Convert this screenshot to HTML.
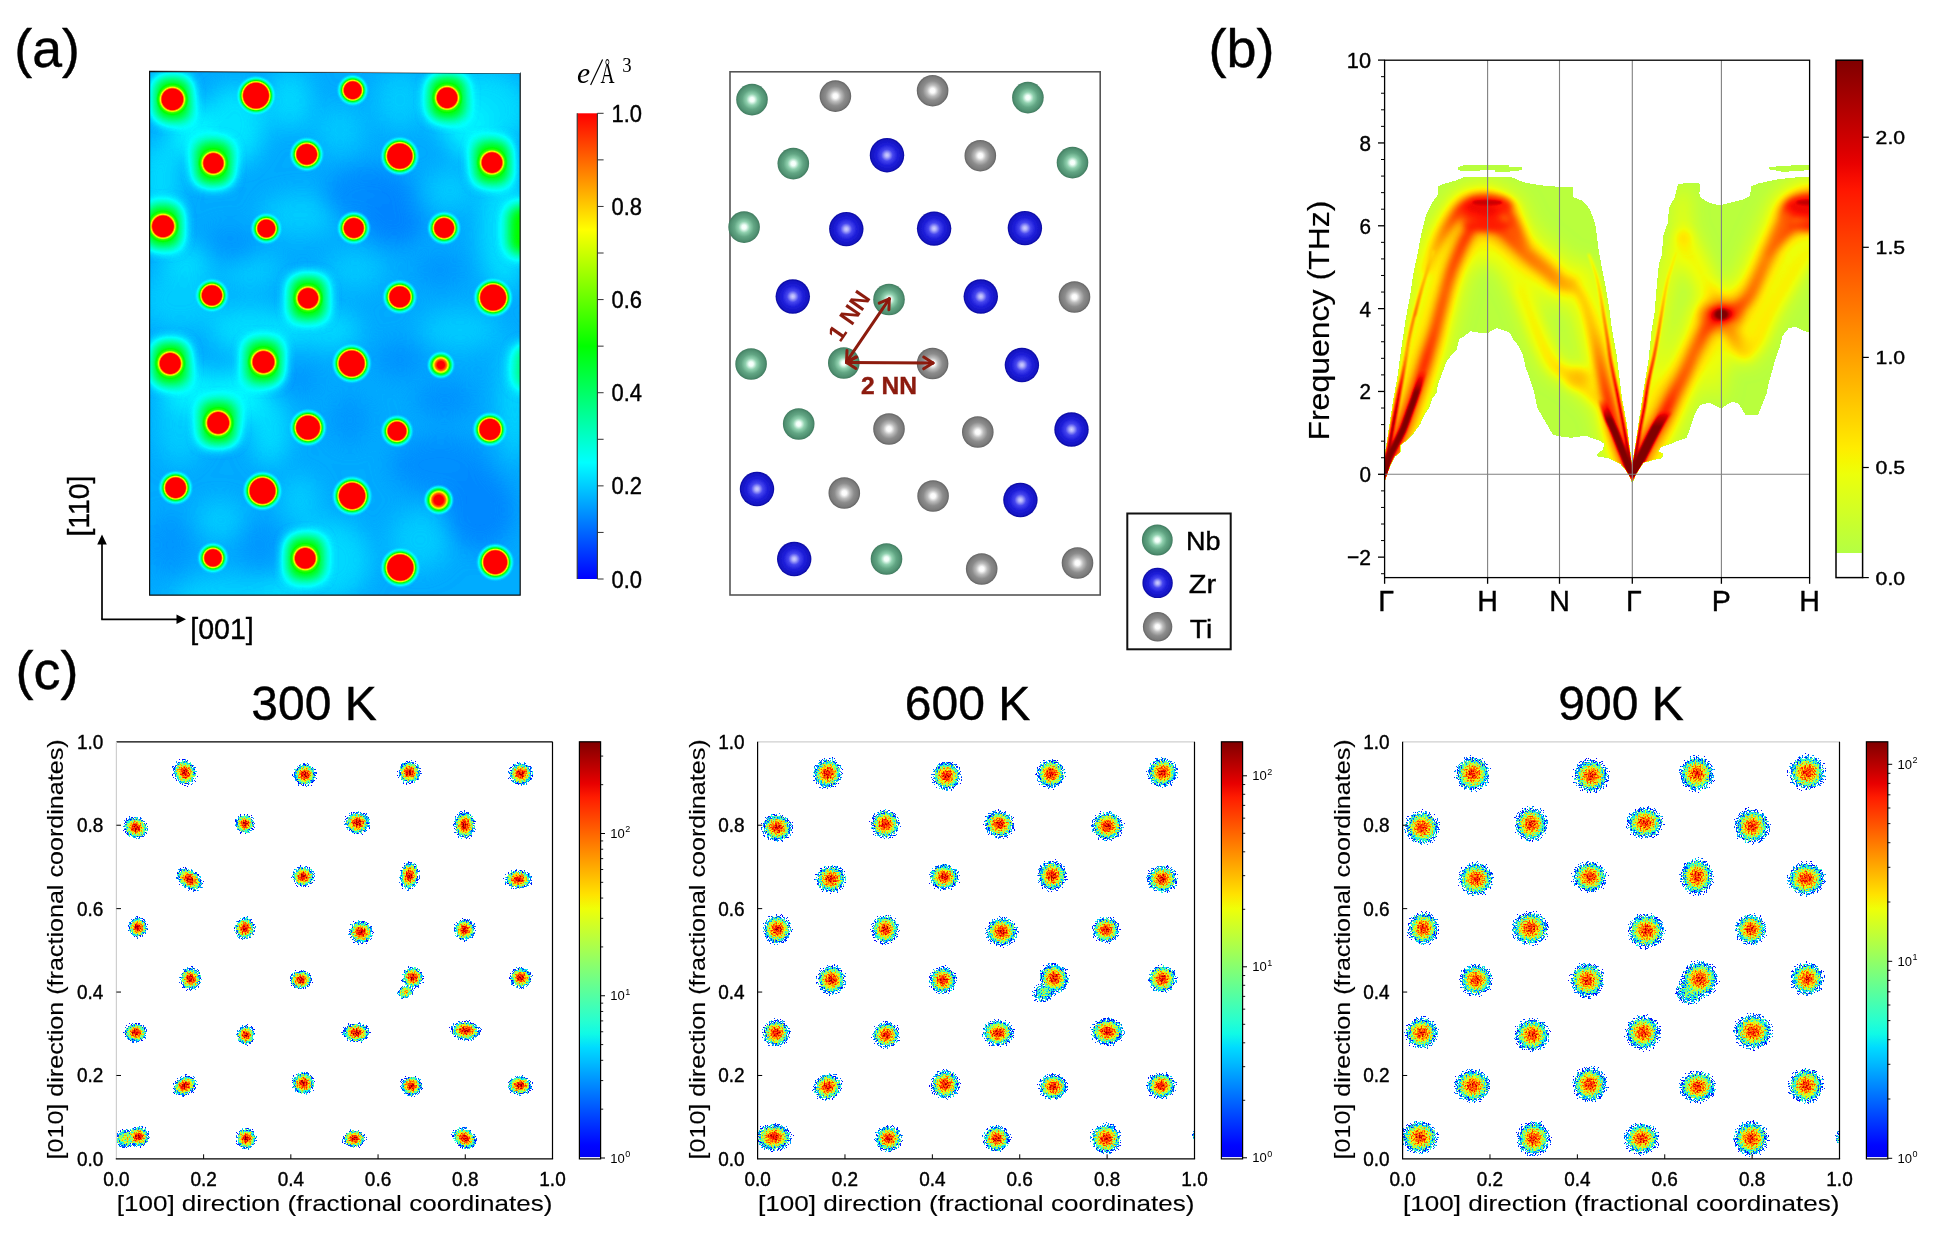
<!DOCTYPE html>
<html><head><meta charset="utf-8"><title>figure</title>
<style>html,body{margin:0;padding:0;background:#fff;}svg{display:block}</style>
</head><body>
<svg width="1944" height="1250" viewBox="0 0 1944 1250">
<defs>
<filter id="tsoft" filterUnits="userSpaceOnUse" x="0" y="0" width="1944" height="1250"><feGaussianBlur stdDeviation="0.35"/></filter>
<filter id="rainbow" filterUnits="userSpaceOnUse" x="140" y="60" width="400" height="550" color-interpolation-filters="sRGB">
<feComponentTransfer>
<feFuncR type="table" tableValues="0 0 0 1 1"/>
<feFuncG type="table" tableValues="0 1 1 1 0"/>
<feFuncB type="table" tableValues="1 1 0 0 0"/>
</feComponentTransfer></filter>
<filter id="hb10" filterUnits="userSpaceOnUse" x="100" y="20" width="480" height="630" color-interpolation-filters="sRGB"><feGaussianBlur stdDeviation="11"/></filter>
<filter id="hb6" filterUnits="userSpaceOnUse" x="100" y="20" width="480" height="630" color-interpolation-filters="sRGB"><feGaussianBlur stdDeviation="6.2"/></filter>
<clipPath id="hclip"><rect x="149.6" y="72.0" width="370.6" height="523.2"/></clipPath>
<radialGradient id="hg0"><stop offset="0" stop-color="#fff"/><stop offset="0.533" stop-color="rgb(255,255,255)" stop-opacity="1"/><stop offset="0.610" stop-color="rgb(194,194,194)" stop-opacity="1"/><stop offset="0.687" stop-color="rgb(140,140,140)" stop-opacity="1"/><stop offset="0.846" stop-color="rgb(133,133,133)" stop-opacity="0"/></radialGradient>
<radialGradient id="hg1"><stop offset="0" stop-color="#fff"/><stop offset="0.577" stop-color="rgb(255,255,255)" stop-opacity="1"/><stop offset="0.642" stop-color="rgb(194,194,194)" stop-opacity="1"/><stop offset="0.702" stop-color="rgb(128,128,128)" stop-opacity="1"/><stop offset="0.772" stop-color="rgb(82,82,82)" stop-opacity="1"/><stop offset="0.847" stop-color="rgb(64,64,64)" stop-opacity="0.7"/><stop offset="0.953" stop-color="rgb(51,51,51)" stop-opacity="0"/></radialGradient>
<radialGradient id="hg2"><stop offset="0" stop-color="#fff"/><stop offset="0.480" stop-color="rgb(255,255,255)" stop-opacity="1"/><stop offset="0.560" stop-color="rgb(194,194,194)" stop-opacity="1"/><stop offset="0.634" stop-color="rgb(128,128,128)" stop-opacity="1"/><stop offset="0.720" stop-color="rgb(82,82,82)" stop-opacity="1"/><stop offset="0.811" stop-color="rgb(64,64,64)" stop-opacity="0.7"/><stop offset="0.943" stop-color="rgb(51,51,51)" stop-opacity="0"/></radialGradient>
<radialGradient id="hg3"><stop offset="0" stop-color="#fff"/><stop offset="0.519" stop-color="rgb(255,255,255)" stop-opacity="1"/><stop offset="0.598" stop-color="rgb(194,194,194)" stop-opacity="1"/><stop offset="0.677" stop-color="rgb(140,140,140)" stop-opacity="1"/><stop offset="0.841" stop-color="rgb(133,133,133)" stop-opacity="0"/></radialGradient>
<radialGradient id="hg4"><stop offset="0" stop-color="#fff"/><stop offset="0.513" stop-color="rgb(255,255,255)" stop-opacity="1"/><stop offset="0.594" stop-color="rgb(194,194,194)" stop-opacity="1"/><stop offset="0.674" stop-color="rgb(140,140,140)" stop-opacity="1"/><stop offset="0.840" stop-color="rgb(133,133,133)" stop-opacity="0"/></radialGradient>
<radialGradient id="hg5"><stop offset="0" stop-color="#fff"/><stop offset="0.519" stop-color="rgb(255,255,255)" stop-opacity="1"/><stop offset="0.593" stop-color="rgb(194,194,194)" stop-opacity="1"/><stop offset="0.661" stop-color="rgb(128,128,128)" stop-opacity="1"/><stop offset="0.741" stop-color="rgb(82,82,82)" stop-opacity="1"/><stop offset="0.825" stop-color="rgb(64,64,64)" stop-opacity="0.7"/><stop offset="0.947" stop-color="rgb(51,51,51)" stop-opacity="0"/></radialGradient>
<radialGradient id="hg6"><stop offset="0" stop-color="#fff"/><stop offset="0.571" stop-color="rgb(255,255,255)" stop-opacity="1"/><stop offset="0.637" stop-color="rgb(194,194,194)" stop-opacity="1"/><stop offset="0.698" stop-color="rgb(128,128,128)" stop-opacity="1"/><stop offset="0.769" stop-color="rgb(82,82,82)" stop-opacity="1"/><stop offset="0.844" stop-color="rgb(64,64,64)" stop-opacity="0.7"/><stop offset="0.953" stop-color="rgb(51,51,51)" stop-opacity="0"/></radialGradient>
<radialGradient id="hg7"><stop offset="0" stop-color="#fff"/><stop offset="0.519" stop-color="rgb(255,255,255)" stop-opacity="1"/><stop offset="0.598" stop-color="rgb(194,194,194)" stop-opacity="1"/><stop offset="0.677" stop-color="rgb(140,140,140)" stop-opacity="1"/><stop offset="0.841" stop-color="rgb(133,133,133)" stop-opacity="0"/></radialGradient>
<radialGradient id="hg8"><stop offset="0" stop-color="#fff"/><stop offset="0.533" stop-color="rgb(255,255,255)" stop-opacity="1"/><stop offset="0.610" stop-color="rgb(194,194,194)" stop-opacity="1"/><stop offset="0.687" stop-color="rgb(140,140,140)" stop-opacity="1"/><stop offset="0.846" stop-color="rgb(133,133,133)" stop-opacity="0"/></radialGradient>
<radialGradient id="hg9"><stop offset="0" stop-color="#fff"/><stop offset="0.480" stop-color="rgb(255,255,255)" stop-opacity="1"/><stop offset="0.560" stop-color="rgb(194,194,194)" stop-opacity="1"/><stop offset="0.634" stop-color="rgb(128,128,128)" stop-opacity="1"/><stop offset="0.720" stop-color="rgb(82,82,82)" stop-opacity="1"/><stop offset="0.811" stop-color="rgb(64,64,64)" stop-opacity="0.7"/><stop offset="0.943" stop-color="rgb(51,51,51)" stop-opacity="0"/></radialGradient>
<radialGradient id="hg10"><stop offset="0" stop-color="#fff"/><stop offset="0.508" stop-color="rgb(255,255,255)" stop-opacity="1"/><stop offset="0.584" stop-color="rgb(194,194,194)" stop-opacity="1"/><stop offset="0.654" stop-color="rgb(128,128,128)" stop-opacity="1"/><stop offset="0.735" stop-color="rgb(82,82,82)" stop-opacity="1"/><stop offset="0.822" stop-color="rgb(64,64,64)" stop-opacity="0.7"/><stop offset="0.946" stop-color="rgb(51,51,51)" stop-opacity="0"/></radialGradient>
<radialGradient id="hg11"><stop offset="0" stop-color="#fff"/><stop offset="0.508" stop-color="rgb(255,255,255)" stop-opacity="1"/><stop offset="0.584" stop-color="rgb(194,194,194)" stop-opacity="1"/><stop offset="0.654" stop-color="rgb(128,128,128)" stop-opacity="1"/><stop offset="0.735" stop-color="rgb(82,82,82)" stop-opacity="1"/><stop offset="0.822" stop-color="rgb(64,64,64)" stop-opacity="0.7"/><stop offset="0.946" stop-color="rgb(51,51,51)" stop-opacity="0"/></radialGradient>
<radialGradient id="hg12"><stop offset="0" stop-color="#fff"/><stop offset="0.513" stop-color="rgb(255,255,255)" stop-opacity="1"/><stop offset="0.588" stop-color="rgb(194,194,194)" stop-opacity="1"/><stop offset="0.658" stop-color="rgb(128,128,128)" stop-opacity="1"/><stop offset="0.738" stop-color="rgb(82,82,82)" stop-opacity="1"/><stop offset="0.824" stop-color="rgb(64,64,64)" stop-opacity="0.7"/><stop offset="0.947" stop-color="rgb(51,51,51)" stop-opacity="0"/></radialGradient>
<radialGradient id="hg13"><stop offset="0" stop-color="#fff"/><stop offset="0.513" stop-color="rgb(255,255,255)" stop-opacity="1"/><stop offset="0.594" stop-color="rgb(194,194,194)" stop-opacity="1"/><stop offset="0.674" stop-color="rgb(140,140,140)" stop-opacity="1"/><stop offset="0.840" stop-color="rgb(133,133,133)" stop-opacity="0"/></radialGradient>
<radialGradient id="hg14"><stop offset="0" stop-color="#fff"/><stop offset="0.524" stop-color="rgb(255,255,255)" stop-opacity="1"/><stop offset="0.597" stop-color="rgb(194,194,194)" stop-opacity="1"/><stop offset="0.665" stop-color="rgb(128,128,128)" stop-opacity="1"/><stop offset="0.743" stop-color="rgb(82,82,82)" stop-opacity="1"/><stop offset="0.827" stop-color="rgb(64,64,64)" stop-opacity="0.7"/><stop offset="0.948" stop-color="rgb(51,51,51)" stop-opacity="0"/></radialGradient>
<radialGradient id="hg15"><stop offset="0" stop-color="#fff"/><stop offset="0.577" stop-color="rgb(255,255,255)" stop-opacity="1"/><stop offset="0.642" stop-color="rgb(194,194,194)" stop-opacity="1"/><stop offset="0.702" stop-color="rgb(128,128,128)" stop-opacity="1"/><stop offset="0.772" stop-color="rgb(82,82,82)" stop-opacity="1"/><stop offset="0.847" stop-color="rgb(64,64,64)" stop-opacity="0.7"/><stop offset="0.953" stop-color="rgb(51,51,51)" stop-opacity="0"/></radialGradient>
<radialGradient id="hg16"><stop offset="0" stop-color="#fff"/><stop offset="0.524" stop-color="rgb(255,255,255)" stop-opacity="1"/><stop offset="0.602" stop-color="rgb(194,194,194)" stop-opacity="1"/><stop offset="0.681" stop-color="rgb(140,140,140)" stop-opacity="1"/><stop offset="0.843" stop-color="rgb(133,133,133)" stop-opacity="0"/></radialGradient>
<radialGradient id="hg17"><stop offset="0" stop-color="#fff"/><stop offset="0.533" stop-color="rgb(255,255,255)" stop-opacity="1"/><stop offset="0.610" stop-color="rgb(194,194,194)" stop-opacity="1"/><stop offset="0.687" stop-color="rgb(140,140,140)" stop-opacity="1"/><stop offset="0.846" stop-color="rgb(133,133,133)" stop-opacity="0"/></radialGradient>
<radialGradient id="hg18"><stop offset="0" stop-color="#fff"/><stop offset="0.577" stop-color="rgb(255,255,255)" stop-opacity="1"/><stop offset="0.642" stop-color="rgb(194,194,194)" stop-opacity="1"/><stop offset="0.702" stop-color="rgb(128,128,128)" stop-opacity="1"/><stop offset="0.772" stop-color="rgb(82,82,82)" stop-opacity="1"/><stop offset="0.847" stop-color="rgb(64,64,64)" stop-opacity="0.7"/><stop offset="0.953" stop-color="rgb(51,51,51)" stop-opacity="0"/></radialGradient>
<radialGradient id="hg19"><stop offset="0" stop-color="#fff"/><stop offset="0.241" stop-color="rgb(255,255,255)" stop-opacity="1"/><stop offset="0.379" stop-color="rgb(230,230,230)" stop-opacity="1"/><stop offset="0.497" stop-color="rgb(189,189,189)" stop-opacity="1"/><stop offset="0.621" stop-color="rgb(128,128,128)" stop-opacity="1"/><stop offset="0.772" stop-color="rgb(76,76,76)" stop-opacity="1"/><stop offset="1.000" stop-color="rgb(51,51,51)" stop-opacity="0"/></radialGradient>
<radialGradient id="hg20"><stop offset="0" stop-color="#fff"/><stop offset="0.533" stop-color="rgb(255,255,255)" stop-opacity="1"/><stop offset="0.610" stop-color="rgb(194,194,194)" stop-opacity="1"/><stop offset="0.687" stop-color="rgb(140,140,140)" stop-opacity="1"/><stop offset="0.846" stop-color="rgb(133,133,133)" stop-opacity="0"/></radialGradient>
<radialGradient id="hg21"><stop offset="0" stop-color="#fff"/><stop offset="0.556" stop-color="rgb(255,255,255)" stop-opacity="1"/><stop offset="0.624" stop-color="rgb(194,194,194)" stop-opacity="1"/><stop offset="0.688" stop-color="rgb(128,128,128)" stop-opacity="1"/><stop offset="0.761" stop-color="rgb(82,82,82)" stop-opacity="1"/><stop offset="0.839" stop-color="rgb(64,64,64)" stop-opacity="0.7"/><stop offset="0.951" stop-color="rgb(51,51,51)" stop-opacity="0"/></radialGradient>
<radialGradient id="hg22"><stop offset="0" stop-color="#fff"/><stop offset="0.494" stop-color="rgb(255,255,255)" stop-opacity="1"/><stop offset="0.572" stop-color="rgb(194,194,194)" stop-opacity="1"/><stop offset="0.644" stop-color="rgb(128,128,128)" stop-opacity="1"/><stop offset="0.728" stop-color="rgb(82,82,82)" stop-opacity="1"/><stop offset="0.817" stop-color="rgb(64,64,64)" stop-opacity="0.7"/><stop offset="0.944" stop-color="rgb(51,51,51)" stop-opacity="0"/></radialGradient>
<radialGradient id="hg23"><stop offset="0" stop-color="#fff"/><stop offset="0.524" stop-color="rgb(255,255,255)" stop-opacity="1"/><stop offset="0.597" stop-color="rgb(194,194,194)" stop-opacity="1"/><stop offset="0.665" stop-color="rgb(128,128,128)" stop-opacity="1"/><stop offset="0.743" stop-color="rgb(82,82,82)" stop-opacity="1"/><stop offset="0.827" stop-color="rgb(64,64,64)" stop-opacity="0.7"/><stop offset="0.948" stop-color="rgb(51,51,51)" stop-opacity="0"/></radialGradient>
<radialGradient id="hg24"><stop offset="0" stop-color="#fff"/><stop offset="0.519" stop-color="rgb(255,255,255)" stop-opacity="1"/><stop offset="0.593" stop-color="rgb(194,194,194)" stop-opacity="1"/><stop offset="0.661" stop-color="rgb(128,128,128)" stop-opacity="1"/><stop offset="0.741" stop-color="rgb(82,82,82)" stop-opacity="1"/><stop offset="0.825" stop-color="rgb(64,64,64)" stop-opacity="0.7"/><stop offset="0.947" stop-color="rgb(51,51,51)" stop-opacity="0"/></radialGradient>
<radialGradient id="hg25"><stop offset="0" stop-color="#fff"/><stop offset="0.577" stop-color="rgb(255,255,255)" stop-opacity="1"/><stop offset="0.642" stop-color="rgb(194,194,194)" stop-opacity="1"/><stop offset="0.702" stop-color="rgb(128,128,128)" stop-opacity="1"/><stop offset="0.772" stop-color="rgb(82,82,82)" stop-opacity="1"/><stop offset="0.847" stop-color="rgb(64,64,64)" stop-opacity="0.7"/><stop offset="0.953" stop-color="rgb(51,51,51)" stop-opacity="0"/></radialGradient>
<radialGradient id="hg26"><stop offset="0" stop-color="#fff"/><stop offset="0.581" stop-color="rgb(255,255,255)" stop-opacity="1"/><stop offset="0.645" stop-color="rgb(194,194,194)" stop-opacity="1"/><stop offset="0.705" stop-color="rgb(128,128,128)" stop-opacity="1"/><stop offset="0.774" stop-color="rgb(82,82,82)" stop-opacity="1"/><stop offset="0.848" stop-color="rgb(64,64,64)" stop-opacity="0.7"/><stop offset="0.954" stop-color="rgb(51,51,51)" stop-opacity="0"/></radialGradient>
<radialGradient id="hg27"><stop offset="0" stop-color="#fff"/><stop offset="0.299" stop-color="rgb(255,255,255)" stop-opacity="1"/><stop offset="0.427" stop-color="rgb(230,230,230)" stop-opacity="1"/><stop offset="0.535" stop-color="rgb(189,189,189)" stop-opacity="1"/><stop offset="0.650" stop-color="rgb(128,128,128)" stop-opacity="1"/><stop offset="0.790" stop-color="rgb(76,76,76)" stop-opacity="1"/><stop offset="1.000" stop-color="rgb(51,51,51)" stop-opacity="0"/></radialGradient>
<radialGradient id="hg28"><stop offset="0" stop-color="#fff"/><stop offset="0.474" stop-color="rgb(255,255,255)" stop-opacity="1"/><stop offset="0.555" stop-color="rgb(194,194,194)" stop-opacity="1"/><stop offset="0.630" stop-color="rgb(128,128,128)" stop-opacity="1"/><stop offset="0.717" stop-color="rgb(82,82,82)" stop-opacity="1"/><stop offset="0.809" stop-color="rgb(64,64,64)" stop-opacity="0.7"/><stop offset="0.942" stop-color="rgb(51,51,51)" stop-opacity="0"/></radialGradient>
<radialGradient id="hg29"><stop offset="0" stop-color="#fff"/><stop offset="0.519" stop-color="rgb(255,255,255)" stop-opacity="1"/><stop offset="0.598" stop-color="rgb(194,194,194)" stop-opacity="1"/><stop offset="0.677" stop-color="rgb(140,140,140)" stop-opacity="1"/><stop offset="0.841" stop-color="rgb(133,133,133)" stop-opacity="0"/></radialGradient>
<radialGradient id="hg30"><stop offset="0" stop-color="#fff"/><stop offset="0.581" stop-color="rgb(255,255,255)" stop-opacity="1"/><stop offset="0.645" stop-color="rgb(194,194,194)" stop-opacity="1"/><stop offset="0.705" stop-color="rgb(128,128,128)" stop-opacity="1"/><stop offset="0.774" stop-color="rgb(82,82,82)" stop-opacity="1"/><stop offset="0.848" stop-color="rgb(64,64,64)" stop-opacity="0.7"/><stop offset="0.954" stop-color="rgb(51,51,51)" stop-opacity="0"/></radialGradient>
<radialGradient id="hg31"><stop offset="0" stop-color="#fff"/><stop offset="0.556" stop-color="rgb(255,255,255)" stop-opacity="1"/><stop offset="0.624" stop-color="rgb(194,194,194)" stop-opacity="1"/><stop offset="0.688" stop-color="rgb(128,128,128)" stop-opacity="1"/><stop offset="0.761" stop-color="rgb(82,82,82)" stop-opacity="1"/><stop offset="0.839" stop-color="rgb(64,64,64)" stop-opacity="0.7"/><stop offset="0.951" stop-color="rgb(51,51,51)" stop-opacity="0"/></radialGradient>
<linearGradient id="cba" x1="0" y1="1" x2="0" y2="0">
<stop offset="0" stop-color="#0000ff"/><stop offset="0.25" stop-color="#00ffff"/><stop offset="0.5" stop-color="#00ff00"/><stop offset="0.75" stop-color="#ffff00"/><stop offset="1" stop-color="#ff0000"/></linearGradient>
<radialGradient id="aNb" cx="0.5" cy="0.5" r="0.5" fx="0.5" fy="0.5">
<stop offset="0" stop-color="#ffffff"/><stop offset="0.14" stop-color="#f0fff8"/><stop offset="0.36" stop-color="#8fd0ae"/><stop offset="0.62" stop-color="#62a684"/><stop offset="0.88" stop-color="#4f8f70"/><stop offset="1" stop-color="#3f7a5e"/></radialGradient>
<radialGradient id="aZr" cx="0.5" cy="0.5" r="0.5">
<stop offset="0" stop-color="#d0d0ff"/><stop offset="0.12" stop-color="#b0b0fa"/><stop offset="0.34" stop-color="#4545ee"/><stop offset="0.6" stop-color="#1f1fda"/><stop offset="0.88" stop-color="#1414c4"/><stop offset="1" stop-color="#0c0ca0"/></radialGradient>
<radialGradient id="aTi" cx="0.5" cy="0.5" r="0.5">
<stop offset="0" stop-color="#ffffff"/><stop offset="0.15" stop-color="#fafafa"/><stop offset="0.36" stop-color="#bcbcbc"/><stop offset="0.62" stop-color="#8c8c8c"/><stop offset="0.88" stop-color="#7a7a7a"/><stop offset="1" stop-color="#626262"/></radialGradient>
<filter id="soft" x="-20%" y="-20%" width="140%" height="140%"><feGaussianBlur stdDeviation="0.6"/></filter>
<filter id="hotmap" filterUnits="userSpaceOnUse" x="1380" y="55" width="435" height="530" color-interpolation-filters="sRGB">
<feComponentTransfer><feFuncR type="table" tableValues="1.000 1.000 1.000 1.000 1.000 1.000 1.000 1.000 1.000 1.000 1.000 1.000 0.704 0.710 0.716 0.721 0.727 0.733 0.739 0.744 0.750 0.756 0.762 0.767 0.773 0.779 0.784 0.790 0.796 0.802 0.807 0.813 0.819 0.825 0.830 0.836 0.842 0.848 0.853 0.859 0.865 0.870 0.876 0.882 0.888 0.893 0.899 0.905 0.911 0.916 0.922 0.928 0.933 0.939 0.945 0.951 0.956 0.962 0.968 0.974 0.979 0.985 0.991 0.997 1.000 1.000 1.000 1.000 1.000 1.000 1.000 1.000 1.000 1.000 1.000 1.000 1.000 1.000 1.000 1.000 1.000 1.000 1.000 1.000 1.000 1.000 1.000 1.000 1.000 1.000 1.000 1.000 1.000 1.000 1.000 1.000 1.000 1.000 1.000 1.000 1.000 1.000 1.000 1.000 1.000 1.000 1.000 1.000 1.000 1.000 1.000 1.000 1.000 1.000 1.000 1.000 1.000 1.000 1.000 1.000 1.000 1.000 1.000 1.000 1.000 1.000 1.000 1.000 1.000 1.000 1.000 1.000 1.000 1.000 1.000 1.000 1.000 1.000 1.000 1.000 1.000 1.000 1.000 1.000 1.000 1.000 1.000 1.000 1.000 1.000 1.000 1.000 1.000 1.000 1.000 1.000 1.000 1.000 1.000 1.000 1.000 1.000 1.000 1.000 1.000 1.000 1.000 1.000 1.000 1.000 1.000 1.000 1.000 1.000 1.000 1.000 1.000 1.000 1.000 1.000 1.000 1.000 1.000 1.000 1.000 1.000 1.000 1.000 1.000 1.000 1.000 1.000 1.000 1.000 0.993 0.984 0.976 0.968 0.960 0.952 0.944 0.936 0.928 0.920 0.912 0.904 0.896 0.888 0.880 0.871 0.863 0.855 0.847 0.839 0.831 0.823 0.815 0.807 0.799 0.791 0.783 0.775 0.766 0.758 0.750 0.742 0.734 0.726 0.718 0.710 0.702 0.694 0.686 0.678 0.670 0.661 0.653 0.645 0.637 0.629 0.621 0.613 0.605 0.597 0.589 0.581 0.573 0.565 0.557 0.548 0.540 0.532 0.524 0.516 0.508 0.500"/><feFuncG type="table" tableValues="1.000 1.000 1.000 1.000 1.000 1.000 1.000 1.000 1.000 1.000 1.000 1.000 1.000 1.000 1.000 1.000 1.000 1.000 1.000 1.000 1.000 1.000 1.000 1.000 1.000 1.000 1.000 1.000 1.000 1.000 1.000 1.000 1.000 1.000 1.000 1.000 1.000 1.000 1.000 1.000 1.000 1.000 1.000 1.000 1.000 1.000 1.000 1.000 1.000 1.000 1.000 1.000 1.000 0.996 0.989 0.983 0.976 0.969 0.963 0.956 0.950 0.943 0.937 0.930 0.923 0.917 0.910 0.904 0.897 0.890 0.884 0.877 0.871 0.864 0.858 0.851 0.844 0.838 0.831 0.825 0.818 0.812 0.805 0.798 0.792 0.785 0.779 0.772 0.765 0.759 0.752 0.746 0.739 0.733 0.726 0.719 0.713 0.706 0.700 0.693 0.686 0.680 0.673 0.667 0.660 0.654 0.647 0.640 0.634 0.627 0.621 0.614 0.608 0.601 0.594 0.588 0.581 0.575 0.568 0.561 0.555 0.548 0.542 0.535 0.529 0.522 0.515 0.509 0.502 0.496 0.489 0.483 0.476 0.469 0.463 0.456 0.450 0.443 0.436 0.430 0.423 0.417 0.410 0.404 0.397 0.390 0.384 0.377 0.371 0.364 0.358 0.351 0.344 0.338 0.331 0.325 0.318 0.311 0.305 0.298 0.292 0.285 0.279 0.272 0.265 0.259 0.252 0.246 0.239 0.233 0.226 0.219 0.213 0.206 0.200 0.193 0.186 0.180 0.173 0.167 0.160 0.154 0.147 0.140 0.134 0.127 0.121 0.114 0.107 0.101 0.094 0.088 0.081 0.075 0.068 0.061 0.055 0.048 0.042 0.035 0.029 0.022 0.015 0.009 0.002 0.000 0.000 0.000 0.000 0.000 0.000 0.000 0.000 0.000 0.000 0.000 0.000 0.000 0.000 0.000 0.000 0.000 0.000 0.000 0.000 0.000 0.000 0.000 0.000 0.000 0.000 0.000 0.000 0.000 0.000 0.000 0.000 0.000 0.000 0.000 0.000 0.000 0.000 0.000 0.000 0.000 0.000 0.000 0.000 0.000 0.000 0.000 0.000 0.000 0.000 0.000"/><feFuncB type="table" tableValues="1.000 1.000 1.000 1.000 1.000 1.000 1.000 1.000 1.000 1.000 1.000 1.000 0.263 0.258 0.252 0.246 0.241 0.235 0.229 0.223 0.218 0.212 0.206 0.200 0.195 0.189 0.183 0.178 0.172 0.166 0.160 0.155 0.149 0.143 0.137 0.132 0.126 0.120 0.114 0.109 0.103 0.097 0.092 0.086 0.080 0.074 0.069 0.063 0.057 0.051 0.046 0.040 0.034 0.029 0.023 0.017 0.011 0.006 0.000 0.000 0.000 0.000 0.000 0.000 0.000 0.000 0.000 0.000 0.000 0.000 0.000 0.000 0.000 0.000 0.000 0.000 0.000 0.000 0.000 0.000 0.000 0.000 0.000 0.000 0.000 0.000 0.000 0.000 0.000 0.000 0.000 0.000 0.000 0.000 0.000 0.000 0.000 0.000 0.000 0.000 0.000 0.000 0.000 0.000 0.000 0.000 0.000 0.000 0.000 0.000 0.000 0.000 0.000 0.000 0.000 0.000 0.000 0.000 0.000 0.000 0.000 0.000 0.000 0.000 0.000 0.000 0.000 0.000 0.000 0.000 0.000 0.000 0.000 0.000 0.000 0.000 0.000 0.000 0.000 0.000 0.000 0.000 0.000 0.000 0.000 0.000 0.000 0.000 0.000 0.000 0.000 0.000 0.000 0.000 0.000 0.000 0.000 0.000 0.000 0.000 0.000 0.000 0.000 0.000 0.000 0.000 0.000 0.000 0.000 0.000 0.000 0.000 0.000 0.000 0.000 0.000 0.000 0.000 0.000 0.000 0.000 0.000 0.000 0.000 0.000 0.000 0.000 0.000 0.000 0.000 0.000 0.000 0.000 0.000 0.000 0.000 0.000 0.000 0.000 0.000 0.000 0.000 0.000 0.000 0.000 0.000 0.000 0.000 0.000 0.000 0.000 0.000 0.000 0.000 0.000 0.000 0.000 0.000 0.000 0.000 0.000 0.000 0.000 0.000 0.000 0.000 0.000 0.000 0.000 0.000 0.000 0.000 0.000 0.000 0.000 0.000 0.000 0.000 0.000 0.000 0.000 0.000 0.000 0.000 0.000 0.000 0.000 0.000 0.000 0.000 0.000 0.000 0.000 0.000 0.000 0.000"/></feComponentTransfer></filter>
<filter id="bb9" filterUnits="userSpaceOnUse" x="1340" y="20" width="520" height="600" color-interpolation-filters="sRGB"><feGaussianBlur stdDeviation="9"/></filter>
<filter id="bb5" filterUnits="userSpaceOnUse" x="1340" y="20" width="520" height="600" color-interpolation-filters="sRGB"><feGaussianBlur stdDeviation="5"/></filter>
<filter id="bb3" filterUnits="userSpaceOnUse" x="1340" y="20" width="520" height="600" color-interpolation-filters="sRGB"><feGaussianBlur stdDeviation="3.0"/></filter>
<filter id="bb15" filterUnits="userSpaceOnUse" x="1340" y="20" width="520" height="600" color-interpolation-filters="sRGB"><feGaussianBlur stdDeviation="1.25"/></filter>
<filter id="bb08" filterUnits="userSpaceOnUse" x="1340" y="20" width="520" height="600" color-interpolation-filters="sRGB"><feGaussianBlur stdDeviation="0.8"/></filter>
<clipPath id="benv"><path d="M1384.4 482.5 L1384.4 456.6 L1386.7 445.1 L1390.1 422.1 L1393.6 399.1 L1397.3 378.9 L1401.7 347.3 L1406.0 318.5 L1410.3 295.4 L1413.2 275.3 L1417.5 255.1 L1421.8 232.1 L1426.1 214.8 L1431.9 203.3 L1437.6 194.7 L1437.6 186.1 L1445.4 183.2 L1456.4 180.3 L1465.0 176.8 L1487.4 176.8 L1511.0 176.8 L1522.6 181.7 L1534.1 184.0 L1548.5 186.1 L1572.9 186.9 L1572.9 197.0 L1581.6 199.9 L1588.8 207.6 L1593.1 216.3 L1596.0 226.4 L1598.8 249.4 L1601.7 266.7 L1606.0 289.7 L1608.9 307.0 L1611.8 330.0 L1616.1 353.0 L1619.0 376.0 L1621.9 399.1 L1626.2 422.1 L1629.1 445.1 L1631.4 462.4 L1632.5 482.5 L1629.1 475.3 L1624.7 468.2 L1620.4 463.8 L1614.7 461.0 L1608.9 458.1 L1597.4 456.6 L1597.4 453.8 L1603.2 449.4 L1604.6 443.7 L1600.3 440.8 L1591.6 437.9 L1585.9 435.9 L1571.5 437.9 L1559.4 436.5 L1552.8 435.0 L1547.0 425.0 L1542.7 417.8 L1537.0 407.7 L1534.1 393.3 L1529.8 378.9 L1525.4 367.4 L1522.6 354.5 L1518.2 345.8 L1512.5 338.6 L1509.6 332.9 L1502.4 330.0 L1496.7 328.5 L1490.9 331.4 L1487.4 333.4 L1482.3 333.4 L1470.7 331.4 L1465.0 335.7 L1459.2 339.2 L1456.4 350.1 L1450.6 355.9 L1446.3 361.6 L1442.0 373.2 L1437.6 384.7 L1436.2 393.3 L1431.9 399.1 L1429.0 407.7 L1423.3 416.3 L1420.4 423.5 L1413.2 433.6 L1406.0 440.8 L1400.2 445.1 L1400.2 452.3 L1394.5 456.6 L1390.1 465.3 L1386.7 475.3Z M1457.8 167.3 L1465.0 164.5 L1508.2 164.5 L1509.6 166.5 L1522.6 167.3 L1522.6 170.2 L1511.0 171.7 L1495.2 172.2 L1495.2 170.2 L1486.6 170.2 L1462.1 171.7 L1457.8 169.4Z M1632.2 482.5 L1632.8 462.4 L1636.0 442.2 L1640.3 413.5 L1644.6 384.7 L1648.9 358.8 L1651.8 330.0 L1654.7 312.7 L1656.1 295.4 L1659.0 263.8 L1661.9 255.1 L1663.3 235.0 L1667.6 223.5 L1669.1 207.6 L1674.8 197.6 L1677.7 184.6 L1683.5 183.2 L1699.3 183.2 L1700.7 186.1 L1699.3 193.3 L1700.7 197.6 L1706.5 201.3 L1713.7 203.9 L1721.5 204.8 L1735.3 201.3 L1743.9 199.0 L1749.7 196.1 L1751.1 186.1 L1758.3 183.2 L1767.0 181.2 L1778.5 178.9 L1795.7 177.4 L1811.6 176.8 L1811.6 332.9 L1804.4 331.4 L1795.7 327.1 L1788.5 328.5 L1782.8 335.7 L1779.9 347.3 L1775.6 358.8 L1772.7 370.3 L1768.4 384.7 L1767.0 393.3 L1761.2 407.7 L1758.3 414.9 L1745.4 414.9 L1742.5 410.6 L1738.2 403.4 L1732.4 401.9 L1726.7 404.8 L1721.5 409.1 L1716.6 406.3 L1710.8 403.4 L1703.6 403.4 L1699.3 406.3 L1695.0 413.5 L1692.1 422.1 L1689.2 430.7 L1686.4 437.9 L1677.7 440.8 L1670.5 443.7 L1661.9 446.6 L1657.6 450.9 L1663.3 453.8 L1661.9 458.1 L1654.7 459.5 L1643.2 462.4 L1636.0 473.9Z M1768.4 167.3 L1778.5 165.9 L1790.0 165.9 L1792.9 164.5 L1811.6 164.5 L1811.6 170.2 L1795.7 171.1 L1784.2 172.2 L1777.0 171.1 L1768.4 169.4Z"/></clipPath>
<clipPath id="bax"><rect x="1384.6" y="60.2" width="425.0" height="517.4"/></clipPath>
<linearGradient id="bg1" gradientUnits="userSpaceOnUse" x1="0" y1="221.5" x2="0" y2="475.3"><stop offset="0.000" stop-color="rgb(66,66,66)"/><stop offset="0.133" stop-color="rgb(61,61,61)"/><stop offset="0.269" stop-color="rgb(55,55,55)"/><stop offset="0.416" stop-color="rgb(59,59,59)"/><stop offset="0.541" stop-color="rgb(66,66,66)"/><stop offset="1.000" stop-color="rgb(69,69,69)"/></linearGradient>
<linearGradient id="bg2" gradientUnits="userSpaceOnUse" x1="0" y1="221.5" x2="0" y2="475.3"><stop offset="0.000" stop-color="rgb(118,118,118)"/><stop offset="0.133" stop-color="rgb(108,108,108)"/><stop offset="0.269" stop-color="rgb(98,98,98)"/><stop offset="0.416" stop-color="rgb(104,104,104)"/><stop offset="0.541" stop-color="rgb(118,118,118)"/><stop offset="1.000" stop-color="rgb(122,122,122)"/></linearGradient>
<linearGradient id="bg3" gradientUnits="userSpaceOnUse" x1="0" y1="221.5" x2="0" y2="475.3"><stop offset="0.000" stop-color="rgb(184,184,184)"/><stop offset="0.133" stop-color="rgb(168,168,168)"/><stop offset="0.269" stop-color="rgb(153,153,153)"/><stop offset="0.416" stop-color="rgb(163,163,163)"/><stop offset="0.541" stop-color="rgb(184,184,184)"/><stop offset="1.000" stop-color="rgb(191,191,191)"/></linearGradient>
<linearGradient id="bg4" gradientUnits="userSpaceOnUse" x1="1427.6" y1="0" x2="1487.4" y2="0"><stop offset="0.000" stop-color="rgb(46,46,46)"/><stop offset="0.192" stop-color="rgb(46,46,46)"/><stop offset="0.529" stop-color="rgb(64,64,64)"/><stop offset="1.000" stop-color="rgb(73,73,73)"/></linearGradient>
<linearGradient id="bg5" gradientUnits="userSpaceOnUse" x1="1427.6" y1="0" x2="1487.4" y2="0"><stop offset="0.000" stop-color="rgb(51,51,51)"/><stop offset="0.192" stop-color="rgb(73,73,73)"/><stop offset="0.529" stop-color="rgb(114,114,114)"/><stop offset="1.000" stop-color="rgb(131,131,131)"/></linearGradient>
<linearGradient id="bg6" gradientUnits="userSpaceOnUse" x1="1427.6" y1="0" x2="1487.4" y2="0"><stop offset="0.000" stop-color="rgb(76,76,76)"/><stop offset="0.192" stop-color="rgb(115,115,115)"/><stop offset="0.529" stop-color="rgb(178,178,178)"/><stop offset="1.000" stop-color="rgb(204,204,204)"/></linearGradient>
<linearGradient id="bg7" gradientUnits="userSpaceOnUse" x1="1487.4" y1="0" x2="1571.5" y2="0"><stop offset="0.000" stop-color="rgb(66,66,66)"/><stop offset="0.247" stop-color="rgb(57,57,57)"/><stop offset="0.521" stop-color="rgb(48,48,48)"/><stop offset="0.856" stop-color="rgb(46,46,46)"/><stop offset="1.000" stop-color="rgb(46,46,46)"/></linearGradient>
<linearGradient id="bg8" gradientUnits="userSpaceOnUse" x1="1487.4" y1="0" x2="1571.5" y2="0"><stop offset="0.000" stop-color="rgb(118,118,118)"/><stop offset="0.247" stop-color="rgb(101,101,101)"/><stop offset="0.521" stop-color="rgb(85,85,85)"/><stop offset="0.856" stop-color="rgb(73,73,73)"/><stop offset="1.000" stop-color="rgb(65,65,65)"/></linearGradient>
<linearGradient id="bg9" gradientUnits="userSpaceOnUse" x1="1487.4" y1="0" x2="1571.5" y2="0"><stop offset="0.000" stop-color="rgb(184,184,184)"/><stop offset="0.247" stop-color="rgb(158,158,158)"/><stop offset="0.521" stop-color="rgb(133,133,133)"/><stop offset="0.856" stop-color="rgb(115,115,115)"/><stop offset="1.000" stop-color="rgb(102,102,102)"/></linearGradient>
<linearGradient id="bg10" gradientUnits="userSpaceOnUse" x1="1559.4" y1="0" x2="1632.5" y2="0"><stop offset="0.000" stop-color="rgb(46,46,46)"/><stop offset="0.323" stop-color="rgb(46,46,46)"/><stop offset="0.461" stop-color="rgb(46,46,46)"/><stop offset="0.559" stop-color="rgb(53,53,53)"/><stop offset="0.677" stop-color="rgb(69,69,69)"/><stop offset="1.000" stop-color="rgb(69,69,69)"/></linearGradient>
<linearGradient id="bg11" gradientUnits="userSpaceOnUse" x1="1559.4" y1="0" x2="1632.5" y2="0"><stop offset="0.000" stop-color="rgb(69,69,69)"/><stop offset="0.323" stop-color="rgb(52,52,52)"/><stop offset="0.461" stop-color="rgb(62,62,62)"/><stop offset="0.559" stop-color="rgb(95,95,95)"/><stop offset="0.677" stop-color="rgb(122,122,122)"/><stop offset="1.000" stop-color="rgb(122,122,122)"/></linearGradient>
<linearGradient id="bg12" gradientUnits="userSpaceOnUse" x1="1559.4" y1="0" x2="1632.5" y2="0"><stop offset="0.000" stop-color="rgb(107,107,107)"/><stop offset="0.323" stop-color="rgb(82,82,82)"/><stop offset="0.461" stop-color="rgb(97,97,97)"/><stop offset="0.559" stop-color="rgb(148,148,148)"/><stop offset="0.677" stop-color="rgb(191,191,191)"/><stop offset="1.000" stop-color="rgb(191,191,191)"/></linearGradient>
<linearGradient id="bg13" gradientUnits="userSpaceOnUse" x1="1487.4" y1="0" x2="1526.9" y2="0"><stop offset="0.000" stop-color="rgb(72,72,72)"/><stop offset="0.526" stop-color="rgb(64,64,64)"/><stop offset="1.000" stop-color="rgb(46,46,46)"/></linearGradient>
<linearGradient id="bg14" gradientUnits="userSpaceOnUse" x1="1487.4" y1="0" x2="1526.9" y2="0"><stop offset="0.000" stop-color="rgb(127,127,127)"/><stop offset="0.526" stop-color="rgb(114,114,114)"/><stop offset="1.000" stop-color="rgb(82,82,82)"/></linearGradient>
<linearGradient id="bg15" gradientUnits="userSpaceOnUse" x1="1487.4" y1="0" x2="1526.9" y2="0"><stop offset="0.000" stop-color="rgb(199,199,199)"/><stop offset="0.526" stop-color="rgb(178,178,178)"/><stop offset="1.000" stop-color="rgb(128,128,128)"/></linearGradient>
<linearGradient id="bg16" gradientUnits="userSpaceOnUse" x1="1442.0" y1="0" x2="1597.4" y2="0"><stop offset="0.000" stop-color="rgb(51,51,51)"/><stop offset="0.293" stop-color="rgb(56,56,56)"/><stop offset="0.574" stop-color="rgb(59,59,59)"/><stop offset="0.815" stop-color="rgb(69,69,69)"/><stop offset="1.000" stop-color="rgb(56,56,56)"/></linearGradient>
<linearGradient id="bg17" gradientUnits="userSpaceOnUse" x1="1519.7" y1="0" x2="1597.4" y2="0"><stop offset="0.000" stop-color="rgb(61,61,61)"/><stop offset="0.296" stop-color="rgb(71,71,71)"/><stop offset="0.630" stop-color="rgb(87,87,87)"/><stop offset="1.000" stop-color="rgb(76,76,76)"/></linearGradient>
<linearGradient id="bg18" gradientUnits="userSpaceOnUse" x1="1632.2" y1="0" x2="1811.6" y2="0"><stop offset="0.000" stop-color="rgb(69,69,69)"/><stop offset="0.189" stop-color="rgb(69,69,69)"/><stop offset="0.254" stop-color="rgb(57,57,57)"/><stop offset="0.350" stop-color="rgb(51,51,51)"/><stop offset="0.438" stop-color="rgb(62,62,62)"/><stop offset="0.498" stop-color="rgb(81,81,81)"/><stop offset="0.559" stop-color="rgb(62,62,62)"/><stop offset="0.655" stop-color="rgb(50,50,50)"/><stop offset="0.751" stop-color="rgb(46,46,46)"/><stop offset="0.848" stop-color="rgb(53,53,53)"/><stop offset="0.944" stop-color="rgb(66,66,66)"/><stop offset="1.000" stop-color="rgb(73,73,73)"/></linearGradient>
<linearGradient id="bg19" gradientUnits="userSpaceOnUse" x1="1632.2" y1="0" x2="1811.6" y2="0"><stop offset="0.000" stop-color="rgb(122,122,122)"/><stop offset="0.189" stop-color="rgb(122,122,122)"/><stop offset="0.254" stop-color="rgb(101,101,101)"/><stop offset="0.350" stop-color="rgb(91,91,91)"/><stop offset="0.438" stop-color="rgb(111,111,111)"/><stop offset="0.498" stop-color="rgb(144,144,144)"/><stop offset="0.559" stop-color="rgb(111,111,111)"/><stop offset="0.655" stop-color="rgb(90,90,90)"/><stop offset="0.751" stop-color="rgb(82,82,82)"/><stop offset="0.848" stop-color="rgb(95,95,95)"/><stop offset="0.944" stop-color="rgb(118,118,118)"/><stop offset="1.000" stop-color="rgb(131,131,131)"/></linearGradient>
<linearGradient id="bg20" gradientUnits="userSpaceOnUse" x1="1632.2" y1="0" x2="1811.6" y2="0"><stop offset="0.000" stop-color="rgb(191,191,191)"/><stop offset="0.189" stop-color="rgb(191,191,191)"/><stop offset="0.254" stop-color="rgb(158,158,158)"/><stop offset="0.350" stop-color="rgb(143,143,143)"/><stop offset="0.438" stop-color="rgb(173,173,173)"/><stop offset="0.498" stop-color="rgb(224,224,224)"/><stop offset="0.559" stop-color="rgb(173,173,173)"/><stop offset="0.655" stop-color="rgb(140,140,140)"/><stop offset="0.751" stop-color="rgb(128,128,128)"/><stop offset="0.848" stop-color="rgb(148,148,148)"/><stop offset="0.944" stop-color="rgb(184,184,184)"/><stop offset="1.000" stop-color="rgb(204,204,204)"/></linearGradient>
<linearGradient id="bg21" gradientUnits="userSpaceOnUse" x1="1769.8" y1="0" x2="1811.6" y2="0"><stop offset="0.000" stop-color="rgb(50,50,50)"/><stop offset="1.000" stop-color="rgb(66,66,66)"/></linearGradient>
<linearGradient id="bg22" gradientUnits="userSpaceOnUse" x1="1769.8" y1="0" x2="1811.6" y2="0"><stop offset="0.000" stop-color="rgb(90,90,90)"/><stop offset="1.000" stop-color="rgb(118,118,118)"/></linearGradient>
<linearGradient id="bg23" gradientUnits="userSpaceOnUse" x1="1769.8" y1="0" x2="1811.6" y2="0"><stop offset="0.000" stop-color="rgb(140,140,140)"/><stop offset="1.000" stop-color="rgb(184,184,184)"/></linearGradient>
<linearGradient id="bg24" gradientUnits="userSpaceOnUse" x1="1721.5" y1="0" x2="1745.4" y2="0"><stop offset="0.000" stop-color="rgb(153,153,153)"/><stop offset="0.578" stop-color="rgb(107,107,107)"/><stop offset="1.000" stop-color="rgb(76,76,76)"/></linearGradient>
<linearGradient id="bg25" gradientUnits="userSpaceOnUse" x1="1721.5" y1="0" x2="1745.4" y2="0"><stop offset="0.000" stop-color="rgb(76,76,76)"/><stop offset="1.000" stop-color="rgb(66,66,66)"/></linearGradient>
<linearGradient id="bg26" gradientUnits="userSpaceOnUse" x1="1683.5" y1="0" x2="1721.5" y2="0"><stop offset="0.000" stop-color="rgb(69,69,69)"/><stop offset="0.455" stop-color="rgb(64,64,64)"/><stop offset="1.000" stop-color="rgb(76,76,76)"/></linearGradient>
<linearGradient id="bg27" gradientUnits="userSpaceOnUse" x1="1706.5" y1="0" x2="1721.5" y2="0"><stop offset="0.000" stop-color="rgb(64,64,64)" stop-opacity="0"/><stop offset="1.000" stop-color="rgb(153,153,153)"/></linearGradient>
<linearGradient id="bg28" gradientUnits="userSpaceOnUse" x1="1745.4" y1="0" x2="1811.6" y2="0"><stop offset="0.000" stop-color="rgb(66,66,66)"/><stop offset="1.000" stop-color="rgb(59,59,59)"/></linearGradient>
<linearGradient id="bg29" gradientUnits="userSpaceOnUse" x1="1745.4" y1="0" x2="1811.6" y2="0"><stop offset="0.000" stop-color="rgb(76,76,76)"/><stop offset="0.413" stop-color="rgb(66,66,66)"/><stop offset="1.000" stop-color="rgb(61,61,61)"/></linearGradient>
<linearGradient id="bg30" gradientUnits="userSpaceOnUse" x1="0" y1="314.2" x2="0" y2="393.3"><stop offset="0.000" stop-color="rgb(64,64,64)"/><stop offset="0.709" stop-color="rgb(51,51,51)"/><stop offset="1.000" stop-color="rgb(38,38,38)"/></linearGradient>
<linearGradient id="bg31" gradientUnits="userSpaceOnUse" x1="0" y1="194.7" x2="0" y2="236.4"><stop offset="0.000" stop-color="rgb(46,46,46)"/><stop offset="1.000" stop-color="rgb(64,64,64)"/></linearGradient>
<linearGradient id="bg32" gradientUnits="userSpaceOnUse" x1="0" y1="237.9" x2="0" y2="475.3"><stop offset="0.000" stop-color="rgb(61,61,61)"/><stop offset="1.000" stop-color="rgb(61,61,61)"/></linearGradient>
<linearGradient id="bg33" gradientUnits="userSpaceOnUse" x1="0" y1="201.9" x2="0" y2="475.3"><stop offset="0.000" stop-color="rgb(61,61,61)"/><stop offset="1.000" stop-color="rgb(61,61,61)"/></linearGradient>
<linearGradient id="bg34" gradientUnits="userSpaceOnUse" x1="0" y1="266.7" x2="0" y2="475.3"><stop offset="0.000" stop-color="rgb(51,51,51)"/><stop offset="1.000" stop-color="rgb(61,61,61)"/></linearGradient>
<linearGradient id="bg35" gradientUnits="userSpaceOnUse" x1="0" y1="369.7" x2="0" y2="476.2"><stop offset="0.000" stop-color="rgb(204,204,204)" stop-opacity="0"/><stop offset="0.074" stop-color="rgb(230,230,230)" stop-opacity="0.5"/><stop offset="0.209" stop-color="rgb(255,255,255)"/><stop offset="1.000" stop-color="rgb(255,255,255)"/></linearGradient>
<linearGradient id="bg36" gradientUnits="userSpaceOnUse" x1="0" y1="472.6" x2="0" y2="481.0"><stop offset="0.000" stop-color="rgb(255,255,255)"/><stop offset="1.000" stop-color="rgb(153,153,153)"/></linearGradient>
<linearGradient id="bg37" gradientUnits="userSpaceOnUse" x1="0" y1="472.6" x2="0" y2="480.1"><stop offset="0.000" stop-color="rgb(255,255,255)"/><stop offset="1.000" stop-color="rgb(153,153,153)"/></linearGradient>
<linearGradient id="bg38" gradientUnits="userSpaceOnUse" x1="0" y1="398.5" x2="0" y2="476.2"><stop offset="0.000" stop-color="rgb(204,204,204)" stop-opacity="0"/><stop offset="0.102" stop-color="rgb(230,230,230)" stop-opacity="0.5"/><stop offset="0.269" stop-color="rgb(255,255,255)"/><stop offset="1.000" stop-color="rgb(255,255,255)"/></linearGradient>
<linearGradient id="bg39" gradientUnits="userSpaceOnUse" x1="0" y1="410.0" x2="0" y2="476.2"><stop offset="0.000" stop-color="rgb(217,217,217)" stop-opacity="0"/><stop offset="0.098" stop-color="rgb(242,242,242)" stop-opacity="0.6"/><stop offset="0.250" stop-color="rgb(255,255,255)"/><stop offset="1.000" stop-color="rgb(255,255,255)"/></linearGradient>
<linearGradient id="bg40" gradientUnits="userSpaceOnUse" x1="0" y1="252.0" x2="0" y2="474.1"><stop offset="0.000" stop-color="rgb(76,76,76)"/><stop offset="0.162" stop-color="rgb(115,115,115)"/><stop offset="0.259" stop-color="rgb(148,148,148)"/><stop offset="0.486" stop-color="rgb(204,204,204)"/><stop offset="0.760" stop-color="rgb(255,255,255)"/><stop offset="1.000" stop-color="rgb(255,255,255)"/></linearGradient>
<linearGradient id="bg41" gradientUnits="userSpaceOnUse" x1="0" y1="317.1" x2="0" y2="474.1"><stop offset="0.000" stop-color="rgb(56,56,56)"/><stop offset="0.202" stop-color="rgb(102,102,102)"/><stop offset="0.477" stop-color="rgb(178,178,178)"/><stop offset="0.752" stop-color="rgb(230,230,230)"/><stop offset="1.000" stop-color="rgb(255,255,255)"/></linearGradient>
<linearGradient id="bg42" gradientUnits="userSpaceOnUse" x1="0" y1="254.9" x2="0" y2="474.1"><stop offset="0.000" stop-color="rgb(56,56,56)"/><stop offset="0.184" stop-color="rgb(92,92,92)"/><stop offset="0.283" stop-color="rgb(128,128,128)"/><stop offset="0.381" stop-color="rgb(158,158,158)"/><stop offset="0.480" stop-color="rgb(191,191,191)"/><stop offset="0.625" stop-color="rgb(242,242,242)"/><stop offset="1.000" stop-color="rgb(255,255,255)"/></linearGradient>
<linearGradient id="bg43" gradientUnits="userSpaceOnUse" x1="0" y1="252.3" x2="0" y2="474.1"><stop offset="0.000" stop-color="rgb(56,56,56)"/><stop offset="0.194" stop-color="rgb(92,92,92)"/><stop offset="0.291" stop-color="rgb(128,128,128)"/><stop offset="0.388" stop-color="rgb(158,158,158)"/><stop offset="0.486" stop-color="rgb(191,191,191)"/><stop offset="0.630" stop-color="rgb(242,242,242)"/><stop offset="1.000" stop-color="rgb(255,255,255)"/></linearGradient>
<linearGradient id="cbb" x1="0" y1="1" x2="0" y2="0"><stop offset="0.000" stop-color="#b4ff43"/><stop offset="0.025" stop-color="#b4ff43"/><stop offset="0.050" stop-color="#b5ff42"/><stop offset="0.075" stop-color="#beff39"/><stop offset="0.100" stop-color="#c7ff2f"/><stop offset="0.125" stop-color="#d1ff26"/><stop offset="0.150" stop-color="#daff1d"/><stop offset="0.175" stop-color="#e3ff14"/><stop offset="0.200" stop-color="#edff0a"/><stop offset="0.225" stop-color="#f6f701"/><stop offset="0.250" stop-color="#ffec00"/><stop offset="0.275" stop-color="#ffe100"/><stop offset="0.300" stop-color="#ffd600"/><stop offset="0.325" stop-color="#ffcc00"/><stop offset="0.350" stop-color="#ffc100"/><stop offset="0.375" stop-color="#ffb600"/><stop offset="0.400" stop-color="#ffac00"/><stop offset="0.425" stop-color="#ffa100"/><stop offset="0.450" stop-color="#ff9600"/><stop offset="0.475" stop-color="#ff8c00"/><stop offset="0.500" stop-color="#ff8100"/><stop offset="0.525" stop-color="#ff7600"/><stop offset="0.550" stop-color="#ff6c00"/><stop offset="0.575" stop-color="#ff6100"/><stop offset="0.600" stop-color="#ff5600"/><stop offset="0.625" stop-color="#ff4b00"/><stop offset="0.650" stop-color="#ff4100"/><stop offset="0.675" stop-color="#ff3600"/><stop offset="0.700" stop-color="#ff2b00"/><stop offset="0.725" stop-color="#ff2100"/><stop offset="0.750" stop-color="#ff1600"/><stop offset="0.775" stop-color="#f60b00"/><stop offset="0.800" stop-color="#e90100"/><stop offset="0.825" stop-color="#db0000"/><stop offset="0.850" stop-color="#ce0000"/><stop offset="0.875" stop-color="#c10000"/><stop offset="0.900" stop-color="#b40000"/><stop offset="0.925" stop-color="#a70000"/><stop offset="0.950" stop-color="#9a0000"/><stop offset="0.975" stop-color="#8d0000"/><stop offset="1.000" stop-color="#800000"/></linearGradient>
<filter id="jetmap0" filterUnits="userSpaceOnUse" x="116.4" y="741.8" width="436.1" height="417.1" color-interpolation-filters="sRGB">
<feTurbulence type="fractalNoise" baseFrequency="0.62" numOctaves="2" seed="3" result="n0"/>
<feColorMatrix in="n0" type="matrix" values="2.4 0 0 0 -0.700  2.4 0 0 0 -0.700  2.4 0 0 0 -0.700  0 0 0 0 1" result="n"/>
<feComposite in="SourceGraphic" in2="n" operator="arithmetic" k1="0.62" k2="0.69" k3="0.05" k4="-0.025" result="e"/>
<feComponentTransfer in="e"><feFuncR type="table" tableValues="0.500 0.500 0.500 0.500 0.500 0.500 0.500 0.500 0.500 0.500 0.500 0.500 0.500 0.507 0.536 0.566 0.595 0.624 0.653 0.682 0.711 0.741 0.770 0.799 0.828 0.857 0.886 0.916 0.945 0.974 1.000 1.000 1.000 1.000 1.000 1.000 1.000 1.000 1.000 1.000 1.000 1.000 1.000 1.000 1.000 1.000 1.000 1.000 1.000 1.000 1.000 1.000 1.000 1.000 1.000 1.000 1.000 1.000 1.000 1.000 1.000 1.000 1.000 1.000 1.000 1.000 0.994 0.974 0.953 0.932 0.912 0.891 0.870 0.850 0.829 0.808 0.787 0.767 0.746 0.725 0.705 0.684 0.663 0.643 0.622 0.601 0.580 0.560 0.539 0.518 0.498 0.477 0.456 0.436 0.415 0.394 0.373 0.353 0.332 0.311 0.291 0.270 0.249 0.229 0.208 0.187 0.166 0.146 0.125 0.104 0.084 0.063 0.042 0.022 0.001 0.000 0.000 0.000 0.000 0.000 0.000 0.000 0.000 0.000 0.000 0.000 0.000 0.000 0.000 0.000 0.000 0.000 0.000 0.000 0.000 0.000 0.000 0.000 0.000 0.000 0.000 0.000 0.000 0.000 0.000 0.000 0.000 0.000 0.000 0.000 0.000 0.000 0.000 1.000 1.000 1.000 1.000 1.000 1.000 1.000 1.000 1.000 1.000 1.000 1.000 1.000 1.000 1.000 1.000 1.000 1.000 1.000 1.000 1.000 1.000 1.000 1.000 1.000 1.000 1.000 1.000 1.000 1.000 1.000 1.000 1.000 1.000 1.000 1.000 1.000 1.000 1.000 1.000 1.000 1.000 1.000 1.000 1.000 1.000 1.000 1.000 1.000 1.000 1.000 1.000 1.000 1.000 1.000 1.000 1.000 1.000 1.000 1.000 1.000 1.000 1.000 1.000 1.000 1.000 1.000 1.000 1.000 1.000 1.000 1.000 1.000 1.000 1.000 1.000 1.000 1.000 1.000 1.000 1.000 1.000 1.000 1.000 1.000 1.000 1.000 1.000 1.000 1.000 1.000 1.000 1.000 1.000 1.000 1.000 1.000 1.000 1.000 1.000 1.000 1.000 1.000"/><feFuncG type="table" tableValues="0.000 0.000 0.000 0.000 0.000 0.000 0.000 0.000 0.000 0.000 0.000 0.000 0.000 0.000 0.000 0.000 0.000 0.000 0.000 0.000 0.000 0.000 0.000 0.000 0.000 0.000 0.000 0.005 0.029 0.053 0.077 0.100 0.124 0.148 0.172 0.195 0.219 0.243 0.267 0.291 0.314 0.338 0.362 0.386 0.409 0.433 0.457 0.481 0.504 0.528 0.552 0.576 0.600 0.623 0.647 0.671 0.695 0.718 0.742 0.766 0.790 0.813 0.837 0.861 0.885 0.908 0.932 0.956 0.980 1.000 1.000 1.000 1.000 1.000 1.000 1.000 1.000 1.000 1.000 1.000 1.000 1.000 1.000 1.000 1.000 1.000 1.000 1.000 1.000 1.000 1.000 1.000 1.000 1.000 1.000 1.000 1.000 1.000 1.000 1.000 1.000 1.000 1.000 1.000 1.000 1.000 1.000 1.000 1.000 1.000 1.000 0.978 0.952 0.927 0.901 0.875 0.850 0.824 0.798 0.773 0.747 0.721 0.696 0.670 0.644 0.619 0.593 0.567 0.542 0.516 0.490 0.465 0.439 0.413 0.388 0.362 0.336 0.311 0.285 0.259 0.234 0.208 0.182 0.157 0.131 0.105 0.080 0.054 0.028 0.003 0.000 0.000 0.000 1.000 1.000 1.000 1.000 1.000 1.000 1.000 1.000 1.000 1.000 1.000 1.000 1.000 1.000 1.000 1.000 1.000 1.000 1.000 1.000 1.000 1.000 1.000 1.000 1.000 1.000 1.000 1.000 1.000 1.000 1.000 1.000 1.000 1.000 1.000 1.000 1.000 1.000 1.000 1.000 1.000 1.000 1.000 1.000 1.000 1.000 1.000 1.000 1.000 1.000 1.000 1.000 1.000 1.000 1.000 1.000 1.000 1.000 1.000 1.000 1.000 1.000 1.000 1.000 1.000 1.000 1.000 1.000 1.000 1.000 1.000 1.000 1.000 1.000 1.000 1.000 1.000 1.000 1.000 1.000 1.000 1.000 1.000 1.000 1.000 1.000 1.000 1.000 1.000 1.000 1.000 1.000 1.000 1.000 1.000 1.000 1.000 1.000 1.000 1.000 1.000 1.000 1.000"/><feFuncB type="table" tableValues="0.000 0.000 0.000 0.000 0.000 0.000 0.000 0.000 0.000 0.000 0.000 0.000 0.000 0.000 0.000 0.000 0.000 0.000 0.000 0.000 0.000 0.000 0.000 0.000 0.000 0.000 0.000 0.000 0.000 0.000 0.000 0.000 0.000 0.000 0.000 0.000 0.000 0.000 0.000 0.000 0.000 0.000 0.000 0.000 0.000 0.000 0.000 0.000 0.000 0.000 0.000 0.000 0.000 0.000 0.000 0.000 0.000 0.000 0.000 0.000 0.000 0.000 0.000 0.000 0.000 0.000 0.000 0.000 0.015 0.035 0.056 0.077 0.097 0.118 0.139 0.160 0.180 0.201 0.222 0.242 0.263 0.284 0.304 0.325 0.346 0.367 0.387 0.408 0.429 0.449 0.470 0.491 0.511 0.532 0.553 0.574 0.594 0.615 0.636 0.656 0.677 0.698 0.718 0.739 0.760 0.781 0.801 0.822 0.843 0.863 0.884 0.905 0.925 0.946 0.967 0.988 1.000 1.000 1.000 1.000 1.000 1.000 1.000 1.000 1.000 1.000 1.000 1.000 1.000 1.000 1.000 1.000 1.000 1.000 1.000 1.000 1.000 1.000 1.000 1.000 1.000 1.000 1.000 1.000 1.000 1.000 1.000 1.000 1.000 1.000 1.000 1.000 0.984 1.000 1.000 1.000 1.000 1.000 1.000 1.000 1.000 1.000 1.000 1.000 1.000 1.000 1.000 1.000 1.000 1.000 1.000 1.000 1.000 1.000 1.000 1.000 1.000 1.000 1.000 1.000 1.000 1.000 1.000 1.000 1.000 1.000 1.000 1.000 1.000 1.000 1.000 1.000 1.000 1.000 1.000 1.000 1.000 1.000 1.000 1.000 1.000 1.000 1.000 1.000 1.000 1.000 1.000 1.000 1.000 1.000 1.000 1.000 1.000 1.000 1.000 1.000 1.000 1.000 1.000 1.000 1.000 1.000 1.000 1.000 1.000 1.000 1.000 1.000 1.000 1.000 1.000 1.000 1.000 1.000 1.000 1.000 1.000 1.000 1.000 1.000 1.000 1.000 1.000 1.000 1.000 1.000 1.000 1.000 1.000 1.000 1.000 1.000 1.000 1.000 1.000 1.000"/></feComponentTransfer></filter>
<clipPath id="cclip0"><rect x="116.4" y="741.8" width="436.1" height="417.1"/></clipPath>
<radialGradient id="bg0_0"><stop offset="0.000" stop-color="rgb(24,24,24)"/><stop offset="0.125" stop-color="rgb(27,27,27)"/><stop offset="0.250" stop-color="rgb(36,36,36)"/><stop offset="0.375" stop-color="rgb(51,51,51)"/><stop offset="0.500" stop-color="rgb(72,72,72)"/><stop offset="0.600" stop-color="rgb(93,93,93)"/><stop offset="0.683" stop-color="rgb(113,113,113)"/><stop offset="0.750" stop-color="rgb(131,131,131)"/><stop offset="0.800" stop-color="rgb(146,146,146)"/><stop offset="0.833" stop-color="rgb(156,156,156)"/><stop offset="0.900" stop-color="rgb(189,189,189)"/><stop offset="1" stop-color="#fff"/></radialGradient>
<radialGradient id="bg0_1"><stop offset="0.000" stop-color="rgb(60,60,60)"/><stop offset="0.125" stop-color="rgb(63,63,63)"/><stop offset="0.250" stop-color="rgb(69,69,69)"/><stop offset="0.375" stop-color="rgb(80,80,80)"/><stop offset="0.500" stop-color="rgb(95,95,95)"/><stop offset="0.600" stop-color="rgb(110,110,110)"/><stop offset="0.683" stop-color="rgb(125,125,125)"/><stop offset="0.750" stop-color="rgb(138,138,138)"/><stop offset="0.800" stop-color="rgb(148,148,148)"/><stop offset="0.833" stop-color="rgb(156,156,156)"/><stop offset="0.900" stop-color="rgb(189,189,189)"/><stop offset="1" stop-color="#fff"/></radialGradient>
<radialGradient id="bg0_2"><stop offset="0.000" stop-color="rgb(70,70,70)"/><stop offset="0.125" stop-color="rgb(73,73,73)"/><stop offset="0.250" stop-color="rgb(79,79,79)"/><stop offset="0.375" stop-color="rgb(88,88,88)"/><stop offset="0.500" stop-color="rgb(102,102,102)"/><stop offset="0.600" stop-color="rgb(115,115,115)"/><stop offset="0.683" stop-color="rgb(128,128,128)"/><stop offset="0.750" stop-color="rgb(140,140,140)"/><stop offset="0.800" stop-color="rgb(149,149,149)"/><stop offset="0.833" stop-color="rgb(156,156,156)"/><stop offset="0.900" stop-color="rgb(189,189,189)"/><stop offset="1" stop-color="#fff"/></radialGradient>
<linearGradient id="cbc" x1="0" y1="1" x2="0" y2="0"><stop offset="0.000" stop-color="#0000f3"/><stop offset="0.033" stop-color="#0005ff"/><stop offset="0.067" stop-color="#0024ff"/><stop offset="0.100" stop-color="#0042ff"/><stop offset="0.133" stop-color="#0061ff"/><stop offset="0.167" stop-color="#0080ff"/><stop offset="0.200" stop-color="#009eff"/><stop offset="0.233" stop-color="#00bdff"/><stop offset="0.267" stop-color="#00dbff"/><stop offset="0.300" stop-color="#10fae6"/><stop offset="0.333" stop-color="#29ffce"/><stop offset="0.367" stop-color="#42ffb5"/><stop offset="0.400" stop-color="#5aff9c"/><stop offset="0.433" stop-color="#73ff84"/><stop offset="0.467" stop-color="#8cff6b"/><stop offset="0.500" stop-color="#a5ff52"/><stop offset="0.533" stop-color="#bdff3a"/><stop offset="0.567" stop-color="#d6ff21"/><stop offset="0.600" stop-color="#efff08"/><stop offset="0.633" stop-color="#ffe300"/><stop offset="0.667" stop-color="#ffc600"/><stop offset="0.700" stop-color="#ffaa00"/><stop offset="0.733" stop-color="#ff8e00"/><stop offset="0.767" stop-color="#ff7100"/><stop offset="0.800" stop-color="#ff5500"/><stop offset="0.833" stop-color="#ff3900"/><stop offset="0.867" stop-color="#ff1c00"/><stop offset="0.900" stop-color="#e80000"/><stop offset="0.933" stop-color="#c50000"/><stop offset="0.967" stop-color="#a20000"/><stop offset="1.000" stop-color="#800000"/></linearGradient>
<filter id="jetmap1" filterUnits="userSpaceOnUse" x="757.6" y="741.8" width="436.9" height="417.1" color-interpolation-filters="sRGB">
<feTurbulence type="fractalNoise" baseFrequency="0.62" numOctaves="2" seed="10" result="n0"/>
<feColorMatrix in="n0" type="matrix" values="2.4 0 0 0 -0.700  2.4 0 0 0 -0.700  2.4 0 0 0 -0.700  0 0 0 0 1" result="n"/>
<feComposite in="SourceGraphic" in2="n" operator="arithmetic" k1="0.62" k2="0.69" k3="0.05" k4="-0.025" result="e"/>
<feComponentTransfer in="e"><feFuncR type="table" tableValues="0.500 0.500 0.500 0.500 0.500 0.500 0.500 0.500 0.500 0.500 0.500 0.500 0.500 0.507 0.536 0.566 0.595 0.624 0.653 0.682 0.711 0.741 0.770 0.799 0.828 0.857 0.886 0.916 0.945 0.974 1.000 1.000 1.000 1.000 1.000 1.000 1.000 1.000 1.000 1.000 1.000 1.000 1.000 1.000 1.000 1.000 1.000 1.000 1.000 1.000 1.000 1.000 1.000 1.000 1.000 1.000 1.000 1.000 1.000 1.000 1.000 1.000 1.000 1.000 1.000 1.000 0.994 0.974 0.953 0.932 0.912 0.891 0.870 0.850 0.829 0.808 0.787 0.767 0.746 0.725 0.705 0.684 0.663 0.643 0.622 0.601 0.580 0.560 0.539 0.518 0.498 0.477 0.456 0.436 0.415 0.394 0.373 0.353 0.332 0.311 0.291 0.270 0.249 0.229 0.208 0.187 0.166 0.146 0.125 0.104 0.084 0.063 0.042 0.022 0.001 0.000 0.000 0.000 0.000 0.000 0.000 0.000 0.000 0.000 0.000 0.000 0.000 0.000 0.000 0.000 0.000 0.000 0.000 0.000 0.000 0.000 0.000 0.000 0.000 0.000 0.000 0.000 0.000 0.000 0.000 0.000 0.000 0.000 0.000 0.000 0.000 0.000 0.000 1.000 1.000 1.000 1.000 1.000 1.000 1.000 1.000 1.000 1.000 1.000 1.000 1.000 1.000 1.000 1.000 1.000 1.000 1.000 1.000 1.000 1.000 1.000 1.000 1.000 1.000 1.000 1.000 1.000 1.000 1.000 1.000 1.000 1.000 1.000 1.000 1.000 1.000 1.000 1.000 1.000 1.000 1.000 1.000 1.000 1.000 1.000 1.000 1.000 1.000 1.000 1.000 1.000 1.000 1.000 1.000 1.000 1.000 1.000 1.000 1.000 1.000 1.000 1.000 1.000 1.000 1.000 1.000 1.000 1.000 1.000 1.000 1.000 1.000 1.000 1.000 1.000 1.000 1.000 1.000 1.000 1.000 1.000 1.000 1.000 1.000 1.000 1.000 1.000 1.000 1.000 1.000 1.000 1.000 1.000 1.000 1.000 1.000 1.000 1.000 1.000 1.000 1.000"/><feFuncG type="table" tableValues="0.000 0.000 0.000 0.000 0.000 0.000 0.000 0.000 0.000 0.000 0.000 0.000 0.000 0.000 0.000 0.000 0.000 0.000 0.000 0.000 0.000 0.000 0.000 0.000 0.000 0.000 0.000 0.005 0.029 0.053 0.077 0.100 0.124 0.148 0.172 0.195 0.219 0.243 0.267 0.291 0.314 0.338 0.362 0.386 0.409 0.433 0.457 0.481 0.504 0.528 0.552 0.576 0.600 0.623 0.647 0.671 0.695 0.718 0.742 0.766 0.790 0.813 0.837 0.861 0.885 0.908 0.932 0.956 0.980 1.000 1.000 1.000 1.000 1.000 1.000 1.000 1.000 1.000 1.000 1.000 1.000 1.000 1.000 1.000 1.000 1.000 1.000 1.000 1.000 1.000 1.000 1.000 1.000 1.000 1.000 1.000 1.000 1.000 1.000 1.000 1.000 1.000 1.000 1.000 1.000 1.000 1.000 1.000 1.000 1.000 1.000 0.978 0.952 0.927 0.901 0.875 0.850 0.824 0.798 0.773 0.747 0.721 0.696 0.670 0.644 0.619 0.593 0.567 0.542 0.516 0.490 0.465 0.439 0.413 0.388 0.362 0.336 0.311 0.285 0.259 0.234 0.208 0.182 0.157 0.131 0.105 0.080 0.054 0.028 0.003 0.000 0.000 0.000 1.000 1.000 1.000 1.000 1.000 1.000 1.000 1.000 1.000 1.000 1.000 1.000 1.000 1.000 1.000 1.000 1.000 1.000 1.000 1.000 1.000 1.000 1.000 1.000 1.000 1.000 1.000 1.000 1.000 1.000 1.000 1.000 1.000 1.000 1.000 1.000 1.000 1.000 1.000 1.000 1.000 1.000 1.000 1.000 1.000 1.000 1.000 1.000 1.000 1.000 1.000 1.000 1.000 1.000 1.000 1.000 1.000 1.000 1.000 1.000 1.000 1.000 1.000 1.000 1.000 1.000 1.000 1.000 1.000 1.000 1.000 1.000 1.000 1.000 1.000 1.000 1.000 1.000 1.000 1.000 1.000 1.000 1.000 1.000 1.000 1.000 1.000 1.000 1.000 1.000 1.000 1.000 1.000 1.000 1.000 1.000 1.000 1.000 1.000 1.000 1.000 1.000 1.000"/><feFuncB type="table" tableValues="0.000 0.000 0.000 0.000 0.000 0.000 0.000 0.000 0.000 0.000 0.000 0.000 0.000 0.000 0.000 0.000 0.000 0.000 0.000 0.000 0.000 0.000 0.000 0.000 0.000 0.000 0.000 0.000 0.000 0.000 0.000 0.000 0.000 0.000 0.000 0.000 0.000 0.000 0.000 0.000 0.000 0.000 0.000 0.000 0.000 0.000 0.000 0.000 0.000 0.000 0.000 0.000 0.000 0.000 0.000 0.000 0.000 0.000 0.000 0.000 0.000 0.000 0.000 0.000 0.000 0.000 0.000 0.000 0.015 0.035 0.056 0.077 0.097 0.118 0.139 0.160 0.180 0.201 0.222 0.242 0.263 0.284 0.304 0.325 0.346 0.367 0.387 0.408 0.429 0.449 0.470 0.491 0.511 0.532 0.553 0.574 0.594 0.615 0.636 0.656 0.677 0.698 0.718 0.739 0.760 0.781 0.801 0.822 0.843 0.863 0.884 0.905 0.925 0.946 0.967 0.988 1.000 1.000 1.000 1.000 1.000 1.000 1.000 1.000 1.000 1.000 1.000 1.000 1.000 1.000 1.000 1.000 1.000 1.000 1.000 1.000 1.000 1.000 1.000 1.000 1.000 1.000 1.000 1.000 1.000 1.000 1.000 1.000 1.000 1.000 1.000 1.000 0.984 1.000 1.000 1.000 1.000 1.000 1.000 1.000 1.000 1.000 1.000 1.000 1.000 1.000 1.000 1.000 1.000 1.000 1.000 1.000 1.000 1.000 1.000 1.000 1.000 1.000 1.000 1.000 1.000 1.000 1.000 1.000 1.000 1.000 1.000 1.000 1.000 1.000 1.000 1.000 1.000 1.000 1.000 1.000 1.000 1.000 1.000 1.000 1.000 1.000 1.000 1.000 1.000 1.000 1.000 1.000 1.000 1.000 1.000 1.000 1.000 1.000 1.000 1.000 1.000 1.000 1.000 1.000 1.000 1.000 1.000 1.000 1.000 1.000 1.000 1.000 1.000 1.000 1.000 1.000 1.000 1.000 1.000 1.000 1.000 1.000 1.000 1.000 1.000 1.000 1.000 1.000 1.000 1.000 1.000 1.000 1.000 1.000 1.000 1.000 1.000 1.000 1.000 1.000"/></feComponentTransfer></filter>
<clipPath id="cclip1"><rect x="757.6" y="741.8" width="436.9" height="417.1"/></clipPath>
<radialGradient id="bg1_0"><stop offset="0.000" stop-color="rgb(28,28,28)"/><stop offset="0.125" stop-color="rgb(31,31,31)"/><stop offset="0.250" stop-color="rgb(40,40,40)"/><stop offset="0.375" stop-color="rgb(55,55,55)"/><stop offset="0.500" stop-color="rgb(75,75,75)"/><stop offset="0.600" stop-color="rgb(95,95,95)"/><stop offset="0.683" stop-color="rgb(114,114,114)"/><stop offset="0.750" stop-color="rgb(132,132,132)"/><stop offset="0.800" stop-color="rgb(146,146,146)"/><stop offset="0.833" stop-color="rgb(156,156,156)"/><stop offset="0.900" stop-color="rgb(189,189,189)"/><stop offset="1" stop-color="#fff"/></radialGradient>
<radialGradient id="bg1_1"><stop offset="0.000" stop-color="rgb(91,91,91)"/><stop offset="0.125" stop-color="rgb(92,92,92)"/><stop offset="0.250" stop-color="rgb(97,97,97)"/><stop offset="0.375" stop-color="rgb(104,104,104)"/><stop offset="0.500" stop-color="rgb(115,115,115)"/><stop offset="0.600" stop-color="rgb(125,125,125)"/><stop offset="0.683" stop-color="rgb(135,135,135)"/><stop offset="0.750" stop-color="rgb(144,144,144)"/><stop offset="0.800" stop-color="rgb(151,151,151)"/><stop offset="0.833" stop-color="rgb(156,156,156)"/><stop offset="0.900" stop-color="rgb(189,189,189)"/><stop offset="1" stop-color="#fff"/></radialGradient>
<radialGradient id="bg1_2"><stop offset="0.000" stop-color="rgb(109,109,109)"/><stop offset="0.125" stop-color="rgb(111,111,111)"/><stop offset="0.250" stop-color="rgb(114,114,114)"/><stop offset="0.375" stop-color="rgb(119,119,119)"/><stop offset="0.500" stop-color="rgb(127,127,127)"/><stop offset="0.600" stop-color="rgb(134,134,134)"/><stop offset="0.683" stop-color="rgb(141,141,141)"/><stop offset="0.750" stop-color="rgb(147,147,147)"/><stop offset="0.800" stop-color="rgb(152,152,152)"/><stop offset="0.833" stop-color="rgb(156,156,156)"/><stop offset="0.900" stop-color="rgb(189,189,189)"/><stop offset="1" stop-color="#fff"/></radialGradient>
<filter id="jetmap2" filterUnits="userSpaceOnUse" x="1402.6" y="741.8" width="436.9" height="417.1" color-interpolation-filters="sRGB">
<feTurbulence type="fractalNoise" baseFrequency="0.62" numOctaves="2" seed="17" result="n0"/>
<feColorMatrix in="n0" type="matrix" values="2.4 0 0 0 -0.700  2.4 0 0 0 -0.700  2.4 0 0 0 -0.700  0 0 0 0 1" result="n"/>
<feComposite in="SourceGraphic" in2="n" operator="arithmetic" k1="0.62" k2="0.69" k3="0.05" k4="-0.025" result="e"/>
<feComponentTransfer in="e"><feFuncR type="table" tableValues="0.500 0.500 0.500 0.500 0.500 0.500 0.500 0.500 0.500 0.500 0.500 0.500 0.500 0.507 0.536 0.566 0.595 0.624 0.653 0.682 0.711 0.741 0.770 0.799 0.828 0.857 0.886 0.916 0.945 0.974 1.000 1.000 1.000 1.000 1.000 1.000 1.000 1.000 1.000 1.000 1.000 1.000 1.000 1.000 1.000 1.000 1.000 1.000 1.000 1.000 1.000 1.000 1.000 1.000 1.000 1.000 1.000 1.000 1.000 1.000 1.000 1.000 1.000 1.000 1.000 1.000 0.994 0.974 0.953 0.932 0.912 0.891 0.870 0.850 0.829 0.808 0.787 0.767 0.746 0.725 0.705 0.684 0.663 0.643 0.622 0.601 0.580 0.560 0.539 0.518 0.498 0.477 0.456 0.436 0.415 0.394 0.373 0.353 0.332 0.311 0.291 0.270 0.249 0.229 0.208 0.187 0.166 0.146 0.125 0.104 0.084 0.063 0.042 0.022 0.001 0.000 0.000 0.000 0.000 0.000 0.000 0.000 0.000 0.000 0.000 0.000 0.000 0.000 0.000 0.000 0.000 0.000 0.000 0.000 0.000 0.000 0.000 0.000 0.000 0.000 0.000 0.000 0.000 0.000 0.000 0.000 0.000 0.000 0.000 0.000 0.000 0.000 0.000 1.000 1.000 1.000 1.000 1.000 1.000 1.000 1.000 1.000 1.000 1.000 1.000 1.000 1.000 1.000 1.000 1.000 1.000 1.000 1.000 1.000 1.000 1.000 1.000 1.000 1.000 1.000 1.000 1.000 1.000 1.000 1.000 1.000 1.000 1.000 1.000 1.000 1.000 1.000 1.000 1.000 1.000 1.000 1.000 1.000 1.000 1.000 1.000 1.000 1.000 1.000 1.000 1.000 1.000 1.000 1.000 1.000 1.000 1.000 1.000 1.000 1.000 1.000 1.000 1.000 1.000 1.000 1.000 1.000 1.000 1.000 1.000 1.000 1.000 1.000 1.000 1.000 1.000 1.000 1.000 1.000 1.000 1.000 1.000 1.000 1.000 1.000 1.000 1.000 1.000 1.000 1.000 1.000 1.000 1.000 1.000 1.000 1.000 1.000 1.000 1.000 1.000 1.000"/><feFuncG type="table" tableValues="0.000 0.000 0.000 0.000 0.000 0.000 0.000 0.000 0.000 0.000 0.000 0.000 0.000 0.000 0.000 0.000 0.000 0.000 0.000 0.000 0.000 0.000 0.000 0.000 0.000 0.000 0.000 0.005 0.029 0.053 0.077 0.100 0.124 0.148 0.172 0.195 0.219 0.243 0.267 0.291 0.314 0.338 0.362 0.386 0.409 0.433 0.457 0.481 0.504 0.528 0.552 0.576 0.600 0.623 0.647 0.671 0.695 0.718 0.742 0.766 0.790 0.813 0.837 0.861 0.885 0.908 0.932 0.956 0.980 1.000 1.000 1.000 1.000 1.000 1.000 1.000 1.000 1.000 1.000 1.000 1.000 1.000 1.000 1.000 1.000 1.000 1.000 1.000 1.000 1.000 1.000 1.000 1.000 1.000 1.000 1.000 1.000 1.000 1.000 1.000 1.000 1.000 1.000 1.000 1.000 1.000 1.000 1.000 1.000 1.000 1.000 0.978 0.952 0.927 0.901 0.875 0.850 0.824 0.798 0.773 0.747 0.721 0.696 0.670 0.644 0.619 0.593 0.567 0.542 0.516 0.490 0.465 0.439 0.413 0.388 0.362 0.336 0.311 0.285 0.259 0.234 0.208 0.182 0.157 0.131 0.105 0.080 0.054 0.028 0.003 0.000 0.000 0.000 1.000 1.000 1.000 1.000 1.000 1.000 1.000 1.000 1.000 1.000 1.000 1.000 1.000 1.000 1.000 1.000 1.000 1.000 1.000 1.000 1.000 1.000 1.000 1.000 1.000 1.000 1.000 1.000 1.000 1.000 1.000 1.000 1.000 1.000 1.000 1.000 1.000 1.000 1.000 1.000 1.000 1.000 1.000 1.000 1.000 1.000 1.000 1.000 1.000 1.000 1.000 1.000 1.000 1.000 1.000 1.000 1.000 1.000 1.000 1.000 1.000 1.000 1.000 1.000 1.000 1.000 1.000 1.000 1.000 1.000 1.000 1.000 1.000 1.000 1.000 1.000 1.000 1.000 1.000 1.000 1.000 1.000 1.000 1.000 1.000 1.000 1.000 1.000 1.000 1.000 1.000 1.000 1.000 1.000 1.000 1.000 1.000 1.000 1.000 1.000 1.000 1.000 1.000"/><feFuncB type="table" tableValues="0.000 0.000 0.000 0.000 0.000 0.000 0.000 0.000 0.000 0.000 0.000 0.000 0.000 0.000 0.000 0.000 0.000 0.000 0.000 0.000 0.000 0.000 0.000 0.000 0.000 0.000 0.000 0.000 0.000 0.000 0.000 0.000 0.000 0.000 0.000 0.000 0.000 0.000 0.000 0.000 0.000 0.000 0.000 0.000 0.000 0.000 0.000 0.000 0.000 0.000 0.000 0.000 0.000 0.000 0.000 0.000 0.000 0.000 0.000 0.000 0.000 0.000 0.000 0.000 0.000 0.000 0.000 0.000 0.015 0.035 0.056 0.077 0.097 0.118 0.139 0.160 0.180 0.201 0.222 0.242 0.263 0.284 0.304 0.325 0.346 0.367 0.387 0.408 0.429 0.449 0.470 0.491 0.511 0.532 0.553 0.574 0.594 0.615 0.636 0.656 0.677 0.698 0.718 0.739 0.760 0.781 0.801 0.822 0.843 0.863 0.884 0.905 0.925 0.946 0.967 0.988 1.000 1.000 1.000 1.000 1.000 1.000 1.000 1.000 1.000 1.000 1.000 1.000 1.000 1.000 1.000 1.000 1.000 1.000 1.000 1.000 1.000 1.000 1.000 1.000 1.000 1.000 1.000 1.000 1.000 1.000 1.000 1.000 1.000 1.000 1.000 1.000 0.984 1.000 1.000 1.000 1.000 1.000 1.000 1.000 1.000 1.000 1.000 1.000 1.000 1.000 1.000 1.000 1.000 1.000 1.000 1.000 1.000 1.000 1.000 1.000 1.000 1.000 1.000 1.000 1.000 1.000 1.000 1.000 1.000 1.000 1.000 1.000 1.000 1.000 1.000 1.000 1.000 1.000 1.000 1.000 1.000 1.000 1.000 1.000 1.000 1.000 1.000 1.000 1.000 1.000 1.000 1.000 1.000 1.000 1.000 1.000 1.000 1.000 1.000 1.000 1.000 1.000 1.000 1.000 1.000 1.000 1.000 1.000 1.000 1.000 1.000 1.000 1.000 1.000 1.000 1.000 1.000 1.000 1.000 1.000 1.000 1.000 1.000 1.000 1.000 1.000 1.000 1.000 1.000 1.000 1.000 1.000 1.000 1.000 1.000 1.000 1.000 1.000 1.000 1.000"/></feComponentTransfer></filter>
<clipPath id="cclip2"><rect x="1402.6" y="741.8" width="436.9" height="417.1"/></clipPath>
<radialGradient id="bg2_0"><stop offset="0.000" stop-color="rgb(32,32,32)"/><stop offset="0.125" stop-color="rgb(36,36,36)"/><stop offset="0.250" stop-color="rgb(44,44,44)"/><stop offset="0.375" stop-color="rgb(58,58,58)"/><stop offset="0.500" stop-color="rgb(77,77,77)"/><stop offset="0.600" stop-color="rgb(97,97,97)"/><stop offset="0.683" stop-color="rgb(116,116,116)"/><stop offset="0.750" stop-color="rgb(133,133,133)"/><stop offset="0.800" stop-color="rgb(146,146,146)"/><stop offset="0.833" stop-color="rgb(156,156,156)"/><stop offset="0.900" stop-color="rgb(189,189,189)"/><stop offset="1" stop-color="#fff"/></radialGradient>
<radialGradient id="bg2_1"><stop offset="0.000" stop-color="rgb(87,87,87)"/><stop offset="0.125" stop-color="rgb(89,89,89)"/><stop offset="0.250" stop-color="rgb(93,93,93)"/><stop offset="0.375" stop-color="rgb(101,101,101)"/><stop offset="0.500" stop-color="rgb(112,112,112)"/><stop offset="0.600" stop-color="rgb(123,123,123)"/><stop offset="0.683" stop-color="rgb(134,134,134)"/><stop offset="0.750" stop-color="rgb(143,143,143)"/><stop offset="0.800" stop-color="rgb(150,150,150)"/><stop offset="0.833" stop-color="rgb(156,156,156)"/><stop offset="0.900" stop-color="rgb(189,189,189)"/><stop offset="1" stop-color="#fff"/></radialGradient>
<radialGradient id="bg2_2"><stop offset="0.000" stop-color="rgb(111,111,111)"/><stop offset="0.125" stop-color="rgb(112,112,112)"/><stop offset="0.250" stop-color="rgb(115,115,115)"/><stop offset="0.375" stop-color="rgb(121,121,121)"/><stop offset="0.500" stop-color="rgb(128,128,128)"/><stop offset="0.600" stop-color="rgb(135,135,135)"/><stop offset="0.683" stop-color="rgb(141,141,141)"/><stop offset="0.750" stop-color="rgb(148,148,148)"/><stop offset="0.800" stop-color="rgb(152,152,152)"/><stop offset="0.833" stop-color="rgb(156,156,156)"/><stop offset="0.900" stop-color="rgb(189,189,189)"/><stop offset="1" stop-color="#fff"/></radialGradient>
</defs>
<rect width="1944" height="1250" fill="#fff"/>
<g clip-path="url(#hclip)"><g filter="url(#rainbow)"><rect x="140" y="60" width="400" height="550" fill="rgb(43,43,43)"/>
<g filter="url(#hb10)">
<ellipse cx="235" cy="125" rx="30" ry="40" fill="rgb(57,57,57)"/>
<ellipse cx="290" cy="100" rx="22" ry="30" fill="rgb(54,54,54)"/>
<ellipse cx="300" cy="215" rx="40" ry="22" fill="rgb(51,51,51)"/>
<ellipse cx="480" cy="110" rx="50" ry="40" fill="rgb(55,55,55)"/>
<ellipse cx="505" cy="230" rx="25" ry="60" fill="rgb(56,56,56)"/>
<ellipse cx="180" cy="300" rx="40" ry="30" fill="rgb(51,51,51)"/>
<ellipse cx="250" cy="330" rx="40" ry="25" fill="rgb(55,55,55)"/>
<ellipse cx="330" cy="330" rx="30" ry="20" fill="rgb(54,54,54)"/>
<ellipse cx="180" cy="425" rx="25" ry="40" fill="rgb(51,51,51)"/>
<ellipse cx="270" cy="430" rx="20" ry="35" fill="rgb(55,55,55)"/>
<ellipse cx="330" cy="560" rx="40" ry="40" fill="rgb(54,54,54)"/>
<ellipse cx="230" cy="600" rx="60" ry="25" fill="rgb(52,52,52)"/>
<ellipse cx="420" cy="540" rx="30" ry="30" fill="rgb(51,51,51)"/>
<ellipse cx="460" cy="330" rx="40" ry="20" fill="rgb(51,51,51)"/>
<ellipse cx="400" cy="100" rx="25" ry="30" fill="rgb(51,51,51)"/>
<ellipse cx="160" cy="180" rx="20" ry="40" fill="rgb(55,55,55)"/>
<ellipse cx="515" cy="400" rx="15" ry="60" fill="rgb(54,54,54)"/>
<ellipse cx="340" cy="130" rx="25" ry="25" fill="rgb(50,50,50)"/>
<ellipse cx="250" cy="270" rx="30" ry="20" fill="rgb(51,51,51)"/>
<ellipse cx="355" cy="270" rx="30" ry="20" fill="rgb(50,50,50)"/>
<ellipse cx="450" cy="190" rx="25" ry="20" fill="rgb(51,51,51)"/>
<ellipse cx="300" cy="500" rx="20" ry="25" fill="rgb(51,51,51)"/>
<ellipse cx="220" cy="520" rx="25" ry="20" fill="rgb(51,51,51)"/>
<ellipse cx="370" cy="195" rx="45" ry="28" fill="rgb(34,34,34)"/>
<ellipse cx="395" cy="225" rx="30" ry="20" fill="rgb(33,33,33)"/>
<ellipse cx="230" cy="245" rx="30" ry="18" fill="rgb(38,38,38)"/>
<ellipse cx="440" cy="465" rx="50" ry="30" fill="rgb(36,36,36)"/>
<ellipse cx="480" cy="510" rx="35" ry="40" fill="rgb(34,34,34)"/>
<ellipse cx="400" cy="360" rx="25" ry="18" fill="rgb(37,37,37)"/>
<ellipse cx="445" cy="400" rx="30" ry="20" fill="rgb(37,37,37)"/>
<ellipse cx="300" cy="380" rx="20" ry="15" fill="rgb(38,38,38)"/>
<ellipse cx="170" cy="545" rx="25" ry="30" fill="rgb(38,38,38)"/>
<ellipse cx="260" cy="545" rx="22" ry="25" fill="rgb(38,38,38)"/>
<ellipse cx="350" cy="420" rx="20" ry="25" fill="rgb(38,38,38)"/>
<ellipse cx="440" cy="270" rx="25" ry="18" fill="rgb(38,38,38)"/>
<ellipse cx="355" cy="195" rx="20" ry="15" fill="rgb(36,36,36)"/>
<ellipse cx="192" cy="132" rx="22" ry="26" fill="rgb(62,62,62)"/>
<ellipse cx="192" cy="390" rx="30" ry="22" fill="rgb(61,61,61)"/>
<ellipse cx="240" cy="395" rx="25" ry="25" fill="rgb(62,62,62)"/>
<ellipse cx="470" cy="130" rx="22" ry="28" fill="rgb(61,61,61)"/>
<ellipse cx="186" cy="262" rx="26" ry="18" fill="rgb(55,55,55)"/>
<ellipse cx="288" cy="330" rx="22" ry="16" fill="rgb(57,57,57)"/>
<ellipse cx="285" cy="590" rx="25" ry="14" fill="rgb(56,56,56)"/>
</g>
<g filter="url(#hb6)">
<rect x="154.4" y="77.8" width="36" height="43" rx="11" fill="rgb(136,136,136)"/>
<rect x="429.1" y="76.3" width="36" height="43" rx="11" fill="rgb(136,136,136)"/>
<rect x="195.4" y="141.7" width="36" height="43" rx="11" fill="rgb(136,136,136)"/>
<rect x="474.0" y="141.1" width="36" height="43" rx="11" fill="rgb(136,136,136)"/>
<rect x="145.0" y="204.8" width="36" height="43" rx="11" fill="rgb(136,136,136)"/>
<rect x="290.0" y="276.7" width="36" height="43" rx="11" fill="rgb(136,136,136)"/>
<rect x="152.2" y="342.0" width="36" height="43" rx="11" fill="rgb(136,136,136)"/>
<rect x="245.5" y="340.5" width="36" height="43" rx="11" fill="rgb(136,136,136)"/>
<rect x="200.2" y="401.4" width="36" height="43" rx="11" fill="rgb(136,136,136)"/>
<rect x="287.2" y="536.8" width="36" height="43" rx="11" fill="rgb(136,136,136)"/>
<rect x="508" y="205" width="40" height="50" rx="12" fill="rgb(133,133,133)"/>
<rect x="514" y="345" width="40" height="44" rx="12" fill="rgb(102,102,102)"/>
</g>
<circle cx="172.4" cy="99.3" r="19.5" fill="url(#hg0)"/>
<circle cx="256" cy="95.6" r="21.5" fill="url(#hg1)"/>
<circle cx="352.7" cy="90.2" r="17.5" fill="url(#hg2)"/>
<circle cx="447.1" cy="97.8" r="18.9" fill="url(#hg3)"/>
<circle cx="213.4" cy="163.2" r="18.7" fill="url(#hg4)"/>
<circle cx="306.7" cy="154.4" r="18.9" fill="url(#hg5)"/>
<circle cx="399.8" cy="156.1" r="21.2" fill="url(#hg6)"/>
<circle cx="492" cy="162.6" r="18.9" fill="url(#hg7)"/>
<circle cx="163.0" cy="226.3" r="19.5" fill="url(#hg8)"/>
<circle cx="266.3" cy="228.5" r="17.5" fill="url(#hg9)"/>
<circle cx="353.8" cy="228" r="18.5" fill="url(#hg10)"/>
<circle cx="444.1" cy="228" r="18.5" fill="url(#hg11)"/>
<circle cx="211.9" cy="295.4" r="18.7" fill="url(#hg12)"/>
<circle cx="308" cy="298.2" r="18.7" fill="url(#hg13)"/>
<circle cx="399.8" cy="296.9" r="19.1" fill="url(#hg14)"/>
<circle cx="493.1" cy="297.6" r="21.5" fill="url(#hg15)"/>
<circle cx="170.2" cy="363.5" r="19.1" fill="url(#hg16)"/>
<circle cx="263.5" cy="362" r="19.5" fill="url(#hg17)"/>
<circle cx="351.7" cy="363.5" r="21.5" fill="url(#hg18)"/>
<circle cx="440.9" cy="365" r="14.5" fill="url(#hg19)"/>
<circle cx="218.2" cy="422.9" r="19.5" fill="url(#hg20)"/>
<circle cx="308" cy="427.6" r="20.5" fill="url(#hg21)"/>
<circle cx="397" cy="431.1" r="18.0" fill="url(#hg22)"/>
<circle cx="489.9" cy="429.4" r="19.1" fill="url(#hg23)"/>
<circle cx="175.6" cy="487.7" r="18.9" fill="url(#hg24)"/>
<circle cx="262.5" cy="490.9" r="21.5" fill="url(#hg25)"/>
<circle cx="352.1" cy="495.9" r="21.7" fill="url(#hg26)"/>
<circle cx="438.7" cy="500" r="15.7" fill="url(#hg27)"/>
<circle cx="213" cy="557.9" r="17.3" fill="url(#hg28)"/>
<circle cx="305.2" cy="558.3" r="18.9" fill="url(#hg29)"/>
<circle cx="400.3" cy="567.6" r="21.7" fill="url(#hg30)"/>
<circle cx="495.3" cy="562.2" r="20.5" fill="url(#hg31)"/></g></g>
<path d="M149.6 595.2 L149.6 71.3 L520.2 73.2 L520.2 595.2 Z" fill="none" stroke="#111" stroke-width="1.2"/>
<path d="M149.6 71.3 L520.2 73.2 L520.2 71.3Z" fill="#fff"/>
<rect x="577.2" y="113.3" width="20.199999999999932" height="465.7" fill="url(#cba)"/>
<line x1="577.20" y1="113.30" x2="577.20" y2="579.00" stroke="#333" stroke-width="1.1"/>
<line x1="597.40" y1="113.30" x2="597.40" y2="579.00" stroke="#333" stroke-width="1.1"/>
<line x1="597.40" y1="579.00" x2="603.60" y2="579.00" stroke="#333" stroke-width="1.0"/>
<line x1="597.40" y1="532.43" x2="603.60" y2="532.43" stroke="#333" stroke-width="1.0"/>
<line x1="597.40" y1="485.86" x2="603.60" y2="485.86" stroke="#333" stroke-width="1.0"/>
<line x1="597.40" y1="439.29" x2="603.60" y2="439.29" stroke="#333" stroke-width="1.0"/>
<line x1="597.40" y1="392.72" x2="603.60" y2="392.72" stroke="#333" stroke-width="1.0"/>
<line x1="597.40" y1="346.15" x2="603.60" y2="346.15" stroke="#333" stroke-width="1.0"/>
<line x1="597.40" y1="299.58" x2="603.60" y2="299.58" stroke="#333" stroke-width="1.0"/>
<line x1="597.40" y1="253.01" x2="603.60" y2="253.01" stroke="#333" stroke-width="1.0"/>
<line x1="597.40" y1="206.44" x2="603.60" y2="206.44" stroke="#333" stroke-width="1.0"/>
<line x1="597.40" y1="159.87" x2="603.60" y2="159.87" stroke="#333" stroke-width="1.0"/>
<line x1="597.40" y1="113.30" x2="603.60" y2="113.30" stroke="#333" stroke-width="1.0"/>
<line x1="102.00" y1="619.30" x2="102.00" y2="543.00" stroke="#000" stroke-width="1.7"/>
<path d="M102 534.5 L97.2 544.5 L106.8 544.5Z" fill="#000"/>
<line x1="101.20" y1="619.30" x2="177.00" y2="619.30" stroke="#000" stroke-width="1.7"/>
<path d="M186 619.3 L176.5 614.6 L176.5 624Z" fill="#000"/>
<rect x="730.0" y="71.8" width="370.20000000000005" height="523.2" fill="none" stroke="#555" stroke-width="1.6"/>
<g filter="url(#soft)"><circle cx="752" cy="99.6" r="15.8" fill="url(#aNb)"/><circle cx="835.4" cy="96.1" r="15.8" fill="url(#aTi)"/><circle cx="932.6" cy="90.7" r="15.8" fill="url(#aTi)"/><circle cx="1027.9" cy="97.6" r="15.8" fill="url(#aNb)"/><circle cx="793.3" cy="163.6" r="15.8" fill="url(#aNb)"/><circle cx="887" cy="155.2" r="17.2" fill="url(#aZr)"/><circle cx="980.3" cy="155.7" r="15.8" fill="url(#aTi)"/><circle cx="1072.5" cy="162.6" r="15.8" fill="url(#aNb)"/><circle cx="744.1" cy="227.1" r="15.8" fill="url(#aNb)"/><circle cx="846.3" cy="229.1" r="17.2" fill="url(#aZr)"/><circle cx="934.1" cy="228.6" r="17.2" fill="url(#aZr)"/><circle cx="1024.9" cy="228.1" r="17.2" fill="url(#aZr)"/><circle cx="792.8" cy="296.5" r="17.2" fill="url(#aZr)"/><circle cx="889" cy="299.5" r="15.8" fill="url(#aNb)"/><circle cx="980.8" cy="296.5" r="17.2" fill="url(#aZr)"/><circle cx="1074.5" cy="297" r="15.8" fill="url(#aTi)"/><circle cx="751.1" cy="364" r="15.8" fill="url(#aNb)"/><circle cx="843.8" cy="363" r="15.8" fill="url(#aNb)"/><circle cx="932.6" cy="363.5" r="15.8" fill="url(#aTi)"/><circle cx="1021.9" cy="365" r="17.2" fill="url(#aZr)"/><circle cx="798.7" cy="424" r="15.8" fill="url(#aNb)"/><circle cx="889" cy="429" r="15.8" fill="url(#aTi)"/><circle cx="977.8" cy="432" r="15.8" fill="url(#aTi)"/><circle cx="1071.5" cy="429.5" r="17.2" fill="url(#aZr)"/><circle cx="757" cy="489" r="17.2" fill="url(#aZr)"/><circle cx="844.3" cy="493" r="15.8" fill="url(#aTi)"/><circle cx="933.1" cy="496" r="15.8" fill="url(#aTi)"/><circle cx="1020.4" cy="500" r="17.2" fill="url(#aZr)"/><circle cx="794.2" cy="559" r="17.2" fill="url(#aZr)"/><circle cx="886.5" cy="559" r="15.8" fill="url(#aNb)"/><circle cx="981.7" cy="569" r="15.8" fill="url(#aTi)"/><circle cx="1077.5" cy="563" r="15.8" fill="url(#aTi)"/></g>
<g filter="url(#soft)"><line x1="846.6" y1="361.6" x2="889.3" y2="298.8" stroke="#8c1a10" stroke-width="3.0" stroke-linecap="round"/><line x1="889.3" y1="298.8" x2="888.9" y2="309.8" stroke="#8c1a10" stroke-width="3.0" stroke-linecap="round"/><line x1="889.3" y1="298.8" x2="879.2" y2="303.2" stroke="#8c1a10" stroke-width="3.0" stroke-linecap="round"/><line x1="846.6" y1="361.6" x2="847.0" y2="350.6" stroke="#8c1a10" stroke-width="3.0" stroke-linecap="round"/><line x1="846.6" y1="361.6" x2="856.7" y2="357.2" stroke="#8c1a10" stroke-width="3.0" stroke-linecap="round"/><line x1="846.6" y1="362.6" x2="933.0" y2="363.0" stroke="#8c1a10" stroke-width="3.0" stroke-linecap="round"/><line x1="933.0" y1="363.0" x2="923.6" y2="368.8" stroke="#8c1a10" stroke-width="3.0" stroke-linecap="round"/><line x1="933.0" y1="363.0" x2="923.7" y2="357.1" stroke="#8c1a10" stroke-width="3.0" stroke-linecap="round"/><line x1="846.6" y1="362.6" x2="856.0" y2="356.8" stroke="#8c1a10" stroke-width="3.0" stroke-linecap="round"/><line x1="846.6" y1="362.6" x2="855.9" y2="368.5" stroke="#8c1a10" stroke-width="3.0" stroke-linecap="round"/></g>
<rect x="1127.3" y="513.5" width="103.4" height="135.8" fill="#fff" stroke="#111" stroke-width="2"/>
<g filter="url(#soft)"><circle cx="1157.3" cy="540" r="15.4" fill="url(#aNb)"/><circle cx="1157.6" cy="582.9" r="15.2" fill="url(#aZr)"/><circle cx="1157.6" cy="626.8" r="14.7" fill="url(#aTi)"/></g>
<g clip-path="url(#bax)"><g filter="url(#hotmap)"><rect x="1380" y="55" width="435" height="530" fill="#000"/>
<g clip-path="url(#benv)">
<rect x="1380" y="55" width="435" height="530" fill="rgb(16,16,16)"/>
<g filter="url(#bb9)"><path d="M1384.4 475.3 C1386.1 470.8 1391.1 456.6 1394.5 448.0 C1397.8 439.4 1401.4 431.7 1404.5 423.5 C1407.7 415.4 1410.3 407.5 1413.2 399.1 C1416.1 390.7 1419.3 381.1 1421.8 373.2 C1424.4 365.2 1426.3 358.6 1428.4 351.6 C1430.6 344.6 1432.8 338.1 1434.8 331.1 C1436.8 324.1 1438.6 316.7 1440.5 309.5 C1442.4 302.3 1444.4 294.7 1446.3 288.0 C1448.2 281.2 1450.1 274.8 1452.0 269.2 C1454.0 263.7 1455.9 259.4 1457.8 254.9 C1459.7 250.3 1461.4 246.1 1463.6 241.9 C1465.7 237.7 1468.1 233.0 1470.7 229.8 C1473.4 226.6 1476.6 224.3 1479.4 222.9 C1482.2 221.5 1486.1 221.7 1487.4 221.5" fill="none" stroke="url(#bg1)" stroke-width="35.2" stroke-linecap="round" stroke-linejoin="round"/>
<path d="M1427.6 269.2 C1428.5 266.4 1431.4 256.8 1433.3 252.0 C1435.2 247.2 1436.7 244.8 1439.1 240.5 C1441.5 236.1 1444.4 230.9 1447.7 226.1 C1451.1 221.3 1455.4 215.3 1459.2 211.7 C1463.1 208.1 1466.0 206.1 1470.7 204.5 C1475.5 202.9 1484.7 202.6 1487.4 202.2" fill="none" stroke="url(#bg4)" stroke-width="34.0" stroke-linecap="round" stroke-linejoin="round"/>
<path d="M1487.4 221.5 C1489.9 222.9 1497.5 226.1 1502.4 229.8 C1507.3 233.5 1512.0 238.9 1516.8 243.6 C1521.6 248.3 1526.4 253.7 1531.2 258.0 C1536.0 262.3 1540.9 265.7 1545.6 269.5 C1550.3 273.4 1555.1 278.4 1559.4 281.0 C1563.7 283.7 1569.5 284.6 1571.5 285.4" fill="none" stroke="url(#bg7)" stroke-width="50.0" stroke-linecap="round" stroke-linejoin="round"/>
<path d="M1559.4 281.0 C1561.4 281.8 1568.0 283.2 1571.5 285.4 C1575.0 287.5 1577.5 289.4 1580.1 294.0 C1582.8 298.6 1585.2 305.8 1587.3 312.7 C1589.5 319.7 1591.2 327.6 1593.1 335.7 C1595.0 343.9 1596.9 353.0 1598.8 361.6 C1600.8 370.3 1602.7 379.4 1604.6 387.6 C1606.5 395.7 1608.2 402.4 1610.4 410.6 C1612.5 418.7 1615.2 428.8 1617.6 436.5 C1620.0 444.2 1622.3 450.2 1624.7 456.6 C1627.2 463.1 1631.2 472.2 1632.5 475.3" fill="none" stroke="url(#bg10)" stroke-width="32.0" stroke-linecap="round" stroke-linejoin="round"/>
<ellipse cx="1487.6" cy="212.0" rx="38" ry="22" fill="rgb(76,76,76)"/>
<path d="M1487.4 201.9 C1489.7 202.6 1497.0 203.6 1501.0 206.2 C1504.9 208.8 1507.9 212.9 1511.0 217.7 C1514.2 222.5 1517.0 229.5 1519.7 235.0 C1522.3 240.5 1525.7 248.2 1526.9 250.8" fill="none" stroke="url(#bg13)" stroke-width="32.0" stroke-linecap="round" stroke-linejoin="round"/>
<path d="M1442.0 324.2 C1443.2 320.4 1446.3 309.4 1449.2 301.2 C1452.0 293.0 1455.6 282.2 1459.2 275.3 C1462.8 268.3 1466.0 263.5 1470.7 259.5 C1475.5 255.4 1481.7 250.1 1487.4 250.8 C1493.2 251.5 1499.9 257.5 1505.3 263.8 C1510.7 270.0 1515.4 279.4 1519.7 288.2 C1524.0 297.1 1527.4 307.4 1531.2 317.0 C1535.0 326.6 1538.9 337.7 1542.7 345.8 C1546.5 354.0 1549.9 361.2 1554.2 366.0 C1558.5 370.8 1563.8 371.2 1568.6 374.6 C1573.4 378.0 1578.2 381.8 1583.0 386.1 C1587.8 390.4 1595.0 398.1 1597.4 400.5" fill="none" stroke="url(#bg16)" stroke-width="17" stroke-linecap="round" stroke-linejoin="round"/>
<path d="M1632.2 475.3 C1634.1 471.3 1639.4 458.3 1643.2 450.9 C1646.9 443.4 1651.1 437.0 1654.7 430.7 C1658.3 424.5 1661.4 419.7 1664.8 413.5 C1668.1 407.2 1671.2 400.5 1674.8 393.3 C1678.4 386.1 1682.8 378.0 1686.4 370.3 C1690.0 362.6 1693.3 354.0 1696.4 347.3 C1699.5 340.5 1702.2 334.8 1705.1 330.0 C1707.9 325.2 1711.0 321.1 1713.7 318.5 C1716.4 315.8 1718.6 315.1 1721.5 314.2 C1724.4 313.2 1727.7 314.2 1731.0 312.7 C1734.2 311.3 1737.9 308.4 1741.0 305.5 C1744.2 302.6 1746.8 300.0 1749.7 295.4 C1752.6 290.9 1755.4 284.4 1758.3 278.2 C1761.2 271.9 1764.1 264.7 1767.0 258.0 C1769.8 251.3 1772.7 244.1 1775.6 237.9 C1778.5 231.6 1780.9 225.9 1784.2 220.6 C1787.6 215.3 1791.2 209.4 1795.7 206.2 C1800.3 203.0 1808.9 202.1 1811.6 201.3" fill="none" stroke="url(#bg18)" stroke-width="42.0" stroke-linecap="round" stroke-linejoin="round"/>
<ellipse cx="1721.4" cy="315.6" rx="30" ry="24" fill="rgb(76,76,76)"/>
<ellipse cx="1809.6" cy="212.0" rx="38" ry="22" fill="rgb(76,76,76)"/>
<path d="M1769.8 252.3 C1771.8 249.9 1777.5 241.9 1781.3 237.9 C1785.2 233.8 1787.8 230.3 1792.9 227.8 C1797.9 225.3 1808.5 223.7 1811.6 222.9" fill="none" stroke="url(#bg21)" stroke-width="32.0" stroke-linecap="round" stroke-linejoin="round"/>
<path d="M1721.5 314.2 C1723.1 316.8 1728.0 324.9 1731.0 330.0 C1734.0 335.0 1737.2 340.8 1739.6 344.4 C1742.0 348.0 1744.4 350.4 1745.4 351.6" fill="none" stroke="url(#bg25)" stroke-width="24" stroke-linecap="round" stroke-linejoin="round"/>
<path d="M1721.5 314.2 C1719.9 311.3 1715.5 303.4 1712.3 296.9 C1709.0 290.4 1705.5 282.2 1702.2 275.3 C1698.8 268.3 1695.2 261.6 1692.1 255.1 C1689.0 248.7 1684.9 239.5 1683.5 236.4" fill="none" stroke="url(#bg26)" stroke-width="20" stroke-linecap="round" stroke-linejoin="round"/>
<path d="M1745.4 351.6 C1747.3 349.9 1752.8 348.0 1756.9 341.5 C1761.0 335.0 1764.8 322.3 1769.8 312.7 C1774.9 303.1 1781.8 292.6 1787.1 283.9 C1792.4 275.3 1797.4 266.7 1801.5 260.9 C1805.6 255.1 1809.9 251.3 1811.6 249.4" fill="none" stroke="url(#bg28)" stroke-width="18" stroke-linecap="round" stroke-linejoin="round"/>
<path d="M1721.5 314.2 C1721.5 318.7 1722.0 332.1 1721.5 341.5 C1721.0 350.9 1719.4 361.6 1718.6 370.3 C1717.8 378.9 1716.9 389.5 1716.6 393.3" fill="none" stroke="url(#bg30)" stroke-width="16" stroke-linecap="round" stroke-linejoin="round"/>
<path d="M1683.5 236.4 C1683.4 234.3 1683.1 228.0 1682.9 223.5 C1682.7 218.9 1681.9 213.9 1682.0 209.1 C1682.1 204.3 1683.2 197.1 1683.5 194.7" fill="none" stroke="url(#bg31)" stroke-width="14" stroke-linecap="round" stroke-linejoin="round"/>
<path d="M1632.2 475.3 C1633.1 469.8 1635.6 453.5 1637.4 442.2 C1639.2 431.0 1641.3 419.2 1643.2 407.7 C1645.1 396.2 1647.0 384.7 1648.9 373.2 C1650.9 361.6 1652.8 349.7 1654.7 338.6 C1656.6 327.6 1658.5 317.0 1660.4 307.0 C1662.4 296.9 1664.0 286.8 1666.2 278.2 C1668.4 269.5 1671.0 261.9 1673.4 255.1 C1675.8 248.4 1679.4 240.7 1680.6 237.9" fill="none" stroke="url(#bg32)" stroke-width="13" stroke-linecap="round" stroke-linejoin="round"/>
<path d="M1384.4 475.3 C1385.6 467.9 1389.2 444.9 1391.6 430.7 C1394.0 416.6 1396.5 402.2 1398.8 390.4 C1401.0 378.6 1403.1 369.8 1405.1 359.9 C1407.1 350.0 1409.1 339.5 1410.9 331.1 C1412.7 322.7 1414.2 316.7 1416.1 309.5 C1417.9 302.3 1419.9 294.7 1421.8 288.0 C1423.7 281.2 1425.7 275.2 1427.6 269.2 C1429.5 263.2 1431.4 256.8 1433.3 252.0 C1435.2 247.2 1436.7 244.8 1439.1 240.5 C1441.5 236.1 1444.4 230.9 1447.7 226.1 C1451.1 221.3 1457.3 214.1 1459.2 211.7" fill="none" stroke="url(#bg33)" stroke-width="14" stroke-linecap="round" stroke-linejoin="round"/>
<path d="M1632.5 475.3 C1631.0 465.5 1626.3 434.8 1623.3 416.3 C1620.3 397.9 1617.6 380.8 1614.7 364.5 C1611.8 348.2 1608.9 331.4 1606.0 318.5 C1603.2 305.5 1600.8 295.4 1597.4 286.8 C1594.0 278.2 1587.8 270.0 1585.9 266.7" fill="none" stroke="url(#bg34)" stroke-width="12" stroke-linecap="round" stroke-linejoin="round"/></g>
<g filter="url(#bb5)"><path d="M1384.4 475.3 C1386.1 470.8 1391.1 456.6 1394.5 448.0 C1397.8 439.4 1401.4 431.7 1404.5 423.5 C1407.7 415.4 1410.3 407.5 1413.2 399.1 C1416.1 390.7 1419.3 381.1 1421.8 373.2 C1424.4 365.2 1426.3 358.6 1428.4 351.6 C1430.6 344.6 1432.8 338.1 1434.8 331.1 C1436.8 324.1 1438.6 316.7 1440.5 309.5 C1442.4 302.3 1444.4 294.7 1446.3 288.0 C1448.2 281.2 1450.1 274.8 1452.0 269.2 C1454.0 263.7 1455.9 259.4 1457.8 254.9 C1459.7 250.3 1461.4 246.1 1463.6 241.9 C1465.7 237.7 1468.1 233.0 1470.7 229.8 C1473.4 226.6 1476.6 224.3 1479.4 222.9 C1482.2 221.5 1486.1 221.7 1487.4 221.5" fill="none" stroke="url(#bg2)" stroke-width="18.480000000000004" stroke-linecap="round" stroke-linejoin="round"/>
<path d="M1427.6 269.2 C1428.5 266.4 1431.4 256.8 1433.3 252.0 C1435.2 247.2 1436.7 244.8 1439.1 240.5 C1441.5 236.1 1444.4 230.9 1447.7 226.1 C1451.1 221.3 1455.4 215.3 1459.2 211.7 C1463.1 208.1 1466.0 206.1 1470.7 204.5 C1475.5 202.9 1484.7 202.6 1487.4 202.2" fill="none" stroke="url(#bg5)" stroke-width="17.85" stroke-linecap="round" stroke-linejoin="round"/>
<path d="M1487.4 221.5 C1489.9 222.9 1497.5 226.1 1502.4 229.8 C1507.3 233.5 1512.0 238.9 1516.8 243.6 C1521.6 248.3 1526.4 253.7 1531.2 258.0 C1536.0 262.3 1540.9 265.7 1545.6 269.5 C1550.3 273.4 1555.1 278.4 1559.4 281.0 C1563.7 283.7 1569.5 284.6 1571.5 285.4" fill="none" stroke="url(#bg8)" stroke-width="26.25" stroke-linecap="round" stroke-linejoin="round"/>
<path d="M1559.4 281.0 C1561.4 281.8 1568.0 283.2 1571.5 285.4 C1575.0 287.5 1577.5 289.4 1580.1 294.0 C1582.8 298.6 1585.2 305.8 1587.3 312.7 C1589.5 319.7 1591.2 327.6 1593.1 335.7 C1595.0 343.9 1596.9 353.0 1598.8 361.6 C1600.8 370.3 1602.7 379.4 1604.6 387.6 C1606.5 395.7 1608.2 402.4 1610.4 410.6 C1612.5 418.7 1615.2 428.8 1617.6 436.5 C1620.0 444.2 1622.3 450.2 1624.7 456.6 C1627.2 463.1 1631.2 472.2 1632.5 475.3" fill="none" stroke="url(#bg11)" stroke-width="16.8" stroke-linecap="round" stroke-linejoin="round"/>
<ellipse cx="1487.6" cy="212.0" rx="29" ry="17" fill="rgb(178,178,178)"/>
<path d="M1487.4 201.9 C1489.7 202.6 1497.0 203.6 1501.0 206.2 C1504.9 208.8 1507.9 212.9 1511.0 217.7 C1514.2 222.5 1517.0 229.5 1519.7 235.0 C1522.3 240.5 1525.7 248.2 1526.9 250.8" fill="none" stroke="url(#bg14)" stroke-width="16.8" stroke-linecap="round" stroke-linejoin="round"/>
<path d="M1519.7 288.2 C1521.6 293.0 1527.4 307.4 1531.2 317.0 C1535.0 326.6 1538.9 337.7 1542.7 345.8 C1546.5 354.0 1549.9 361.2 1554.2 366.0 C1558.5 370.8 1563.8 371.2 1568.6 374.6 C1573.4 378.0 1578.2 381.8 1583.0 386.1 C1587.8 390.4 1595.0 398.1 1597.4 400.5" fill="none" stroke="url(#bg17)" stroke-width="8" stroke-linecap="round" stroke-linejoin="round"/>
<ellipse cx="1577.8" cy="378.3" rx="12" ry="10" fill="rgb(92,92,92)"/>
<path d="M1632.2 475.3 C1634.1 471.3 1639.4 458.3 1643.2 450.9 C1646.9 443.4 1651.1 437.0 1654.7 430.7 C1658.3 424.5 1661.4 419.7 1664.8 413.5 C1668.1 407.2 1671.2 400.5 1674.8 393.3 C1678.4 386.1 1682.8 378.0 1686.4 370.3 C1690.0 362.6 1693.3 354.0 1696.4 347.3 C1699.5 340.5 1702.2 334.8 1705.1 330.0 C1707.9 325.2 1711.0 321.1 1713.7 318.5 C1716.4 315.8 1718.6 315.1 1721.5 314.2 C1724.4 313.2 1727.7 314.2 1731.0 312.7 C1734.2 311.3 1737.9 308.4 1741.0 305.5 C1744.2 302.6 1746.8 300.0 1749.7 295.4 C1752.6 290.9 1755.4 284.4 1758.3 278.2 C1761.2 271.9 1764.1 264.7 1767.0 258.0 C1769.8 251.3 1772.7 244.1 1775.6 237.9 C1778.5 231.6 1780.9 225.9 1784.2 220.6 C1787.6 215.3 1791.2 209.4 1795.7 206.2 C1800.3 203.0 1808.9 202.1 1811.6 201.3" fill="none" stroke="url(#bg19)" stroke-width="22.05" stroke-linecap="round" stroke-linejoin="round"/>
<ellipse cx="1721.4" cy="315.6" rx="21" ry="15" fill="rgb(153,153,153)"/>
<ellipse cx="1809.6" cy="212.0" rx="29" ry="17" fill="rgb(178,178,178)"/>
<path d="M1769.8 252.3 C1771.8 249.9 1777.5 241.9 1781.3 237.9 C1785.2 233.8 1787.8 230.3 1792.9 227.8 C1797.9 225.3 1808.5 223.7 1811.6 222.9" fill="none" stroke="url(#bg22)" stroke-width="16.8" stroke-linecap="round" stroke-linejoin="round"/>
<path d="M1721.5 314.2 C1723.1 316.8 1728.0 324.9 1731.0 330.0 C1734.0 335.0 1737.2 340.8 1739.6 344.4 C1742.0 348.0 1744.4 350.4 1745.4 351.6" fill="none" stroke="url(#bg24)" stroke-width="13" stroke-linecap="round" stroke-linejoin="round"/>
<path d="M1721.5 314.2 C1720.2 311.8 1716.2 304.8 1713.7 299.8 C1711.2 294.7 1707.7 286.6 1706.5 283.9" fill="none" stroke="url(#bg27)" stroke-width="11" stroke-linecap="round" stroke-linejoin="round"/>
<ellipse cx="1683.5" cy="237.9" rx="6" ry="8" fill="rgb(76,76,76)"/>
<path d="M1745.4 351.6 C1747.3 349.9 1752.8 348.0 1756.9 341.5 C1761.0 335.0 1764.8 322.3 1769.8 312.7 C1774.9 303.1 1781.8 292.6 1787.1 283.9 C1792.4 275.3 1797.4 266.7 1801.5 260.9 C1805.6 255.1 1809.9 251.3 1811.6 249.4" fill="none" stroke="url(#bg29)" stroke-width="8" stroke-linecap="round" stroke-linejoin="round"/></g>
<g filter="url(#bb3)"><path d="M1384.4 475.3 C1386.1 470.8 1391.1 456.6 1394.5 448.0 C1397.8 439.4 1401.4 431.7 1404.5 423.5 C1407.7 415.4 1410.3 407.5 1413.2 399.1 C1416.1 390.7 1419.3 381.1 1421.8 373.2 C1424.4 365.2 1426.3 358.6 1428.4 351.6 C1430.6 344.6 1432.8 338.1 1434.8 331.1 C1436.8 324.1 1438.6 316.7 1440.5 309.5 C1442.4 302.3 1444.4 294.7 1446.3 288.0 C1448.2 281.2 1450.1 274.8 1452.0 269.2 C1454.0 263.7 1455.9 259.4 1457.8 254.9 C1459.7 250.3 1461.4 246.1 1463.6 241.9 C1465.7 237.7 1468.1 233.0 1470.7 229.8 C1473.4 226.6 1476.6 224.3 1479.4 222.9 C1482.2 221.5 1486.1 221.7 1487.4 221.5" fill="none" stroke="url(#bg3)" stroke-width="8.8" stroke-linecap="round" stroke-linejoin="round"/>
<path d="M1427.6 269.2 C1428.5 266.4 1431.4 256.8 1433.3 252.0 C1435.2 247.2 1436.7 244.8 1439.1 240.5 C1441.5 236.1 1444.4 230.9 1447.7 226.1 C1451.1 221.3 1455.4 215.3 1459.2 211.7 C1463.1 208.1 1466.0 206.1 1470.7 204.5 C1475.5 202.9 1484.7 202.6 1487.4 202.2" fill="none" stroke="url(#bg6)" stroke-width="8.5" stroke-linecap="round" stroke-linejoin="round"/>
<path d="M1487.4 221.5 C1489.9 222.9 1497.5 226.1 1502.4 229.8 C1507.3 233.5 1512.0 238.9 1516.8 243.6 C1521.6 248.3 1526.4 253.7 1531.2 258.0 C1536.0 262.3 1540.9 265.7 1545.6 269.5 C1550.3 273.4 1555.1 278.4 1559.4 281.0 C1563.7 283.7 1569.5 284.6 1571.5 285.4" fill="none" stroke="url(#bg9)" stroke-width="12.5" stroke-linecap="round" stroke-linejoin="round"/>
<path d="M1559.4 281.0 C1561.4 281.8 1568.0 283.2 1571.5 285.4 C1575.0 287.5 1577.5 289.4 1580.1 294.0 C1582.8 298.6 1585.2 305.8 1587.3 312.7 C1589.5 319.7 1591.2 327.6 1593.1 335.7 C1595.0 343.9 1596.9 353.0 1598.8 361.6 C1600.8 370.3 1602.7 379.4 1604.6 387.6 C1606.5 395.7 1608.2 402.4 1610.4 410.6 C1612.5 418.7 1615.2 428.8 1617.6 436.5 C1620.0 444.2 1622.3 450.2 1624.7 456.6 C1627.2 463.1 1631.2 472.2 1632.5 475.3" fill="none" stroke="url(#bg12)" stroke-width="8.0" stroke-linecap="round" stroke-linejoin="round"/>
<ellipse cx="1487.6" cy="206.8" rx="24" ry="11" fill="rgb(199,199,199)"/>
<ellipse cx="1487.6" cy="225.2" rx="24" ry="5.5" fill="rgb(189,189,189)"/>
<path d="M1487.4 201.9 C1489.7 202.6 1497.0 203.6 1501.0 206.2 C1504.9 208.8 1507.9 212.9 1511.0 217.7 C1514.2 222.5 1517.0 229.5 1519.7 235.0 C1522.3 240.5 1525.7 248.2 1526.9 250.8" fill="none" stroke="url(#bg15)" stroke-width="8.0" stroke-linecap="round" stroke-linejoin="round"/>
<path d="M1632.2 475.3 C1634.1 471.3 1639.4 458.3 1643.2 450.9 C1646.9 443.4 1651.1 437.0 1654.7 430.7 C1658.3 424.5 1661.4 419.7 1664.8 413.5 C1668.1 407.2 1671.2 400.5 1674.8 393.3 C1678.4 386.1 1682.8 378.0 1686.4 370.3 C1690.0 362.6 1693.3 354.0 1696.4 347.3 C1699.5 340.5 1702.2 334.8 1705.1 330.0 C1707.9 325.2 1711.0 321.1 1713.7 318.5 C1716.4 315.8 1718.6 315.1 1721.5 314.2 C1724.4 313.2 1727.7 314.2 1731.0 312.7 C1734.2 311.3 1737.9 308.4 1741.0 305.5 C1744.2 302.6 1746.8 300.0 1749.7 295.4 C1752.6 290.9 1755.4 284.4 1758.3 278.2 C1761.2 271.9 1764.1 264.7 1767.0 258.0 C1769.8 251.3 1772.7 244.1 1775.6 237.9 C1778.5 231.6 1780.9 225.9 1784.2 220.6 C1787.6 215.3 1791.2 209.4 1795.7 206.2 C1800.3 203.0 1808.9 202.1 1811.6 201.3" fill="none" stroke="url(#bg20)" stroke-width="10.5" stroke-linecap="round" stroke-linejoin="round"/>
<ellipse cx="1721.4" cy="314.4" rx="12" ry="8" fill="rgb(230,230,230)"/>
<ellipse cx="1809.6" cy="206.8" rx="24" ry="11" fill="rgb(199,199,199)"/>
<ellipse cx="1809.6" cy="225.2" rx="22" ry="5.5" fill="rgb(189,189,189)"/>
<path d="M1769.8 252.3 C1771.8 249.9 1777.5 241.9 1781.3 237.9 C1785.2 233.8 1787.8 230.3 1792.9 227.8 C1797.9 225.3 1808.5 223.7 1811.6 222.9" fill="none" stroke="url(#bg23)" stroke-width="8.0" stroke-linecap="round" stroke-linejoin="round"/></g>
<g filter="url(#bb15)"><ellipse cx="1487.6" cy="202.5" rx="15" ry="2.4" fill="rgb(219,219,219)"/>
<ellipse cx="1721.4" cy="314.4" rx="6.5" ry="5" fill="rgb(255,255,255)"/>
<ellipse cx="1809.6" cy="202.5" rx="13" ry="2.4" fill="rgb(224,224,224)"/>
<path d="M1384.7 476.2 C1385.4 473.2 1386.8 463.6 1388.7 458.2 C1390.6 452.8 1393.5 448.6 1395.9 443.8 C1398.3 439.0 1401.0 434.5 1403.1 429.4 C1405.3 424.4 1407.0 418.9 1408.9 413.6 C1410.8 408.3 1412.8 403.0 1414.6 397.8 C1416.4 392.5 1418.2 386.6 1419.7 381.9 C1421.2 377.2 1422.9 371.7 1423.6 369.7" fill="none" stroke="url(#bg35)" stroke-width="7.0" stroke-linecap="butt" stroke-linejoin="round"/>
<path d="M1632.3 472.6 C1632.3 474.0 1632.3 479.6 1632.3 481.0" fill="none" stroke="url(#bg36)" stroke-width="3.5" stroke-linecap="round" stroke-linejoin="round"/>
<path d="M1384.7 472.6 C1384.7 473.9 1384.7 478.9 1384.7 480.1" fill="none" stroke="url(#bg37)" stroke-width="3.5" stroke-linecap="round" stroke-linejoin="round"/>
<path d="M1632.3 476.2 C1631.3 473.7 1628.3 466.0 1626.4 461.1 C1624.5 456.2 1622.6 451.5 1620.6 446.7 C1618.7 441.9 1616.8 436.9 1614.9 432.3 C1613.0 427.8 1610.8 423.4 1609.1 419.4 C1607.4 415.3 1606.1 411.3 1604.8 407.8 C1603.6 404.4 1602.2 400.0 1601.6 398.5" fill="none" stroke="url(#bg38)" stroke-width="8.0" stroke-linecap="butt" stroke-linejoin="round"/>
<path d="M1632.3 476.2 C1633.5 473.7 1637.0 466.0 1639.4 461.1 C1641.7 456.2 1644.2 451.5 1646.6 446.7 C1649.0 441.9 1651.4 436.9 1653.8 432.3 C1656.2 427.8 1658.7 423.1 1661.0 419.4 C1663.2 415.6 1666.4 411.6 1667.4 410.0" fill="none" stroke="url(#bg39)" stroke-width="10.2" stroke-linecap="butt" stroke-linejoin="round"/></g>
<g filter="url(#bb08)"><path d="M1384.7 474.1 C1385.8 467.6 1389.6 446.0 1391.6 435.2 C1393.6 424.4 1395.1 417.7 1396.6 409.3 C1398.2 400.9 1399.5 393.0 1401.0 384.8 C1402.4 376.6 1403.6 369.0 1405.3 360.0 C1407.0 351.1 1409.2 339.6 1411.0 331.2 C1412.8 322.8 1414.3 316.8 1416.1 309.6 C1417.9 302.4 1419.9 294.8 1421.8 288.0 C1423.8 281.3 1425.7 275.3 1427.6 269.3 C1429.5 263.3 1432.4 254.9 1433.4 252.0" fill="none" stroke="url(#bg40)" stroke-width="2.8" stroke-linecap="round" stroke-linejoin="round"/>
<path d="M1384.7 474.1 C1385.3 469.5 1387.3 454.6 1388.4 446.7 C1389.6 438.8 1390.6 432.8 1391.6 426.6 C1392.6 420.3 1393.5 414.8 1394.5 409.3 C1395.4 403.8 1396.3 398.7 1397.4 393.4 C1398.4 388.2 1399.8 382.9 1401.0 377.6 C1402.2 372.3 1403.4 366.6 1404.6 361.8 C1405.7 357.0 1406.5 353.6 1407.7 348.8 C1408.9 344.0 1410.4 338.2 1411.8 333.0 C1413.2 327.7 1415.4 319.8 1416.1 317.1" fill="none" stroke="url(#bg41)" stroke-width="2.0" stroke-linecap="round" stroke-linejoin="round"/>
<path d="M1632.3 474.1 C1631.6 470.0 1629.2 457.0 1627.8 449.6 C1626.5 442.2 1625.4 435.9 1624.2 429.4 C1623.0 423.0 1621.8 417.0 1620.6 410.7 C1619.4 404.5 1618.2 398.0 1617.0 392.0 C1615.8 386.0 1614.6 380.2 1613.4 374.7 C1612.3 369.2 1611.3 364.9 1610.3 358.9 C1609.3 352.8 1608.5 345.4 1607.4 338.4 C1606.3 331.4 1605.1 324.0 1603.9 316.8 C1602.8 309.6 1601.7 301.7 1600.5 295.2 C1599.3 288.8 1598.1 282.7 1596.9 277.9 C1595.7 273.1 1594.6 270.3 1593.3 266.4 C1592.0 262.6 1589.7 256.8 1589.0 254.9" fill="none" stroke="url(#bg42)" stroke-width="2.8" stroke-linecap="round" stroke-linejoin="round"/>
<path d="M1632.3 474.1 C1633.0 470.0 1635.1 457.8 1636.5 449.6 C1637.9 441.4 1639.5 432.3 1640.8 425.1 C1642.1 417.9 1643.3 412.6 1644.4 406.4 C1645.5 400.2 1646.3 393.2 1647.3 387.7 C1648.2 382.2 1649.1 378.3 1650.2 373.3 C1651.2 368.2 1652.6 363.3 1653.8 357.4 C1655.0 351.6 1656.2 345.2 1657.4 338.4 C1658.6 331.7 1659.8 324.0 1661.0 316.8 C1662.2 309.6 1663.4 301.7 1664.6 295.2 C1665.8 288.8 1667.0 282.7 1668.2 277.9 C1669.4 273.1 1670.4 270.7 1671.8 266.4 C1673.1 262.2 1675.4 254.7 1676.1 252.3" fill="none" stroke="url(#bg43)" stroke-width="2.8" stroke-linecap="round" stroke-linejoin="round"/></g>
</g></g></g>
<line x1="1487.60" y1="60.20" x2="1487.60" y2="577.60" stroke="#808080" stroke-width="1.1"/>
<line x1="1559.50" y1="60.20" x2="1559.50" y2="577.60" stroke="#808080" stroke-width="1.1"/>
<line x1="1632.30" y1="60.20" x2="1632.30" y2="577.60" stroke="#808080" stroke-width="1.1"/>
<line x1="1721.40" y1="60.20" x2="1721.40" y2="577.60" stroke="#808080" stroke-width="1.1"/>
<line x1="1384.60" y1="474.30" x2="1809.60" y2="474.30" stroke="#808080" stroke-width="1.1"/>
<rect x="1384.6" y="60.2" width="425.0" height="517.4" fill="none" stroke="#000" stroke-width="1.3"/>
<line x1="1381.00" y1="573.71" x2="1384.60" y2="573.71" stroke="#000" stroke-width="1.0"/>
<line x1="1378.00" y1="557.14" x2="1384.60" y2="557.14" stroke="#000" stroke-width="1.3"/>
<line x1="1381.00" y1="540.57" x2="1384.60" y2="540.57" stroke="#000" stroke-width="1.0"/>
<line x1="1381.00" y1="524.00" x2="1384.60" y2="524.00" stroke="#000" stroke-width="1.0"/>
<line x1="1381.00" y1="507.44" x2="1384.60" y2="507.44" stroke="#000" stroke-width="1.0"/>
<line x1="1381.00" y1="490.87" x2="1384.60" y2="490.87" stroke="#000" stroke-width="1.0"/>
<line x1="1378.00" y1="474.30" x2="1384.60" y2="474.30" stroke="#000" stroke-width="1.3"/>
<line x1="1381.00" y1="457.73" x2="1384.60" y2="457.73" stroke="#000" stroke-width="1.0"/>
<line x1="1381.00" y1="441.16" x2="1384.60" y2="441.16" stroke="#000" stroke-width="1.0"/>
<line x1="1381.00" y1="424.60" x2="1384.60" y2="424.60" stroke="#000" stroke-width="1.0"/>
<line x1="1381.00" y1="408.03" x2="1384.60" y2="408.03" stroke="#000" stroke-width="1.0"/>
<line x1="1378.00" y1="391.46" x2="1384.60" y2="391.46" stroke="#000" stroke-width="1.3"/>
<line x1="1381.00" y1="374.89" x2="1384.60" y2="374.89" stroke="#000" stroke-width="1.0"/>
<line x1="1381.00" y1="358.32" x2="1384.60" y2="358.32" stroke="#000" stroke-width="1.0"/>
<line x1="1381.00" y1="341.76" x2="1384.60" y2="341.76" stroke="#000" stroke-width="1.0"/>
<line x1="1381.00" y1="325.19" x2="1384.60" y2="325.19" stroke="#000" stroke-width="1.0"/>
<line x1="1378.00" y1="308.62" x2="1384.60" y2="308.62" stroke="#000" stroke-width="1.3"/>
<line x1="1381.00" y1="292.05" x2="1384.60" y2="292.05" stroke="#000" stroke-width="1.0"/>
<line x1="1381.00" y1="275.48" x2="1384.60" y2="275.48" stroke="#000" stroke-width="1.0"/>
<line x1="1381.00" y1="258.92" x2="1384.60" y2="258.92" stroke="#000" stroke-width="1.0"/>
<line x1="1381.00" y1="242.35" x2="1384.60" y2="242.35" stroke="#000" stroke-width="1.0"/>
<line x1="1378.00" y1="225.78" x2="1384.60" y2="225.78" stroke="#000" stroke-width="1.3"/>
<line x1="1381.00" y1="209.21" x2="1384.60" y2="209.21" stroke="#000" stroke-width="1.0"/>
<line x1="1381.00" y1="192.64" x2="1384.60" y2="192.64" stroke="#000" stroke-width="1.0"/>
<line x1="1381.00" y1="176.08" x2="1384.60" y2="176.08" stroke="#000" stroke-width="1.0"/>
<line x1="1381.00" y1="159.51" x2="1384.60" y2="159.51" stroke="#000" stroke-width="1.0"/>
<line x1="1378.00" y1="142.94" x2="1384.60" y2="142.94" stroke="#000" stroke-width="1.3"/>
<line x1="1381.00" y1="126.37" x2="1384.60" y2="126.37" stroke="#000" stroke-width="1.0"/>
<line x1="1381.00" y1="109.80" x2="1384.60" y2="109.80" stroke="#000" stroke-width="1.0"/>
<line x1="1381.00" y1="93.24" x2="1384.60" y2="93.24" stroke="#000" stroke-width="1.0"/>
<line x1="1381.00" y1="76.67" x2="1384.60" y2="76.67" stroke="#000" stroke-width="1.0"/>
<line x1="1378.00" y1="60.10" x2="1384.60" y2="60.10" stroke="#000" stroke-width="1.3"/>
<line x1="1384.60" y1="577.60" x2="1384.60" y2="583.80" stroke="#000" stroke-width="1.3"/>
<line x1="1487.60" y1="577.60" x2="1487.60" y2="583.80" stroke="#000" stroke-width="1.3"/>
<line x1="1559.50" y1="577.60" x2="1559.50" y2="583.80" stroke="#000" stroke-width="1.3"/>
<line x1="1632.30" y1="577.60" x2="1632.30" y2="583.80" stroke="#000" stroke-width="1.3"/>
<line x1="1721.40" y1="577.60" x2="1721.40" y2="583.80" stroke="#000" stroke-width="1.3"/>
<line x1="1809.60" y1="577.60" x2="1809.60" y2="583.80" stroke="#000" stroke-width="1.3"/>
<rect x="1836.0" y="60.2" width="26.59999999999991" height="517.4" fill="url(#cbb)"/>
<rect x="1836.0" y="553.0" width="26.59999999999991" height="24.6" fill="#fff"/>
<rect x="1836.0" y="60.2" width="26.59999999999991" height="517.4" fill="none" stroke="#000" stroke-width="1.5"/>
<line x1="1862.60" y1="577.60" x2="1868.80" y2="577.60" stroke="#000" stroke-width="1.2"/>
<line x1="1862.60" y1="467.50" x2="1868.80" y2="467.50" stroke="#000" stroke-width="1.2"/>
<line x1="1862.60" y1="357.40" x2="1868.80" y2="357.40" stroke="#000" stroke-width="1.2"/>
<line x1="1862.60" y1="247.30" x2="1868.80" y2="247.30" stroke="#000" stroke-width="1.2"/>
<line x1="1862.60" y1="137.20" x2="1868.80" y2="137.20" stroke="#000" stroke-width="1.2"/>
<g clip-path="url(#cclip0)"><g filter="url(#jetmap0)"><rect x="111.4" y="736.8" width="446.1" height="427.1" fill="#fff"/><ellipse cx="0" cy="0" rx="13.2" ry="15.2" fill="url(#bg0_0)" style="mix-blend-mode:darken" transform="translate(184.8,772.4) rotate(-30)"/><ellipse cx="0" cy="0" rx="13.2" ry="13.2" fill="url(#bg0_0)" style="mix-blend-mode:darken" transform="translate(304.8,774.8) rotate(0)"/><ellipse cx="0" cy="0" rx="13.2" ry="13.2" fill="url(#bg0_0)" style="mix-blend-mode:darken" transform="translate(409.4,772.4) rotate(0)"/><ellipse cx="0" cy="0" rx="13.9" ry="13.2" fill="url(#bg0_0)" style="mix-blend-mode:darken" transform="translate(520.8,773.8) rotate(0)"/><ellipse cx="0" cy="0" rx="14.5" ry="12.5" fill="url(#bg0_0)" style="mix-blend-mode:darken" transform="translate(135.8,827.6) rotate(20)"/><ellipse cx="0" cy="0" rx="11.2" ry="11.2" fill="url(#bg0_0)" style="mix-blend-mode:darken" transform="translate(244.8,823.8) rotate(0)"/><ellipse cx="0" cy="0" rx="14.5" ry="13.2" fill="url(#bg0_0)" style="mix-blend-mode:darken" transform="translate(357.6,822.8) rotate(0)"/><ellipse cx="0" cy="0" rx="12.5" ry="15.8" fill="url(#bg0_0)" style="mix-blend-mode:darken" transform="translate(464.6,825.2) rotate(0)"/><ellipse cx="0" cy="0" rx="17.2" ry="11.2" fill="url(#bg0_0)" style="mix-blend-mode:darken" transform="translate(189.6,879.4) rotate(35)"/><ellipse cx="0" cy="0" rx="13.2" ry="11.9" fill="url(#bg0_0)" style="mix-blend-mode:darken" transform="translate(303.4,876.6) rotate(0)"/><ellipse cx="0" cy="0" rx="11.2" ry="16.5" fill="url(#bg0_0)" style="mix-blend-mode:darken" transform="translate(409.4,875.6) rotate(10)"/><ellipse cx="0" cy="0" rx="15.8" ry="11.2" fill="url(#bg0_0)" style="mix-blend-mode:darken" transform="translate(518.4,879.4) rotate(0)"/><ellipse cx="0" cy="0" rx="11.2" ry="11.9" fill="url(#bg0_0)" style="mix-blend-mode:darken" transform="translate(137.8,927.4) rotate(0)"/><ellipse cx="0" cy="0" rx="11.9" ry="13.2" fill="url(#bg0_0)" style="mix-blend-mode:darken" transform="translate(244.8,928.4) rotate(10)"/><ellipse cx="0" cy="0" rx="14.5" ry="13.2" fill="url(#bg0_0)" style="mix-blend-mode:darken" transform="translate(361.0,932.2) rotate(20)"/><ellipse cx="0" cy="0" rx="12.5" ry="12.5" fill="url(#bg0_0)" style="mix-blend-mode:darken" transform="translate(464.6,929.8) rotate(0)"/><ellipse cx="0" cy="0" rx="12.5" ry="13.2" fill="url(#bg0_0)" style="mix-blend-mode:darken" transform="translate(190.6,978.8) rotate(0)"/><ellipse cx="0" cy="0" rx="13.2" ry="11.2" fill="url(#bg0_0)" style="mix-blend-mode:darken" transform="translate(301.0,979.8) rotate(0)"/><ellipse cx="0" cy="0" rx="12.5" ry="12.5" fill="url(#bg0_0)" style="mix-blend-mode:darken" transform="translate(412.8,977.4) rotate(0)"/><ellipse cx="0" cy="0" rx="9.9" ry="7.9" fill="url(#bg0_1)" style="mix-blend-mode:darken" transform="translate(405.6,991.8) rotate(-30)"/><ellipse cx="0" cy="0" rx="13.2" ry="11.9" fill="url(#bg0_0)" style="mix-blend-mode:darken" transform="translate(520.8,977.8) rotate(10)"/><ellipse cx="0" cy="0" rx="13.2" ry="11.2" fill="url(#bg0_0)" style="mix-blend-mode:darken" transform="translate(135.8,1032.6) rotate(0)"/><ellipse cx="0" cy="0" rx="10.6" ry="11.2" fill="url(#bg0_0)" style="mix-blend-mode:darken" transform="translate(245.8,1035.0) rotate(0)"/><ellipse cx="0" cy="0" rx="15.8" ry="11.2" fill="url(#bg0_0)" style="mix-blend-mode:darken" transform="translate(356.2,1032.6) rotate(0)"/><ellipse cx="0" cy="0" rx="17.2" ry="11.2" fill="url(#bg0_0)" style="mix-blend-mode:darken" transform="translate(465.6,1030.6) rotate(5)"/><ellipse cx="0" cy="0" rx="14.5" ry="11.2" fill="url(#bg0_0)" style="mix-blend-mode:darken" transform="translate(184.8,1085.8) rotate(-30)"/><ellipse cx="0" cy="0" rx="13.2" ry="13.2" fill="url(#bg0_0)" style="mix-blend-mode:darken" transform="translate(303.4,1083.4) rotate(20)"/><ellipse cx="0" cy="0" rx="12.5" ry="11.9" fill="url(#bg0_0)" style="mix-blend-mode:darken" transform="translate(411.4,1085.8) rotate(0)"/><ellipse cx="0" cy="0" rx="14.5" ry="11.2" fill="url(#bg0_0)" style="mix-blend-mode:darken" transform="translate(519.8,1085.4) rotate(0)"/><ellipse cx="0" cy="0" rx="13.2" ry="11.9" fill="url(#bg0_0)" style="mix-blend-mode:darken" transform="translate(138.2,1136.7) rotate(0)"/><ellipse cx="0" cy="0" rx="13.2" ry="11.2" fill="url(#bg0_2)" style="mix-blend-mode:darken" transform="translate(125.8,1138.6) rotate(0)"/><ellipse cx="0" cy="0" rx="11.9" ry="12.5" fill="url(#bg0_0)" style="mix-blend-mode:darken" transform="translate(246.2,1138.6) rotate(0)"/><ellipse cx="0" cy="0" rx="13.2" ry="10.6" fill="url(#bg0_0)" style="mix-blend-mode:darken" transform="translate(354.2,1138.6) rotate(0)"/><ellipse cx="0" cy="0" rx="15.2" ry="11.2" fill="url(#bg0_0)" style="mix-blend-mode:darken" transform="translate(464.6,1138.2) rotate(35)"/></g></g>
<line x1="116.40" y1="741.80" x2="552.50" y2="741.80" stroke="#000" stroke-width="1.2"/>
<line x1="116.40" y1="741.80" x2="116.40" y2="1158.90" stroke="#cfcfcf" stroke-width="1.2"/>
<line x1="552.50" y1="741.80" x2="552.50" y2="1158.90" stroke="#000" stroke-width="1.2"/>
<line x1="115.80" y1="1158.90" x2="553.10" y2="1158.90" stroke="#000" stroke-width="1.2"/>
<line x1="203.62" y1="1158.90" x2="203.62" y2="1154.30" stroke="#000" stroke-width="1.0"/>
<line x1="116.40" y1="1075.48" x2="121.00" y2="1075.48" stroke="#000" stroke-width="1.0"/>
<line x1="290.84" y1="1158.90" x2="290.84" y2="1154.30" stroke="#000" stroke-width="1.0"/>
<line x1="116.40" y1="992.06" x2="121.00" y2="992.06" stroke="#000" stroke-width="1.0"/>
<line x1="378.06" y1="1158.90" x2="378.06" y2="1154.30" stroke="#000" stroke-width="1.0"/>
<line x1="116.40" y1="908.64" x2="121.00" y2="908.64" stroke="#000" stroke-width="1.0"/>
<line x1="465.28" y1="1158.90" x2="465.28" y2="1154.30" stroke="#000" stroke-width="1.0"/>
<line x1="116.40" y1="825.22" x2="121.00" y2="825.22" stroke="#000" stroke-width="1.0"/>
<rect x="579.4" y="741.8" width="21.2" height="417.1" fill="url(#cbc)"/>
<rect x="579.4" y="1157.1" width="21.2" height="1.8" fill="#fff"/>
<rect x="579.4" y="741.8" width="21.2" height="417.1" fill="none" stroke="#000" stroke-width="1.2"/>
<line x1="600.60" y1="1158.00" x2="605.00" y2="1158.00" stroke="#000" stroke-width="1.0"/>
<line x1="600.60" y1="1109.16" x2="603.20" y2="1109.16" stroke="#000" stroke-width="0.9"/>
<line x1="600.60" y1="1080.59" x2="603.20" y2="1080.59" stroke="#000" stroke-width="0.9"/>
<line x1="600.60" y1="1060.32" x2="603.20" y2="1060.32" stroke="#000" stroke-width="0.9"/>
<line x1="600.60" y1="1044.59" x2="603.20" y2="1044.59" stroke="#000" stroke-width="0.9"/>
<line x1="600.60" y1="1031.74" x2="603.20" y2="1031.74" stroke="#000" stroke-width="0.9"/>
<line x1="600.60" y1="1020.88" x2="603.20" y2="1020.88" stroke="#000" stroke-width="0.9"/>
<line x1="600.60" y1="1011.47" x2="603.20" y2="1011.47" stroke="#000" stroke-width="0.9"/>
<line x1="600.60" y1="1003.17" x2="603.20" y2="1003.17" stroke="#000" stroke-width="0.9"/>
<line x1="600.60" y1="995.75" x2="605.00" y2="995.75" stroke="#000" stroke-width="1.0"/>
<line x1="600.60" y1="946.91" x2="603.20" y2="946.91" stroke="#000" stroke-width="0.9"/>
<line x1="600.60" y1="918.34" x2="603.20" y2="918.34" stroke="#000" stroke-width="0.9"/>
<line x1="600.60" y1="898.07" x2="603.20" y2="898.07" stroke="#000" stroke-width="0.9"/>
<line x1="600.60" y1="882.34" x2="603.20" y2="882.34" stroke="#000" stroke-width="0.9"/>
<line x1="600.60" y1="869.49" x2="603.20" y2="869.49" stroke="#000" stroke-width="0.9"/>
<line x1="600.60" y1="858.63" x2="603.20" y2="858.63" stroke="#000" stroke-width="0.9"/>
<line x1="600.60" y1="849.22" x2="603.20" y2="849.22" stroke="#000" stroke-width="0.9"/>
<line x1="600.60" y1="840.92" x2="603.20" y2="840.92" stroke="#000" stroke-width="0.9"/>
<line x1="600.60" y1="833.50" x2="605.00" y2="833.50" stroke="#000" stroke-width="1.0"/>
<line x1="600.60" y1="784.66" x2="603.20" y2="784.66" stroke="#000" stroke-width="0.9"/>
<line x1="600.60" y1="756.09" x2="603.20" y2="756.09" stroke="#000" stroke-width="0.9"/>
<g clip-path="url(#cclip1)"><g filter="url(#jetmap1)"><rect x="752.6" y="736.8" width="446.9" height="427.1" fill="#fff"/><ellipse cx="0" cy="0" rx="16.6" ry="17.4" fill="url(#bg1_0)" style="mix-blend-mode:darken" transform="translate(827.6,773.4) rotate(30)"/><ellipse cx="0" cy="0" rx="16.6" ry="16.6" fill="url(#bg1_0)" style="mix-blend-mode:darken" transform="translate(946.6,775.8) rotate(0)"/><ellipse cx="0" cy="0" rx="16.6" ry="16.6" fill="url(#bg1_0)" style="mix-blend-mode:darken" transform="translate(1050.8,773.8) rotate(0)"/><ellipse cx="0" cy="0" rx="17.4" ry="16.6" fill="url(#bg1_0)" style="mix-blend-mode:darken" transform="translate(1162.6,772.4) rotate(-20)"/><ellipse cx="0" cy="0" rx="17.4" ry="15.7" fill="url(#bg1_0)" style="mix-blend-mode:darken" transform="translate(777.2,827.6) rotate(10)"/><ellipse cx="0" cy="0" rx="16.6" ry="16.6" fill="url(#bg1_0)" style="mix-blend-mode:darken" transform="translate(885.2,824.2) rotate(-20)"/><ellipse cx="0" cy="0" rx="17.4" ry="15.7" fill="url(#bg1_0)" style="mix-blend-mode:darken" transform="translate(999.4,824.2) rotate(10)"/><ellipse cx="0" cy="0" rx="18.2" ry="16.6" fill="url(#bg1_0)" style="mix-blend-mode:darken" transform="translate(1107.4,826.2) rotate(0)"/><ellipse cx="0" cy="0" rx="17.4" ry="15.7" fill="url(#bg1_0)" style="mix-blend-mode:darken" transform="translate(831.0,879.0) rotate(0)"/><ellipse cx="0" cy="0" rx="17.4" ry="14.9" fill="url(#bg1_0)" style="mix-blend-mode:darken" transform="translate(944.2,877.0) rotate(0)"/><ellipse cx="0" cy="0" rx="16.6" ry="17.4" fill="url(#bg1_0)" style="mix-blend-mode:darken" transform="translate(1052.2,875.6) rotate(0)"/><ellipse cx="0" cy="0" rx="17.4" ry="15.7" fill="url(#bg1_0)" style="mix-blend-mode:darken" transform="translate(1162.2,879.0) rotate(0)"/><ellipse cx="0" cy="0" rx="16.6" ry="16.6" fill="url(#bg1_0)" style="mix-blend-mode:darken" transform="translate(777.2,929.4) rotate(0)"/><ellipse cx="0" cy="0" rx="15.7" ry="16.6" fill="url(#bg1_0)" style="mix-blend-mode:darken" transform="translate(885.2,929.4) rotate(0)"/><ellipse cx="0" cy="0" rx="18.2" ry="16.6" fill="url(#bg1_0)" style="mix-blend-mode:darken" transform="translate(1001.8,931.8) rotate(0)"/><ellipse cx="0" cy="0" rx="15.7" ry="14.9" fill="url(#bg1_0)" style="mix-blend-mode:darken" transform="translate(1106.0,929.8) rotate(0)"/><ellipse cx="0" cy="0" rx="16.6" ry="16.6" fill="url(#bg1_0)" style="mix-blend-mode:darken" transform="translate(831.4,979.8) rotate(0)"/><ellipse cx="0" cy="0" rx="15.7" ry="15.7" fill="url(#bg1_0)" style="mix-blend-mode:darken" transform="translate(942.8,980.2) rotate(0)"/><ellipse cx="0" cy="0" rx="16.6" ry="17.4" fill="url(#bg1_0)" style="mix-blend-mode:darken" transform="translate(1054.2,978.3) rotate(-30)"/><ellipse cx="0" cy="0" rx="14.1" ry="10.8" fill="url(#bg1_1)" style="mix-blend-mode:darken" transform="translate(1044.6,991.8) rotate(-30)"/><ellipse cx="0" cy="0" rx="16.6" ry="15.7" fill="url(#bg1_0)" style="mix-blend-mode:darken" transform="translate(1162.2,978.8) rotate(0)"/><ellipse cx="0" cy="0" rx="15.7" ry="15.7" fill="url(#bg1_0)" style="mix-blend-mode:darken" transform="translate(776.2,1033.0) rotate(0)"/><ellipse cx="0" cy="0" rx="15.7" ry="14.9" fill="url(#bg1_0)" style="mix-blend-mode:darken" transform="translate(886.2,1035.0) rotate(0)"/><ellipse cx="0" cy="0" rx="18.2" ry="14.9" fill="url(#bg1_0)" style="mix-blend-mode:darken" transform="translate(998.0,1033.0) rotate(0)"/><ellipse cx="0" cy="0" rx="19.0" ry="15.7" fill="url(#bg1_0)" style="mix-blend-mode:darken" transform="translate(1107.4,1031.6) rotate(0)"/><ellipse cx="0" cy="0" rx="16.6" ry="14.9" fill="url(#bg1_0)" style="mix-blend-mode:darken" transform="translate(827.6,1086.8) rotate(-25)"/><ellipse cx="0" cy="0" rx="16.6" ry="16.6" fill="url(#bg1_0)" style="mix-blend-mode:darken" transform="translate(945.2,1084.4) rotate(20)"/><ellipse cx="0" cy="0" rx="16.6" ry="14.9" fill="url(#bg1_0)" style="mix-blend-mode:darken" transform="translate(1053.2,1086.8) rotate(0)"/><ellipse cx="0" cy="0" rx="16.6" ry="14.9" fill="url(#bg1_0)" style="mix-blend-mode:darken" transform="translate(1161.2,1085.8) rotate(0)"/><ellipse cx="0" cy="0" rx="20.7" ry="15.7" fill="url(#bg1_0)" style="mix-blend-mode:darken" transform="translate(773.8,1137.2) rotate(0)"/><ellipse cx="0" cy="0" rx="15.7" ry="14.9" fill="url(#bg1_0)" style="mix-blend-mode:darken" transform="translate(888.6,1138.6) rotate(0)"/><ellipse cx="0" cy="0" rx="15.7" ry="14.9" fill="url(#bg1_0)" style="mix-blend-mode:darken" transform="translate(996.6,1138.6) rotate(0)"/><ellipse cx="0" cy="0" rx="17.4" ry="17.4" fill="url(#bg1_0)" style="mix-blend-mode:darken" transform="translate(1106.0,1138.6) rotate(20)"/><ellipse cx="0" cy="0" rx="5.0" ry="6.6" fill="url(#bg1_2)" style="mix-blend-mode:darken" transform="translate(1196.2,1135.8) rotate(0)"/></g></g>
<line x1="757.60" y1="741.80" x2="1194.50" y2="741.80" stroke="#cfcfcf" stroke-width="1.2"/>
<line x1="757.60" y1="741.80" x2="757.60" y2="1158.90" stroke="#000" stroke-width="1.2"/>
<line x1="1194.50" y1="741.80" x2="1194.50" y2="1158.90" stroke="#000" stroke-width="1.2"/>
<line x1="757.00" y1="1158.90" x2="1195.10" y2="1158.90" stroke="#000" stroke-width="1.2"/>
<line x1="844.98" y1="1158.90" x2="844.98" y2="1154.30" stroke="#000" stroke-width="1.0"/>
<line x1="757.60" y1="1075.48" x2="762.20" y2="1075.48" stroke="#000" stroke-width="1.0"/>
<line x1="932.36" y1="1158.90" x2="932.36" y2="1154.30" stroke="#000" stroke-width="1.0"/>
<line x1="757.60" y1="992.06" x2="762.20" y2="992.06" stroke="#000" stroke-width="1.0"/>
<line x1="1019.74" y1="1158.90" x2="1019.74" y2="1154.30" stroke="#000" stroke-width="1.0"/>
<line x1="757.60" y1="908.64" x2="762.20" y2="908.64" stroke="#000" stroke-width="1.0"/>
<line x1="1107.12" y1="1158.90" x2="1107.12" y2="1154.30" stroke="#000" stroke-width="1.0"/>
<line x1="757.60" y1="825.22" x2="762.20" y2="825.22" stroke="#000" stroke-width="1.0"/>
<rect x="1221.4" y="741.8" width="21.2" height="417.1" fill="url(#cbc)"/>
<rect x="1221.4" y="1157.1" width="21.2" height="1.8" fill="#fff"/>
<rect x="1221.4" y="741.8" width="21.2" height="417.1" fill="none" stroke="#000" stroke-width="1.2"/>
<line x1="1242.60" y1="1157.80" x2="1247.00" y2="1157.80" stroke="#000" stroke-width="1.0"/>
<line x1="1242.60" y1="1100.30" x2="1245.20" y2="1100.30" stroke="#000" stroke-width="0.9"/>
<line x1="1242.60" y1="1066.67" x2="1245.20" y2="1066.67" stroke="#000" stroke-width="0.9"/>
<line x1="1242.60" y1="1042.81" x2="1245.20" y2="1042.81" stroke="#000" stroke-width="0.9"/>
<line x1="1242.60" y1="1024.30" x2="1245.20" y2="1024.30" stroke="#000" stroke-width="0.9"/>
<line x1="1242.60" y1="1009.17" x2="1245.20" y2="1009.17" stroke="#000" stroke-width="0.9"/>
<line x1="1242.60" y1="996.39" x2="1245.20" y2="996.39" stroke="#000" stroke-width="0.9"/>
<line x1="1242.60" y1="985.31" x2="1245.20" y2="985.31" stroke="#000" stroke-width="0.9"/>
<line x1="1242.60" y1="975.54" x2="1245.20" y2="975.54" stroke="#000" stroke-width="0.9"/>
<line x1="1242.60" y1="966.80" x2="1247.00" y2="966.80" stroke="#000" stroke-width="1.0"/>
<line x1="1242.60" y1="909.30" x2="1245.20" y2="909.30" stroke="#000" stroke-width="0.9"/>
<line x1="1242.60" y1="875.67" x2="1245.20" y2="875.67" stroke="#000" stroke-width="0.9"/>
<line x1="1242.60" y1="851.81" x2="1245.20" y2="851.81" stroke="#000" stroke-width="0.9"/>
<line x1="1242.60" y1="833.30" x2="1245.20" y2="833.30" stroke="#000" stroke-width="0.9"/>
<line x1="1242.60" y1="818.17" x2="1245.20" y2="818.17" stroke="#000" stroke-width="0.9"/>
<line x1="1242.60" y1="805.39" x2="1245.20" y2="805.39" stroke="#000" stroke-width="0.9"/>
<line x1="1242.60" y1="794.31" x2="1245.20" y2="794.31" stroke="#000" stroke-width="0.9"/>
<line x1="1242.60" y1="784.54" x2="1245.20" y2="784.54" stroke="#000" stroke-width="0.9"/>
<line x1="1242.60" y1="775.80" x2="1247.00" y2="775.80" stroke="#000" stroke-width="1.0"/>
<g clip-path="url(#cclip2)"><g filter="url(#jetmap2)"><rect x="1397.6" y="736.8" width="446.9" height="427.1" fill="#fff"/><ellipse cx="0" cy="0" rx="19.8" ry="19.8" fill="url(#bg2_0)" style="mix-blend-mode:darken" transform="translate(1472.6,773.8) rotate(0)"/><ellipse cx="0" cy="0" rx="19.8" ry="18.8" fill="url(#bg2_0)" style="mix-blend-mode:darken" transform="translate(1591.2,775.8) rotate(0)"/><ellipse cx="0" cy="0" rx="19.8" ry="19.8" fill="url(#bg2_0)" style="mix-blend-mode:darken" transform="translate(1696.8,773.8) rotate(0)"/><ellipse cx="0" cy="0" rx="20.8" ry="19.8" fill="url(#bg2_0)" style="mix-blend-mode:darken" transform="translate(1807.2,772.4) rotate(0)"/><ellipse cx="0" cy="0" rx="19.8" ry="18.8" fill="url(#bg2_0)" style="mix-blend-mode:darken" transform="translate(1422.2,827.6) rotate(20)"/><ellipse cx="0" cy="0" rx="18.8" ry="19.8" fill="url(#bg2_0)" style="mix-blend-mode:darken" transform="translate(1531.2,824.2) rotate(0)"/><ellipse cx="0" cy="0" rx="20.8" ry="17.8" fill="url(#bg2_0)" style="mix-blend-mode:darken" transform="translate(1645.0,822.8) rotate(0)"/><ellipse cx="0" cy="0" rx="19.8" ry="19.8" fill="url(#bg2_0)" style="mix-blend-mode:darken" transform="translate(1752.0,826.2) rotate(0)"/><ellipse cx="0" cy="0" rx="19.8" ry="18.8" fill="url(#bg2_0)" style="mix-blend-mode:darken" transform="translate(1476.0,879.0) rotate(0)"/><ellipse cx="0" cy="0" rx="19.8" ry="17.8" fill="url(#bg2_0)" style="mix-blend-mode:darken" transform="translate(1589.8,877.0) rotate(0)"/><ellipse cx="0" cy="0" rx="18.8" ry="20.8" fill="url(#bg2_0)" style="mix-blend-mode:darken" transform="translate(1696.8,876.6) rotate(0)"/><ellipse cx="0" cy="0" rx="21.8" ry="18.8" fill="url(#bg2_0)" style="mix-blend-mode:darken" transform="translate(1806.2,879.0) rotate(0)"/><ellipse cx="0" cy="0" rx="17.8" ry="18.8" fill="url(#bg2_0)" style="mix-blend-mode:darken" transform="translate(1423.2,928.4) rotate(0)"/><ellipse cx="0" cy="0" rx="20.8" ry="18.8" fill="url(#bg2_0)" style="mix-blend-mode:darken" transform="translate(1530.2,928.4) rotate(0)"/><ellipse cx="0" cy="0" rx="20.8" ry="19.8" fill="url(#bg2_0)" style="mix-blend-mode:darken" transform="translate(1646.4,930.8) rotate(0)"/><ellipse cx="0" cy="0" rx="17.8" ry="17.8" fill="url(#bg2_0)" style="mix-blend-mode:darken" transform="translate(1751.0,929.4) rotate(0)"/><ellipse cx="0" cy="0" rx="18.8" ry="17.8" fill="url(#bg2_0)" style="mix-blend-mode:darken" transform="translate(1476.0,979.8) rotate(0)"/><ellipse cx="0" cy="0" rx="19.8" ry="19.8" fill="url(#bg2_0)" style="mix-blend-mode:darken" transform="translate(1587.4,980.2) rotate(0)"/><ellipse cx="0" cy="0" rx="20.8" ry="20.8" fill="url(#bg2_0)" style="mix-blend-mode:darken" transform="translate(1699.7,979.3) rotate(-30)"/><ellipse cx="0" cy="0" rx="17.8" ry="15.8" fill="url(#bg2_1)" style="mix-blend-mode:darken" transform="translate(1691.0,989.8) rotate(-30)"/><ellipse cx="0" cy="0" rx="18.8" ry="18.8" fill="url(#bg2_0)" style="mix-blend-mode:darken" transform="translate(1807.2,978.8) rotate(0)"/><ellipse cx="0" cy="0" rx="18.8" ry="17.8" fill="url(#bg2_0)" style="mix-blend-mode:darken" transform="translate(1421.8,1033.0) rotate(0)"/><ellipse cx="0" cy="0" rx="19.8" ry="18.8" fill="url(#bg2_0)" style="mix-blend-mode:darken" transform="translate(1532.2,1035.0) rotate(0)"/><ellipse cx="0" cy="0" rx="19.8" ry="19.8" fill="url(#bg2_0)" style="mix-blend-mode:darken" transform="translate(1643.0,1032.6) rotate(0)"/><ellipse cx="0" cy="0" rx="21.8" ry="19.8" fill="url(#bg2_0)" style="mix-blend-mode:darken" transform="translate(1753.0,1031.6) rotate(0)"/><ellipse cx="0" cy="0" rx="20.8" ry="18.8" fill="url(#bg2_0)" style="mix-blend-mode:darken" transform="translate(1472.6,1085.8) rotate(0)"/><ellipse cx="0" cy="0" rx="19.8" ry="19.8" fill="url(#bg2_0)" style="mix-blend-mode:darken" transform="translate(1589.8,1084.4) rotate(0)"/><ellipse cx="0" cy="0" rx="20.8" ry="17.8" fill="url(#bg2_0)" style="mix-blend-mode:darken" transform="translate(1697.8,1086.8) rotate(0)"/><ellipse cx="0" cy="0" rx="19.8" ry="19.8" fill="url(#bg2_0)" style="mix-blend-mode:darken" transform="translate(1806.2,1085.8) rotate(0)"/><ellipse cx="0" cy="0" rx="20.8" ry="18.8" fill="url(#bg2_0)" style="mix-blend-mode:darken" transform="translate(1419.8,1137.2) rotate(0)"/><ellipse cx="0" cy="0" rx="18.8" ry="19.8" fill="url(#bg2_0)" style="mix-blend-mode:darken" transform="translate(1533.6,1138.6) rotate(0)"/><ellipse cx="0" cy="0" rx="19.8" ry="17.8" fill="url(#bg2_0)" style="mix-blend-mode:darken" transform="translate(1641.6,1138.6) rotate(0)"/><ellipse cx="0" cy="0" rx="19.8" ry="19.8" fill="url(#bg2_0)" style="mix-blend-mode:darken" transform="translate(1751.0,1138.6) rotate(0)"/><ellipse cx="0" cy="0" rx="5.9" ry="8.9" fill="url(#bg2_2)" style="mix-blend-mode:darken" transform="translate(1840.8,1137.2) rotate(0)"/></g></g>
<line x1="1402.60" y1="741.80" x2="1839.50" y2="741.80" stroke="#cfcfcf" stroke-width="1.2"/>
<line x1="1402.60" y1="741.80" x2="1402.60" y2="1158.90" stroke="#000" stroke-width="1.2"/>
<line x1="1839.50" y1="741.80" x2="1839.50" y2="1158.90" stroke="#000" stroke-width="1.2"/>
<line x1="1402.00" y1="1158.90" x2="1840.10" y2="1158.90" stroke="#000" stroke-width="1.2"/>
<line x1="1489.98" y1="1158.90" x2="1489.98" y2="1154.30" stroke="#000" stroke-width="1.0"/>
<line x1="1402.60" y1="1075.48" x2="1407.20" y2="1075.48" stroke="#000" stroke-width="1.0"/>
<line x1="1577.36" y1="1158.90" x2="1577.36" y2="1154.30" stroke="#000" stroke-width="1.0"/>
<line x1="1402.60" y1="992.06" x2="1407.20" y2="992.06" stroke="#000" stroke-width="1.0"/>
<line x1="1664.74" y1="1158.90" x2="1664.74" y2="1154.30" stroke="#000" stroke-width="1.0"/>
<line x1="1402.60" y1="908.64" x2="1407.20" y2="908.64" stroke="#000" stroke-width="1.0"/>
<line x1="1752.12" y1="1158.90" x2="1752.12" y2="1154.30" stroke="#000" stroke-width="1.0"/>
<line x1="1402.60" y1="825.22" x2="1407.20" y2="825.22" stroke="#000" stroke-width="1.0"/>
<rect x="1866.4" y="741.8" width="21.4" height="417.1" fill="url(#cbc)"/>
<rect x="1866.4" y="1157.1" width="21.4" height="1.8" fill="#fff"/>
<rect x="1866.4" y="741.8" width="21.4" height="417.1" fill="none" stroke="#000" stroke-width="1.2"/>
<line x1="1887.80" y1="1158.30" x2="1892.20" y2="1158.30" stroke="#000" stroke-width="1.0"/>
<line x1="1887.80" y1="1099.00" x2="1890.40" y2="1099.00" stroke="#000" stroke-width="0.9"/>
<line x1="1887.80" y1="1064.31" x2="1890.40" y2="1064.31" stroke="#000" stroke-width="0.9"/>
<line x1="1887.80" y1="1039.69" x2="1890.40" y2="1039.69" stroke="#000" stroke-width="0.9"/>
<line x1="1887.80" y1="1020.60" x2="1890.40" y2="1020.60" stroke="#000" stroke-width="0.9"/>
<line x1="1887.80" y1="1005.00" x2="1890.40" y2="1005.00" stroke="#000" stroke-width="0.9"/>
<line x1="1887.80" y1="991.82" x2="1890.40" y2="991.82" stroke="#000" stroke-width="0.9"/>
<line x1="1887.80" y1="980.39" x2="1890.40" y2="980.39" stroke="#000" stroke-width="0.9"/>
<line x1="1887.80" y1="970.31" x2="1890.40" y2="970.31" stroke="#000" stroke-width="0.9"/>
<line x1="1887.80" y1="961.30" x2="1892.20" y2="961.30" stroke="#000" stroke-width="1.0"/>
<line x1="1887.80" y1="902.00" x2="1890.40" y2="902.00" stroke="#000" stroke-width="0.9"/>
<line x1="1887.80" y1="867.31" x2="1890.40" y2="867.31" stroke="#000" stroke-width="0.9"/>
<line x1="1887.80" y1="842.69" x2="1890.40" y2="842.69" stroke="#000" stroke-width="0.9"/>
<line x1="1887.80" y1="823.60" x2="1890.40" y2="823.60" stroke="#000" stroke-width="0.9"/>
<line x1="1887.80" y1="808.00" x2="1890.40" y2="808.00" stroke="#000" stroke-width="0.9"/>
<line x1="1887.80" y1="794.82" x2="1890.40" y2="794.82" stroke="#000" stroke-width="0.9"/>
<line x1="1887.80" y1="783.39" x2="1890.40" y2="783.39" stroke="#000" stroke-width="0.9"/>
<line x1="1887.80" y1="773.31" x2="1890.40" y2="773.31" stroke="#000" stroke-width="0.9"/>
<line x1="1887.80" y1="764.30" x2="1892.20" y2="764.30" stroke="#000" stroke-width="1.0"/>
<g filter="url(#tsoft)">
<text x="14.30" y="66.60" font-family='"Liberation Sans", sans-serif' font-size="53.5" fill="#000" textLength="65.50" lengthAdjust="spacingAndGlyphs" stroke="#000" stroke-width="0.4">(a)</text>
<text x="611.50" y="587.60" font-family='"Liberation Sans", sans-serif' font-size="23.5" fill="#000" textLength="30.50" lengthAdjust="spacingAndGlyphs" stroke="#000" stroke-width="0.4">0.0</text>
<text x="611.50" y="494.46" font-family='"Liberation Sans", sans-serif' font-size="23.5" fill="#000" textLength="30.50" lengthAdjust="spacingAndGlyphs" stroke="#000" stroke-width="0.4">0.2</text>
<text x="611.50" y="401.32" font-family='"Liberation Sans", sans-serif' font-size="23.5" fill="#000" textLength="30.50" lengthAdjust="spacingAndGlyphs" stroke="#000" stroke-width="0.4">0.4</text>
<text x="611.50" y="308.18" font-family='"Liberation Sans", sans-serif' font-size="23.5" fill="#000" textLength="30.50" lengthAdjust="spacingAndGlyphs" stroke="#000" stroke-width="0.4">0.6</text>
<text x="611.50" y="215.04" font-family='"Liberation Sans", sans-serif' font-size="23.5" fill="#000" textLength="30.50" lengthAdjust="spacingAndGlyphs" stroke="#000" stroke-width="0.4">0.8</text>
<text x="611.50" y="121.90" font-family='"Liberation Sans", sans-serif' font-size="23.5" fill="#000" textLength="30.50" lengthAdjust="spacingAndGlyphs" stroke="#000" stroke-width="0.4">1.0</text>
<g transform="translate(577,82.6)"><text font-family='"Liberation Serif", serif' font-style="italic" font-size="29.5" x="0" y="0">e</text><line x1="13.6" y1="2.3" x2="25.6" y2="-23.2" stroke="#000" stroke-width="1.2"/><text font-family='"Liberation Serif", serif' font-size="29.5" x="0" y="0" transform="translate(23.6,0) scale(0.66,1)">Å</text><text font-family='"Liberation Serif", serif' font-size="22" x="0" y="0" transform="translate(45.3,-10.6) scale(0.85,1)">3</text></g>
<text x="190.30" y="639.00" font-family='"Liberation Sans", sans-serif' font-size="29" fill="#000" textLength="63.50" lengthAdjust="spacingAndGlyphs" stroke="#000" stroke-width="0.4">[001]</text>
<text x="88.70" y="536.60" font-family='"Liberation Sans", sans-serif' font-size="29" fill="#000" textLength="61.00" lengthAdjust="spacingAndGlyphs" transform="rotate(-90 88.70 536.60)" stroke="#000" stroke-width="0.4">[110]</text>
<text x="861.00" y="394.20" font-family='"Liberation Sans", sans-serif' font-size="24" fill="#8c1a10" font-weight="bold" textLength="56.00" lengthAdjust="spacingAndGlyphs" stroke="#8c1a10" stroke-width="0.4">2 NN</text>
<text font-family='"Liberation Sans", sans-serif' font-size="24" font-weight="bold" fill="#8c1a10" textLength="55" lengthAdjust="spacingAndGlyphs" transform="translate(840.3,343.2) rotate(-55.5)">1 NN</text>
<text x="1186.00" y="549.90" font-family='"Liberation Sans", sans-serif' font-size="26.2" fill="#000" textLength="34.50" lengthAdjust="spacingAndGlyphs" stroke="#000" stroke-width="0.4">Nb</text>
<text x="1188.80" y="593.00" font-family='"Liberation Sans", sans-serif' font-size="26.2" fill="#000" textLength="27.50" lengthAdjust="spacingAndGlyphs" stroke="#000" stroke-width="0.4">Zr</text>
<text x="1189.80" y="637.60" font-family='"Liberation Sans", sans-serif' font-size="26.2" fill="#000" textLength="22.50" lengthAdjust="spacingAndGlyphs" stroke="#000" stroke-width="0.4">Ti</text>
<text x="1208.50" y="66.90" font-family='"Liberation Sans", sans-serif' font-size="53.5" fill="#000" textLength="66.00" lengthAdjust="spacingAndGlyphs" stroke="#000" stroke-width="0.4">(b)</text>
<text x="1346.80" y="68.00" font-family='"Liberation Sans", sans-serif' font-size="22.6" fill="#000" textLength="24.20" lengthAdjust="spacingAndGlyphs" stroke="#000" stroke-width="0.4">10</text>
<text x="1359.50" y="150.84" font-family='"Liberation Sans", sans-serif' font-size="22.6" fill="#000" textLength="11.50" lengthAdjust="spacingAndGlyphs" stroke="#000" stroke-width="0.4">8</text>
<text x="1359.50" y="233.68" font-family='"Liberation Sans", sans-serif' font-size="22.6" fill="#000" textLength="11.50" lengthAdjust="spacingAndGlyphs" stroke="#000" stroke-width="0.4">6</text>
<text x="1359.50" y="316.52" font-family='"Liberation Sans", sans-serif' font-size="22.6" fill="#000" textLength="11.50" lengthAdjust="spacingAndGlyphs" stroke="#000" stroke-width="0.4">4</text>
<text x="1359.50" y="399.36" font-family='"Liberation Sans", sans-serif' font-size="22.6" fill="#000" textLength="11.50" lengthAdjust="spacingAndGlyphs" stroke="#000" stroke-width="0.4">2</text>
<text x="1359.50" y="482.20" font-family='"Liberation Sans", sans-serif' font-size="22.6" fill="#000" textLength="11.50" lengthAdjust="spacingAndGlyphs" stroke="#000" stroke-width="0.4">0</text>
<text x="1347.00" y="564.54" font-family='"Liberation Sans", sans-serif' font-size="22.6" fill="#000" textLength="24.00" lengthAdjust="spacingAndGlyphs" stroke="#000" stroke-width="0.4">−2</text>
<text x="1386.20" y="611.20" font-family='"Liberation Sans", sans-serif' font-size="28.6" fill="#000" text-anchor="middle" stroke="#000" stroke-width="0.4">Γ</text>
<text x="1487.60" y="611.20" font-family='"Liberation Sans", sans-serif' font-size="28.6" fill="#000" text-anchor="middle" stroke="#000" stroke-width="0.4">H</text>
<text x="1559.50" y="611.20" font-family='"Liberation Sans", sans-serif' font-size="28.6" fill="#000" text-anchor="middle" stroke="#000" stroke-width="0.4">N</text>
<text x="1633.90" y="611.20" font-family='"Liberation Sans", sans-serif' font-size="28.6" fill="#000" text-anchor="middle" stroke="#000" stroke-width="0.4">Γ</text>
<text x="1721.40" y="611.20" font-family='"Liberation Sans", sans-serif' font-size="28.6" fill="#000" text-anchor="middle" stroke="#000" stroke-width="0.4">P</text>
<text x="1809.60" y="611.20" font-family='"Liberation Sans", sans-serif' font-size="28.6" fill="#000" text-anchor="middle" stroke="#000" stroke-width="0.4">H</text>
<text x="1329.00" y="440.60" font-family='"Liberation Sans", sans-serif' font-size="30" fill="#000" textLength="240.00" lengthAdjust="spacingAndGlyphs" transform="rotate(-90 1329.00 440.60)" stroke="#000" stroke-width="0.15">Frequency (THz)</text>
<text x="1875.60" y="584.50" font-family='"Liberation Sans", sans-serif' font-size="19" fill="#000" textLength="29.50" lengthAdjust="spacingAndGlyphs" stroke="#000" stroke-width="0.4">0.0</text>
<text x="1875.60" y="474.40" font-family='"Liberation Sans", sans-serif' font-size="19" fill="#000" textLength="29.50" lengthAdjust="spacingAndGlyphs" stroke="#000" stroke-width="0.4">0.5</text>
<text x="1875.60" y="364.30" font-family='"Liberation Sans", sans-serif' font-size="19" fill="#000" textLength="29.50" lengthAdjust="spacingAndGlyphs" stroke="#000" stroke-width="0.4">1.0</text>
<text x="1875.60" y="254.20" font-family='"Liberation Sans", sans-serif' font-size="19" fill="#000" textLength="29.50" lengthAdjust="spacingAndGlyphs" stroke="#000" stroke-width="0.4">1.5</text>
<text x="1875.60" y="144.10" font-family='"Liberation Sans", sans-serif' font-size="19" fill="#000" textLength="29.50" lengthAdjust="spacingAndGlyphs" stroke="#000" stroke-width="0.4">2.0</text>
<text x="15.50" y="689.00" font-family='"Liberation Sans", sans-serif' font-size="53.5" fill="#000" textLength="63.00" lengthAdjust="spacingAndGlyphs" stroke="#000" stroke-width="0.4">(c)</text>
<text x="103.20" y="1185.60" font-family='"Liberation Sans", sans-serif' font-size="19.6" fill="#000" textLength="26.40" lengthAdjust="spacingAndGlyphs" stroke="#000" stroke-width="0.4">0.0</text>
<text x="77.00" y="1165.90" font-family='"Liberation Sans", sans-serif' font-size="19.6" fill="#000" textLength="26.40" lengthAdjust="spacingAndGlyphs" stroke="#000" stroke-width="0.4">0.0</text>
<text x="190.42" y="1185.60" font-family='"Liberation Sans", sans-serif' font-size="19.6" fill="#000" textLength="26.40" lengthAdjust="spacingAndGlyphs" stroke="#000" stroke-width="0.4">0.2</text>
<text x="77.00" y="1082.48" font-family='"Liberation Sans", sans-serif' font-size="19.6" fill="#000" textLength="26.40" lengthAdjust="spacingAndGlyphs" stroke="#000" stroke-width="0.4">0.2</text>
<text x="277.64" y="1185.60" font-family='"Liberation Sans", sans-serif' font-size="19.6" fill="#000" textLength="26.40" lengthAdjust="spacingAndGlyphs" stroke="#000" stroke-width="0.4">0.4</text>
<text x="77.00" y="999.06" font-family='"Liberation Sans", sans-serif' font-size="19.6" fill="#000" textLength="26.40" lengthAdjust="spacingAndGlyphs" stroke="#000" stroke-width="0.4">0.4</text>
<text x="364.86" y="1185.60" font-family='"Liberation Sans", sans-serif' font-size="19.6" fill="#000" textLength="26.40" lengthAdjust="spacingAndGlyphs" stroke="#000" stroke-width="0.4">0.6</text>
<text x="77.00" y="915.64" font-family='"Liberation Sans", sans-serif' font-size="19.6" fill="#000" textLength="26.40" lengthAdjust="spacingAndGlyphs" stroke="#000" stroke-width="0.4">0.6</text>
<text x="452.08" y="1185.60" font-family='"Liberation Sans", sans-serif' font-size="19.6" fill="#000" textLength="26.40" lengthAdjust="spacingAndGlyphs" stroke="#000" stroke-width="0.4">0.8</text>
<text x="77.00" y="832.22" font-family='"Liberation Sans", sans-serif' font-size="19.6" fill="#000" textLength="26.40" lengthAdjust="spacingAndGlyphs" stroke="#000" stroke-width="0.4">0.8</text>
<text x="539.30" y="1185.60" font-family='"Liberation Sans", sans-serif' font-size="19.6" fill="#000" textLength="26.40" lengthAdjust="spacingAndGlyphs" stroke="#000" stroke-width="0.4">1.0</text>
<text x="77.00" y="748.80" font-family='"Liberation Sans", sans-serif' font-size="19.6" fill="#000" textLength="26.40" lengthAdjust="spacingAndGlyphs" stroke="#000" stroke-width="0.4">1.0</text>
<text x="116.70" y="1211.40" font-family='"Liberation Sans", sans-serif' font-size="21.8" fill="#000" textLength="435.80" lengthAdjust="spacingAndGlyphs" stroke="#000" stroke-width="0.12">[100] direction (fractional coordinates)</text>
<text x="63.40" y="1159.50" font-family='"Liberation Sans", sans-serif' font-size="21.8" fill="#000" textLength="420.10" lengthAdjust="spacingAndGlyphs" transform="rotate(-90 63.40 1159.50)" stroke="#000" stroke-width="0.12">[010] direction (fractional coordinates)</text>
<text x="314.00" y="719.90" font-family='"Liberation Sans", sans-serif' font-size="48" fill="#000" text-anchor="middle" stroke="#000" stroke-width="0.4">300 K</text>
<text x="610.2" y="1162.6" font-family='"Liberation Sans", sans-serif' font-size="13" textLength="14.5" lengthAdjust="spacingAndGlyphs">10</text>
<text x="625.2" y="1156.8" font-family='"Liberation Sans", sans-serif' font-size="9" >0</text>
<text x="610.2" y="1000.4" font-family='"Liberation Sans", sans-serif' font-size="13" textLength="14.5" lengthAdjust="spacingAndGlyphs">10</text>
<text x="625.2" y="994.5" font-family='"Liberation Sans", sans-serif' font-size="9" >1</text>
<text x="610.2" y="838.1" font-family='"Liberation Sans", sans-serif' font-size="13" textLength="14.5" lengthAdjust="spacingAndGlyphs">10</text>
<text x="625.2" y="832.3" font-family='"Liberation Sans", sans-serif' font-size="9" >2</text>
<text x="744.40" y="1185.60" font-family='"Liberation Sans", sans-serif' font-size="19.6" fill="#000" textLength="26.40" lengthAdjust="spacingAndGlyphs" stroke="#000" stroke-width="0.4">0.0</text>
<text x="718.20" y="1165.90" font-family='"Liberation Sans", sans-serif' font-size="19.6" fill="#000" textLength="26.40" lengthAdjust="spacingAndGlyphs" stroke="#000" stroke-width="0.4">0.0</text>
<text x="831.78" y="1185.60" font-family='"Liberation Sans", sans-serif' font-size="19.6" fill="#000" textLength="26.40" lengthAdjust="spacingAndGlyphs" stroke="#000" stroke-width="0.4">0.2</text>
<text x="718.20" y="1082.48" font-family='"Liberation Sans", sans-serif' font-size="19.6" fill="#000" textLength="26.40" lengthAdjust="spacingAndGlyphs" stroke="#000" stroke-width="0.4">0.2</text>
<text x="919.16" y="1185.60" font-family='"Liberation Sans", sans-serif' font-size="19.6" fill="#000" textLength="26.40" lengthAdjust="spacingAndGlyphs" stroke="#000" stroke-width="0.4">0.4</text>
<text x="718.20" y="999.06" font-family='"Liberation Sans", sans-serif' font-size="19.6" fill="#000" textLength="26.40" lengthAdjust="spacingAndGlyphs" stroke="#000" stroke-width="0.4">0.4</text>
<text x="1006.54" y="1185.60" font-family='"Liberation Sans", sans-serif' font-size="19.6" fill="#000" textLength="26.40" lengthAdjust="spacingAndGlyphs" stroke="#000" stroke-width="0.4">0.6</text>
<text x="718.20" y="915.64" font-family='"Liberation Sans", sans-serif' font-size="19.6" fill="#000" textLength="26.40" lengthAdjust="spacingAndGlyphs" stroke="#000" stroke-width="0.4">0.6</text>
<text x="1093.92" y="1185.60" font-family='"Liberation Sans", sans-serif' font-size="19.6" fill="#000" textLength="26.40" lengthAdjust="spacingAndGlyphs" stroke="#000" stroke-width="0.4">0.8</text>
<text x="718.20" y="832.22" font-family='"Liberation Sans", sans-serif' font-size="19.6" fill="#000" textLength="26.40" lengthAdjust="spacingAndGlyphs" stroke="#000" stroke-width="0.4">0.8</text>
<text x="1181.30" y="1185.60" font-family='"Liberation Sans", sans-serif' font-size="19.6" fill="#000" textLength="26.40" lengthAdjust="spacingAndGlyphs" stroke="#000" stroke-width="0.4">1.0</text>
<text x="718.20" y="748.80" font-family='"Liberation Sans", sans-serif' font-size="19.6" fill="#000" textLength="26.40" lengthAdjust="spacingAndGlyphs" stroke="#000" stroke-width="0.4">1.0</text>
<text x="757.90" y="1211.40" font-family='"Liberation Sans", sans-serif' font-size="21.8" fill="#000" textLength="436.60" lengthAdjust="spacingAndGlyphs" stroke="#000" stroke-width="0.12">[100] direction (fractional coordinates)</text>
<text x="704.60" y="1159.50" font-family='"Liberation Sans", sans-serif' font-size="21.8" fill="#000" textLength="420.10" lengthAdjust="spacingAndGlyphs" transform="rotate(-90 704.60 1159.50)" stroke="#000" stroke-width="0.12">[010] direction (fractional coordinates)</text>
<text x="967.50" y="719.90" font-family='"Liberation Sans", sans-serif' font-size="48" fill="#000" text-anchor="middle" stroke="#000" stroke-width="0.4">600 K</text>
<text x="1252.2" y="1162.4" font-family='"Liberation Sans", sans-serif' font-size="13" textLength="14.5" lengthAdjust="spacingAndGlyphs">10</text>
<text x="1267.2" y="1156.6" font-family='"Liberation Sans", sans-serif' font-size="9" >0</text>
<text x="1252.2" y="971.4" font-family='"Liberation Sans", sans-serif' font-size="13" textLength="14.5" lengthAdjust="spacingAndGlyphs">10</text>
<text x="1267.2" y="965.6" font-family='"Liberation Sans", sans-serif' font-size="9" >1</text>
<text x="1252.2" y="780.4" font-family='"Liberation Sans", sans-serif' font-size="13" textLength="14.5" lengthAdjust="spacingAndGlyphs">10</text>
<text x="1267.2" y="774.6" font-family='"Liberation Sans", sans-serif' font-size="9" >2</text>
<text x="1389.40" y="1185.60" font-family='"Liberation Sans", sans-serif' font-size="19.6" fill="#000" textLength="26.40" lengthAdjust="spacingAndGlyphs" stroke="#000" stroke-width="0.4">0.0</text>
<text x="1363.20" y="1165.90" font-family='"Liberation Sans", sans-serif' font-size="19.6" fill="#000" textLength="26.40" lengthAdjust="spacingAndGlyphs" stroke="#000" stroke-width="0.4">0.0</text>
<text x="1476.78" y="1185.60" font-family='"Liberation Sans", sans-serif' font-size="19.6" fill="#000" textLength="26.40" lengthAdjust="spacingAndGlyphs" stroke="#000" stroke-width="0.4">0.2</text>
<text x="1363.20" y="1082.48" font-family='"Liberation Sans", sans-serif' font-size="19.6" fill="#000" textLength="26.40" lengthAdjust="spacingAndGlyphs" stroke="#000" stroke-width="0.4">0.2</text>
<text x="1564.16" y="1185.60" font-family='"Liberation Sans", sans-serif' font-size="19.6" fill="#000" textLength="26.40" lengthAdjust="spacingAndGlyphs" stroke="#000" stroke-width="0.4">0.4</text>
<text x="1363.20" y="999.06" font-family='"Liberation Sans", sans-serif' font-size="19.6" fill="#000" textLength="26.40" lengthAdjust="spacingAndGlyphs" stroke="#000" stroke-width="0.4">0.4</text>
<text x="1651.54" y="1185.60" font-family='"Liberation Sans", sans-serif' font-size="19.6" fill="#000" textLength="26.40" lengthAdjust="spacingAndGlyphs" stroke="#000" stroke-width="0.4">0.6</text>
<text x="1363.20" y="915.64" font-family='"Liberation Sans", sans-serif' font-size="19.6" fill="#000" textLength="26.40" lengthAdjust="spacingAndGlyphs" stroke="#000" stroke-width="0.4">0.6</text>
<text x="1738.92" y="1185.60" font-family='"Liberation Sans", sans-serif' font-size="19.6" fill="#000" textLength="26.40" lengthAdjust="spacingAndGlyphs" stroke="#000" stroke-width="0.4">0.8</text>
<text x="1363.20" y="832.22" font-family='"Liberation Sans", sans-serif' font-size="19.6" fill="#000" textLength="26.40" lengthAdjust="spacingAndGlyphs" stroke="#000" stroke-width="0.4">0.8</text>
<text x="1826.30" y="1185.60" font-family='"Liberation Sans", sans-serif' font-size="19.6" fill="#000" textLength="26.40" lengthAdjust="spacingAndGlyphs" stroke="#000" stroke-width="0.4">1.0</text>
<text x="1363.20" y="748.80" font-family='"Liberation Sans", sans-serif' font-size="19.6" fill="#000" textLength="26.40" lengthAdjust="spacingAndGlyphs" stroke="#000" stroke-width="0.4">1.0</text>
<text x="1402.90" y="1211.40" font-family='"Liberation Sans", sans-serif' font-size="21.8" fill="#000" textLength="436.60" lengthAdjust="spacingAndGlyphs" stroke="#000" stroke-width="0.12">[100] direction (fractional coordinates)</text>
<text x="1349.60" y="1159.50" font-family='"Liberation Sans", sans-serif' font-size="21.8" fill="#000" textLength="420.10" lengthAdjust="spacingAndGlyphs" transform="rotate(-90 1349.60 1159.50)" stroke="#000" stroke-width="0.12">[010] direction (fractional coordinates)</text>
<text x="1621.00" y="719.90" font-family='"Liberation Sans", sans-serif' font-size="48" fill="#000" text-anchor="middle" stroke="#000" stroke-width="0.4">900 K</text>
<text x="1897.4" y="1162.9" font-family='"Liberation Sans", sans-serif' font-size="13" textLength="14.5" lengthAdjust="spacingAndGlyphs">10</text>
<text x="1912.4" y="1157.1" font-family='"Liberation Sans", sans-serif' font-size="9" >0</text>
<text x="1897.4" y="965.9" font-family='"Liberation Sans", sans-serif' font-size="13" textLength="14.5" lengthAdjust="spacingAndGlyphs">10</text>
<text x="1912.4" y="960.1" font-family='"Liberation Sans", sans-serif' font-size="9" >1</text>
<text x="1897.4" y="768.9" font-family='"Liberation Sans", sans-serif' font-size="13" textLength="14.5" lengthAdjust="spacingAndGlyphs">10</text>
<text x="1912.4" y="763.1" font-family='"Liberation Sans", sans-serif' font-size="9" >2</text>
</g>
</svg>
</body></html>
